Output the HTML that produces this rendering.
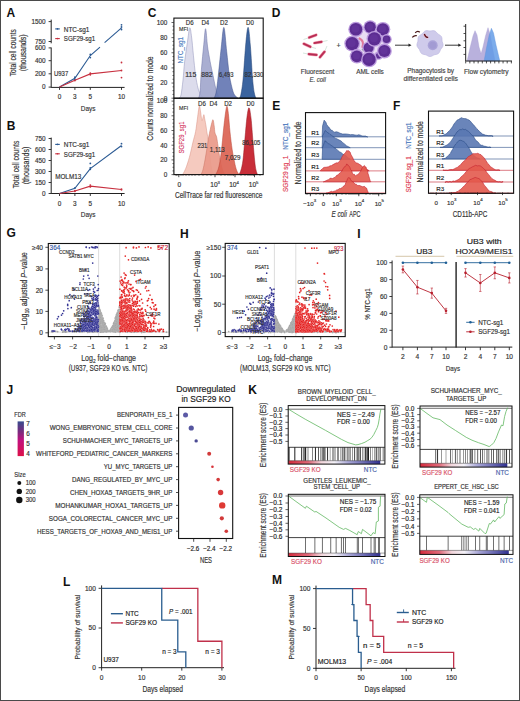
<!DOCTYPE html>
<html><head><meta charset="utf-8"><title>Figure</title>
<style>
html,body{margin:0;padding:0;background:#fff;}
body{width:520px;height:701px;overflow:hidden;position:relative;}
svg{position:absolute;left:0;top:0;display:block;}
text{font-family:"Liberation Sans", sans-serif;}
.frame{position:absolute;left:0;top:0;width:518px;height:699px;border:1px solid #444;}
</style></head>
<body>
<svg width="520" height="701" viewBox="0 0 520 701" font-family="Liberation Sans, sans-serif">
<rect x="0" y="0" width="520" height="701" fill="#fff"/>
<text x="6.60" y="16.79" font-size="12" text-anchor="start" fill="#111" stroke="#111" stroke-width="0" font-weight="bold" >A</text>
<line x1="51.20" y1="19.60" x2="51.20" y2="43.30" stroke="#222" stroke-width="1.0" />
<line x1="51.20" y1="47.50" x2="51.20" y2="87.80" stroke="#222" stroke-width="1.0" />
<line x1="48.60" y1="21.60" x2="51.20" y2="21.60" stroke="#222" stroke-width="0.9" />
<text x="45.60" y="23.90" font-size="6.4" text-anchor="end" fill="#333" stroke="#333" stroke-width="0.16" >1500</text>
<line x1="48.60" y1="41.50" x2="51.20" y2="41.50" stroke="#222" stroke-width="0.9" />
<text x="45.60" y="43.80" font-size="6.4" text-anchor="end" fill="#333" stroke="#333" stroke-width="0.16" >750</text>
<line x1="48.60" y1="47.90" x2="51.20" y2="47.90" stroke="#222" stroke-width="0.9" />
<text x="45.60" y="50.20" font-size="6.4" text-anchor="end" fill="#333" stroke="#333" stroke-width="0.16" >600</text>
<line x1="48.60" y1="60.70" x2="51.20" y2="60.70" stroke="#222" stroke-width="0.9" />
<text x="45.60" y="63.00" font-size="6.4" text-anchor="end" fill="#333" stroke="#333" stroke-width="0.16" >400</text>
<line x1="48.60" y1="73.80" x2="51.20" y2="73.80" stroke="#222" stroke-width="0.9" />
<text x="45.60" y="76.10" font-size="6.4" text-anchor="end" fill="#333" stroke="#333" stroke-width="0.16" >200</text>
<line x1="48.60" y1="87.10" x2="51.20" y2="87.10" stroke="#222" stroke-width="0.9" />
<text x="45.60" y="89.40" font-size="6.4" text-anchor="end" fill="#333" stroke="#333" stroke-width="0.16" >0</text>
<line x1="51.20" y1="87.40" x2="124.60" y2="87.40" stroke="#222" stroke-width="1.0" />
<line x1="59.50" y1="87.40" x2="59.50" y2="89.90" stroke="#222" stroke-width="0.9" />
<text x="59.50" y="98.80" font-size="6.4" text-anchor="middle" fill="#333" stroke="#333" stroke-width="0.16" >0</text>
<line x1="74.90" y1="87.40" x2="74.90" y2="89.90" stroke="#222" stroke-width="0.9" />
<text x="74.90" y="98.80" font-size="6.4" text-anchor="middle" fill="#333" stroke="#333" stroke-width="0.16" >3</text>
<line x1="90.30" y1="87.40" x2="90.30" y2="89.90" stroke="#222" stroke-width="0.9" />
<text x="90.30" y="98.80" font-size="6.4" text-anchor="middle" fill="#333" stroke="#333" stroke-width="0.16" >5</text>
<line x1="121.50" y1="87.40" x2="121.50" y2="89.90" stroke="#222" stroke-width="0.9" />
<text x="121.50" y="98.80" font-size="6.4" text-anchor="middle" fill="#333" stroke="#333" stroke-width="0.16" >10</text>
<text x="88.10" y="111.28" font-size="8" text-anchor="middle" fill="#333" stroke="#333" stroke-width="0.16" textLength="14.6" lengthAdjust="spacingAndGlyphs" >Days</text>
<text transform="translate(12.70,52.70) rotate(-90)" x="0" y="3.10" font-size="8.6" text-anchor="middle" fill="#333" stroke="#333" stroke-width="0.16" textLength="47.3" lengthAdjust="spacingAndGlyphs" >Total cell counts</text>
<text transform="translate(23.20,52.90) rotate(-90)" x="0" y="3.10" font-size="8.6" text-anchor="middle" fill="#333" stroke="#333" stroke-width="0.16" textLength="36.8" lengthAdjust="spacingAndGlyphs" >(thousands)</text>
<line x1="55.20" y1="28.90" x2="59.80" y2="28.90" stroke="#2c5b94" stroke-width="1.1" />
<circle cx="57.50" cy="28.90" r="0.80" fill="#2c5b94" stroke="none" stroke-width="0.5" />
<text x="63.80" y="31.70" font-size="6.4" text-anchor="start" fill="#333" stroke="#333" stroke-width="0.16" textLength="25.6" lengthAdjust="spacingAndGlyphs" >NTC-sg1</text>
<line x1="55.20" y1="38.60" x2="59.80" y2="38.60" stroke="#c8303f" stroke-width="1.1" />
<circle cx="57.50" cy="38.60" r="0.80" fill="#c8303f" stroke="none" stroke-width="0.5" />
<text x="63.80" y="41.40" font-size="6.4" text-anchor="start" fill="#333" stroke="#333" stroke-width="0.16" textLength="31.4" lengthAdjust="spacingAndGlyphs" >SGF29-sg1</text>
<text x="54.00" y="76.30" font-size="6.4" text-anchor="start" fill="#333" stroke="#333" stroke-width="0.16" textLength="14.2" lengthAdjust="spacingAndGlyphs" >U937</text>
<path d="M59.50,87.10 L74.90,78.30 L90.30,55.50 L100.00,47.20" fill="none" stroke="#2c5b94" stroke-width="1.1" />
<path d="M104.60,42.60 L121.50,27.80" fill="none" stroke="#2c5b94" stroke-width="1.1" />
<circle cx="74.90" cy="77.20" r="0.90" fill="#2c5b94" stroke="none" stroke-width="0.5" />
<circle cx="74.90" cy="79.50" r="0.90" fill="#2c5b94" stroke="none" stroke-width="0.5" />
<circle cx="90.30" cy="54.50" r="0.90" fill="#2c5b94" stroke="none" stroke-width="0.5" />
<circle cx="90.30" cy="57.60" r="0.90" fill="#2c5b94" stroke="none" stroke-width="0.5" />
<circle cx="121.50" cy="24.80" r="0.90" fill="#2c5b94" stroke="none" stroke-width="0.5" />
<circle cx="121.50" cy="29.50" r="0.90" fill="#2c5b94" stroke="none" stroke-width="0.5" />
<circle cx="121.50" cy="27.00" r="0.90" fill="#2c5b94" stroke="none" stroke-width="0.5" />
<path d="M59.50,87.10 L74.90,80.30 L90.30,73.90 L121.50,70.50" fill="none" stroke="#c8303f" stroke-width="1.1" />
<circle cx="74.90" cy="80.50" r="0.90" fill="#c8303f" stroke="none" stroke-width="0.5" />
<circle cx="90.30" cy="73.20" r="0.90" fill="#c8303f" stroke="none" stroke-width="0.5" />
<circle cx="90.30" cy="74.80" r="0.90" fill="#c8303f" stroke="none" stroke-width="0.5" />
<circle cx="121.50" cy="62.50" r="0.90" fill="#c8303f" stroke="none" stroke-width="0.5" />
<circle cx="121.50" cy="77.60" r="0.90" fill="#c8303f" stroke="none" stroke-width="0.5" />
<circle cx="121.50" cy="70.50" r="0.90" fill="#c8303f" stroke="none" stroke-width="0.5" />
<text x="6.80" y="129.79" font-size="12" text-anchor="start" fill="#111" stroke="#111" stroke-width="0" font-weight="bold" >B</text>
<line x1="51.20" y1="137.60" x2="51.20" y2="194.00" stroke="#222" stroke-width="1.0" />
<line x1="48.60" y1="138.50" x2="51.20" y2="138.50" stroke="#222" stroke-width="0.9" />
<text x="45.60" y="140.80" font-size="6.4" text-anchor="end" fill="#333" stroke="#333" stroke-width="0.16" >750</text>
<line x1="48.60" y1="149.50" x2="51.20" y2="149.50" stroke="#222" stroke-width="0.9" />
<text x="45.60" y="151.80" font-size="6.4" text-anchor="end" fill="#333" stroke="#333" stroke-width="0.16" >600</text>
<line x1="48.60" y1="160.50" x2="51.20" y2="160.50" stroke="#222" stroke-width="0.9" />
<text x="45.60" y="162.80" font-size="6.4" text-anchor="end" fill="#333" stroke="#333" stroke-width="0.16" >450</text>
<line x1="48.60" y1="171.50" x2="51.20" y2="171.50" stroke="#222" stroke-width="0.9" />
<text x="45.60" y="173.80" font-size="6.4" text-anchor="end" fill="#333" stroke="#333" stroke-width="0.16" >300</text>
<line x1="48.60" y1="182.50" x2="51.20" y2="182.50" stroke="#222" stroke-width="0.9" />
<text x="45.60" y="184.80" font-size="6.4" text-anchor="end" fill="#333" stroke="#333" stroke-width="0.16" >150</text>
<line x1="48.60" y1="193.50" x2="51.20" y2="193.50" stroke="#222" stroke-width="0.9" />
<text x="45.60" y="195.80" font-size="6.4" text-anchor="end" fill="#333" stroke="#333" stroke-width="0.16" >0</text>
<line x1="51.20" y1="193.50" x2="124.60" y2="193.50" stroke="#222" stroke-width="1.0" />
<line x1="59.50" y1="193.50" x2="59.50" y2="196.00" stroke="#222" stroke-width="0.9" />
<text x="59.50" y="206.00" font-size="6.4" text-anchor="middle" fill="#333" stroke="#333" stroke-width="0.16" >0</text>
<line x1="74.90" y1="193.50" x2="74.90" y2="196.00" stroke="#222" stroke-width="0.9" />
<text x="74.90" y="206.00" font-size="6.4" text-anchor="middle" fill="#333" stroke="#333" stroke-width="0.16" >3</text>
<line x1="90.30" y1="193.50" x2="90.30" y2="196.00" stroke="#222" stroke-width="0.9" />
<text x="90.30" y="206.00" font-size="6.4" text-anchor="middle" fill="#333" stroke="#333" stroke-width="0.16" >5</text>
<line x1="121.50" y1="193.50" x2="121.50" y2="196.00" stroke="#222" stroke-width="0.9" />
<text x="121.50" y="206.00" font-size="6.4" text-anchor="middle" fill="#333" stroke="#333" stroke-width="0.16" >10</text>
<text x="88.10" y="217.08" font-size="8" text-anchor="middle" fill="#333" stroke="#333" stroke-width="0.16" textLength="14.6" lengthAdjust="spacingAndGlyphs" >Days</text>
<text transform="translate(16.20,164.50) rotate(-90)" x="0" y="3.10" font-size="8.6" text-anchor="middle" fill="#333" stroke="#333" stroke-width="0.16" textLength="47.5" lengthAdjust="spacingAndGlyphs" >Total cell counts</text>
<text transform="translate(26.30,165.40) rotate(-90)" x="0" y="3.10" font-size="8.6" text-anchor="middle" fill="#333" stroke="#333" stroke-width="0.16" textLength="37.8" lengthAdjust="spacingAndGlyphs" >(thousands)</text>
<line x1="55.20" y1="144.40" x2="59.80" y2="144.40" stroke="#2c5b94" stroke-width="1.1" />
<circle cx="57.50" cy="144.40" r="0.80" fill="#2c5b94" stroke="none" stroke-width="0.5" />
<text x="63.80" y="147.10" font-size="6.4" text-anchor="start" fill="#333" stroke="#333" stroke-width="0.16" textLength="25.6" lengthAdjust="spacingAndGlyphs" >NTC-sg1</text>
<line x1="55.20" y1="153.80" x2="59.80" y2="153.80" stroke="#c8303f" stroke-width="1.1" />
<circle cx="57.50" cy="153.80" r="0.80" fill="#c8303f" stroke="none" stroke-width="0.5" />
<text x="63.80" y="156.50" font-size="6.4" text-anchor="start" fill="#333" stroke="#333" stroke-width="0.16" textLength="31.4" lengthAdjust="spacingAndGlyphs" >SGF29-sg1</text>
<text x="55.20" y="178.50" font-size="6.4" text-anchor="start" fill="#333" stroke="#333" stroke-width="0.16" textLength="26" lengthAdjust="spacingAndGlyphs" >MOLM13</text>
<path d="M59.50,193.50 L74.90,188.37 L90.30,168.57 L121.50,145.47" fill="none" stroke="#2c5b94" stroke-width="1.1" />
<circle cx="74.90" cy="188.00" r="0.90" fill="#2c5b94" stroke="none" stroke-width="0.5" />
<circle cx="90.30" cy="169.30" r="0.90" fill="#2c5b94" stroke="none" stroke-width="0.5" />
<circle cx="90.30" cy="167.83" r="0.90" fill="#2c5b94" stroke="none" stroke-width="0.5" />
<circle cx="90.30" cy="163.43" r="0.90" fill="#2c5b94" stroke="none" stroke-width="0.5" />
<circle cx="121.50" cy="146.57" r="0.90" fill="#2c5b94" stroke="none" stroke-width="0.5" />
<circle cx="121.50" cy="143.63" r="0.90" fill="#2c5b94" stroke="none" stroke-width="0.5" />
<path d="M59.50,193.50 L74.90,190.93 L90.30,186.17 L121.50,189.47" fill="none" stroke="#c8303f" stroke-width="1.1" />
<circle cx="74.90" cy="190.57" r="0.90" fill="#c8303f" stroke="none" stroke-width="0.5" />
<circle cx="74.90" cy="191.30" r="0.90" fill="#c8303f" stroke="none" stroke-width="0.5" />
<circle cx="90.30" cy="186.90" r="0.90" fill="#c8303f" stroke="none" stroke-width="0.5" />
<circle cx="90.30" cy="185.07" r="0.90" fill="#c8303f" stroke="none" stroke-width="0.5" />
<circle cx="121.50" cy="189.83" r="0.90" fill="#c8303f" stroke="none" stroke-width="0.5" />
<circle cx="121.50" cy="189.10" r="0.90" fill="#c8303f" stroke="none" stroke-width="0.5" />
<text x="147.80" y="16.59" font-size="12" text-anchor="start" fill="#111" stroke="#111" stroke-width="0" font-weight="bold" >C</text>
<path d="M179.00,98.20 C179.33,97.67 180.33,98.03 181.00,95.00 C181.67,91.97 182.40,85.50 183.00,80.00 C183.60,74.50 183.87,68.27 184.60,62.00 C185.33,55.73 186.55,48.10 187.40,42.40 C188.25,36.70 189.00,28.70 189.70,27.80 C190.40,26.90 190.98,32.43 191.60,37.00 C192.22,41.57 192.73,48.82 193.40,55.20 C194.07,61.58 194.83,69.83 195.60,75.30 C196.37,80.77 197.23,84.95 198.00,88.00 C198.77,91.05 199.23,91.90 200.20,93.60 C201.17,95.30 203.20,97.43 203.80,98.20 Z" fill="#d9d9eb" stroke="#8e90b8" stroke-width="0.5" fill-opacity="0.93"/>
<path d="M198.50,98.20 C198.75,97.17 199.52,96.73 200.00,92.00 C200.48,87.27 200.77,77.75 201.40,69.80 C202.03,61.85 203.10,51.15 203.80,44.30 C204.50,37.45 204.98,28.40 205.60,28.70 C206.22,29.00 206.88,41.38 207.50,46.10 C208.12,50.82 208.72,53.68 209.30,57.00 C209.88,60.32 210.38,62.95 211.00,66.00 C211.62,69.05 212.22,71.62 213.00,75.30 C213.78,78.98 214.87,84.82 215.70,88.10 C216.53,91.38 217.28,93.32 218.00,95.00 C218.72,96.68 219.67,97.67 220.00,98.20 Z" fill="#a3a8ce" stroke="#6d73a5" stroke-width="0.5" fill-opacity="0.93"/>
<path d="M214.00,98.20 C214.33,97.33 215.35,96.20 216.00,93.00 C216.65,89.80 217.03,86.52 217.90,79.00 C218.77,71.48 220.20,56.50 221.20,47.90 C222.20,39.30 222.98,26.78 223.90,27.40 C224.82,28.02 225.78,43.62 226.70,51.60 C227.62,59.58 228.33,68.60 229.40,75.30 C230.47,82.00 232.00,88.27 233.10,91.80 C234.20,95.33 235.18,95.43 236.00,96.50 C236.82,97.57 237.67,97.92 238.00,98.20 Z" fill="#6679b4" stroke="#3e5188" stroke-width="0.5" fill-opacity="0.93"/>
<path d="M239.50,98.20 C239.75,97.50 240.40,97.20 241.00,94.00 C241.60,90.80 242.28,87.60 243.10,79.00 C243.92,70.40 245.05,51.00 245.90,42.40 C246.75,33.80 247.45,26.78 248.20,27.40 C248.95,28.02 249.67,37.50 250.40,46.10 C251.13,54.70 251.95,71.18 252.60,79.00 C253.25,86.82 253.73,89.80 254.30,93.00 C254.87,96.20 255.72,97.33 256.00,98.20 Z" fill="#2c5898" stroke="#1c3c70" stroke-width="0.5" fill-opacity="0.93"/>
<path d="M182.50,174.60 C182.85,174.00 183.85,172.60 184.60,171.00 C185.35,169.40 186.10,167.67 187.00,165.00 C187.90,162.33 189.00,158.83 190.00,155.00 C191.00,151.17 192.07,145.90 193.00,142.00 C193.93,138.10 194.85,135.60 195.60,131.60 C196.35,127.60 196.88,122.27 197.50,118.00 C198.12,113.73 198.78,107.00 199.30,106.00 C199.82,105.00 200.15,109.57 200.60,112.00 C201.05,114.43 201.47,120.15 202.00,120.60 C202.53,121.05 203.35,115.00 203.80,114.70 C204.25,114.40 204.33,116.92 204.70,118.80 C205.07,120.68 205.62,123.63 206.00,126.00 C206.38,128.37 206.60,130.55 207.00,133.00 C207.40,135.45 208.02,137.87 208.40,140.70 C208.78,143.53 209.00,146.95 209.30,150.00 C209.60,153.05 209.83,156.00 210.20,159.00 C210.57,162.00 211.03,165.75 211.50,168.00 C211.97,170.25 212.42,171.40 213.00,172.50 C213.58,173.60 214.67,174.25 215.00,174.60 Z" fill="#f4c6ba" stroke="#d98f80" stroke-width="0.5" fill-opacity="0.93"/>
<path d="M201.00,174.60 C201.32,173.83 202.23,172.43 202.90,170.00 C203.57,167.57 204.32,163.67 205.00,160.00 C205.68,156.33 206.42,151.67 207.00,148.00 C207.58,144.33 207.97,141.05 208.50,138.00 C209.03,134.95 209.70,132.03 210.20,129.70 C210.70,127.37 211.03,125.67 211.50,124.00 C211.97,122.33 212.55,119.37 213.00,119.70 C213.45,120.03 213.87,123.78 214.20,126.00 C214.53,128.22 214.60,131.17 215.00,133.00 C215.40,134.83 216.10,134.83 216.60,137.00 C217.10,139.17 217.53,142.95 218.00,146.00 C218.47,149.05 218.90,152.30 219.40,155.30 C219.90,158.30 220.40,161.38 221.00,164.00 C221.60,166.62 222.33,169.23 223.00,171.00 C223.67,172.77 224.67,174.00 225.00,174.60 Z" fill="#e99a8a" stroke="#c8705f" stroke-width="0.5" fill-opacity="0.93"/>
<path d="M215.50,174.60 C215.83,174.00 216.83,172.77 217.50,171.00 C218.17,169.23 218.83,167.50 219.50,164.00 C220.17,160.50 220.83,155.67 221.50,150.00 C222.17,144.33 222.83,136.17 223.50,130.00 C224.17,123.83 224.92,116.95 225.50,113.00 C226.08,109.05 226.50,105.97 227.00,106.30 C227.50,106.63 228.00,110.72 228.50,115.00 C229.00,119.28 229.38,126.20 230.00,132.00 C230.62,137.80 231.45,144.80 232.20,149.80 C232.95,154.80 233.78,158.63 234.50,162.00 C235.22,165.37 235.75,167.90 236.50,170.00 C237.25,172.10 238.58,173.83 239.00,174.60 Z" fill="#dc6454" stroke="#b84234" stroke-width="0.5" fill-opacity="0.93"/>
<path d="M239.00,174.60 C239.33,173.83 240.33,172.43 241.00,170.00 C241.67,167.57 242.33,165.33 243.00,160.00 C243.67,154.67 244.33,145.17 245.00,138.00 C245.67,130.83 246.33,122.03 247.00,117.00 C247.67,111.97 248.33,107.63 249.00,107.80 C249.67,107.97 250.33,112.30 251.00,118.00 C251.67,123.70 252.37,134.67 253.00,142.00 C253.63,149.33 254.30,157.33 254.80,162.00 C255.30,166.67 255.55,167.90 256.00,170.00 C256.45,172.10 257.25,173.83 257.50,174.60 Z" fill="#c41e2a" stroke="#95141e" stroke-width="0.5" fill-opacity="0.93"/>
<rect x="173.90" y="18.10" width="89.30" height="80.10" fill="none" stroke="#111" stroke-width="1.1" />
<rect x="173.90" y="98.20" width="89.30" height="76.40" fill="none" stroke="#111" stroke-width="1.1" />
<line x1="171.50" y1="98.20" x2="173.90" y2="98.20" stroke="#222" stroke-width="0.7" />
<text x="167.30" y="100.50" font-size="6.4" text-anchor="end" fill="#333" stroke="#333" stroke-width="0.16" >0</text>
<line x1="171.50" y1="174.60" x2="173.90" y2="174.60" stroke="#222" stroke-width="0.7" />
<text x="167.30" y="176.90" font-size="6.4" text-anchor="end" fill="#333" stroke="#333" stroke-width="0.16" >0</text>
<line x1="172.50" y1="94.42" x2="173.90" y2="94.42" stroke="#222" stroke-width="0.7" />
<line x1="172.50" y1="170.92" x2="173.90" y2="170.92" stroke="#222" stroke-width="0.7" />
<line x1="172.50" y1="90.63" x2="173.90" y2="90.63" stroke="#222" stroke-width="0.7" />
<line x1="172.50" y1="167.25" x2="173.90" y2="167.25" stroke="#222" stroke-width="0.7" />
<line x1="172.50" y1="86.84" x2="173.90" y2="86.84" stroke="#222" stroke-width="0.7" />
<line x1="172.50" y1="163.57" x2="173.90" y2="163.57" stroke="#222" stroke-width="0.7" />
<line x1="171.50" y1="83.06" x2="173.90" y2="83.06" stroke="#222" stroke-width="0.7" />
<text x="167.30" y="85.36" font-size="6.4" text-anchor="end" fill="#333" stroke="#333" stroke-width="0.16" >20</text>
<line x1="171.50" y1="159.90" x2="173.90" y2="159.90" stroke="#222" stroke-width="0.7" />
<text x="167.30" y="162.20" font-size="6.4" text-anchor="end" fill="#333" stroke="#333" stroke-width="0.16" >20</text>
<line x1="172.50" y1="79.28" x2="173.90" y2="79.28" stroke="#222" stroke-width="0.7" />
<line x1="172.50" y1="156.22" x2="173.90" y2="156.22" stroke="#222" stroke-width="0.7" />
<line x1="172.50" y1="75.49" x2="173.90" y2="75.49" stroke="#222" stroke-width="0.7" />
<line x1="172.50" y1="152.55" x2="173.90" y2="152.55" stroke="#222" stroke-width="0.7" />
<line x1="172.50" y1="71.70" x2="173.90" y2="71.70" stroke="#222" stroke-width="0.7" />
<line x1="172.50" y1="148.88" x2="173.90" y2="148.88" stroke="#222" stroke-width="0.7" />
<line x1="171.50" y1="67.92" x2="173.90" y2="67.92" stroke="#222" stroke-width="0.7" />
<text x="167.30" y="70.22" font-size="6.4" text-anchor="end" fill="#333" stroke="#333" stroke-width="0.16" >40</text>
<line x1="171.50" y1="145.20" x2="173.90" y2="145.20" stroke="#222" stroke-width="0.7" />
<text x="167.30" y="147.50" font-size="6.4" text-anchor="end" fill="#333" stroke="#333" stroke-width="0.16" >40</text>
<line x1="172.50" y1="64.14" x2="173.90" y2="64.14" stroke="#222" stroke-width="0.7" />
<line x1="172.50" y1="141.52" x2="173.90" y2="141.52" stroke="#222" stroke-width="0.7" />
<line x1="172.50" y1="60.35" x2="173.90" y2="60.35" stroke="#222" stroke-width="0.7" />
<line x1="172.50" y1="137.85" x2="173.90" y2="137.85" stroke="#222" stroke-width="0.7" />
<line x1="172.50" y1="56.57" x2="173.90" y2="56.57" stroke="#222" stroke-width="0.7" />
<line x1="172.50" y1="134.18" x2="173.90" y2="134.18" stroke="#222" stroke-width="0.7" />
<line x1="171.50" y1="52.78" x2="173.90" y2="52.78" stroke="#222" stroke-width="0.7" />
<text x="167.30" y="55.08" font-size="6.4" text-anchor="end" fill="#333" stroke="#333" stroke-width="0.16" >60</text>
<line x1="171.50" y1="130.50" x2="173.90" y2="130.50" stroke="#222" stroke-width="0.7" />
<text x="167.30" y="132.80" font-size="6.4" text-anchor="end" fill="#333" stroke="#333" stroke-width="0.16" >60</text>
<line x1="172.50" y1="49.00" x2="173.90" y2="49.00" stroke="#222" stroke-width="0.7" />
<line x1="172.50" y1="126.82" x2="173.90" y2="126.82" stroke="#222" stroke-width="0.7" />
<line x1="172.50" y1="45.21" x2="173.90" y2="45.21" stroke="#222" stroke-width="0.7" />
<line x1="172.50" y1="123.15" x2="173.90" y2="123.15" stroke="#222" stroke-width="0.7" />
<line x1="172.50" y1="41.43" x2="173.90" y2="41.43" stroke="#222" stroke-width="0.7" />
<line x1="172.50" y1="119.47" x2="173.90" y2="119.47" stroke="#222" stroke-width="0.7" />
<line x1="171.50" y1="37.64" x2="173.90" y2="37.64" stroke="#222" stroke-width="0.7" />
<text x="167.30" y="39.94" font-size="6.4" text-anchor="end" fill="#333" stroke="#333" stroke-width="0.16" >80</text>
<line x1="171.50" y1="115.80" x2="173.90" y2="115.80" stroke="#222" stroke-width="0.7" />
<text x="167.30" y="118.10" font-size="6.4" text-anchor="end" fill="#333" stroke="#333" stroke-width="0.16" >80</text>
<line x1="172.50" y1="33.86" x2="173.90" y2="33.86" stroke="#222" stroke-width="0.7" />
<line x1="172.50" y1="112.12" x2="173.90" y2="112.12" stroke="#222" stroke-width="0.7" />
<line x1="172.50" y1="30.07" x2="173.90" y2="30.07" stroke="#222" stroke-width="0.7" />
<line x1="172.50" y1="108.45" x2="173.90" y2="108.45" stroke="#222" stroke-width="0.7" />
<line x1="172.50" y1="26.28" x2="173.90" y2="26.28" stroke="#222" stroke-width="0.7" />
<line x1="172.50" y1="104.77" x2="173.90" y2="104.77" stroke="#222" stroke-width="0.7" />
<line x1="171.50" y1="22.50" x2="173.90" y2="22.50" stroke="#222" stroke-width="0.7" />
<text x="167.30" y="24.80" font-size="6.4" text-anchor="end" fill="#333" stroke="#333" stroke-width="0.16" >100</text>
<line x1="171.50" y1="101.10" x2="173.90" y2="101.10" stroke="#222" stroke-width="0.7" />
<text x="167.30" y="103.40" font-size="6.4" text-anchor="end" fill="#333" stroke="#333" stroke-width="0.16" >100</text>
<text x="189.70" y="25.20" font-size="6.4" text-anchor="middle" fill="#333" stroke="#333" stroke-width="0.16" textLength="7.8" lengthAdjust="spacingAndGlyphs" >D6</text>
<text x="205.30" y="25.20" font-size="6.4" text-anchor="middle" fill="#333" stroke="#333" stroke-width="0.16" textLength="7.8" lengthAdjust="spacingAndGlyphs" >D4</text>
<text x="223.90" y="25.20" font-size="6.4" text-anchor="middle" fill="#333" stroke="#333" stroke-width="0.16" textLength="7.8" lengthAdjust="spacingAndGlyphs" >D2</text>
<text x="250.00" y="25.20" font-size="6.4" text-anchor="middle" fill="#333" stroke="#333" stroke-width="0.16" textLength="7.8" lengthAdjust="spacingAndGlyphs" >D0</text>
<text x="179.10" y="30.96" font-size="6.0" text-anchor="start" fill="#333" stroke="#333" stroke-width="0.16" textLength="9.0" lengthAdjust="spacingAndGlyphs" >MFI</text>
<text transform="translate(180.20,50.20) rotate(-90)" x="0" y="2.52" font-size="7.0" text-anchor="middle" fill="#4d7cc0" stroke="#4d7cc0" stroke-width="0.16" textLength="26.4" lengthAdjust="spacingAndGlyphs" >NTC_sg1</text>
<text x="190.80" y="76.78" font-size="6.6" text-anchor="middle" fill="#333" stroke="#333" stroke-width="0.16" textLength="11" lengthAdjust="spacingAndGlyphs" >115</text>
<text x="206.80" y="76.78" font-size="6.6" text-anchor="middle" fill="#333" stroke="#333" stroke-width="0.16" textLength="11.3" lengthAdjust="spacingAndGlyphs" >882</text>
<text x="226.20" y="76.78" font-size="6.6" text-anchor="middle" fill="#333" stroke="#333" stroke-width="0.16" textLength="14.5" lengthAdjust="spacingAndGlyphs" >6,493</text>
<text x="254.00" y="76.78" font-size="6.6" text-anchor="middle" fill="#333" stroke="#333" stroke-width="0.16" textLength="19" lengthAdjust="spacingAndGlyphs" >82,330</text>
<text x="202.00" y="105.50" font-size="6.4" text-anchor="middle" fill="#333" stroke="#333" stroke-width="0.16" textLength="7.8" lengthAdjust="spacingAndGlyphs" >D6</text>
<text x="213.50" y="105.50" font-size="6.4" text-anchor="middle" fill="#333" stroke="#333" stroke-width="0.16" textLength="7.8" lengthAdjust="spacingAndGlyphs" >D4</text>
<text x="228.10" y="105.50" font-size="6.4" text-anchor="middle" fill="#333" stroke="#333" stroke-width="0.16" textLength="7.8" lengthAdjust="spacingAndGlyphs" >D2</text>
<text x="250.40" y="105.50" font-size="6.4" text-anchor="middle" fill="#333" stroke="#333" stroke-width="0.16" textLength="7.8" lengthAdjust="spacingAndGlyphs" >D0</text>
<text x="179.10" y="110.36" font-size="6.0" text-anchor="start" fill="#333" stroke="#333" stroke-width="0.16" textLength="9.0" lengthAdjust="spacingAndGlyphs" >MFI</text>
<text transform="translate(181.90,137.50) rotate(-90)" x="0" y="2.52" font-size="7.0" text-anchor="middle" fill="#d6406a" stroke="#d6406a" stroke-width="0.16" textLength="32" lengthAdjust="spacingAndGlyphs" >SGF29_sg1</text>
<text x="202.40" y="148.18" font-size="6.6" text-anchor="middle" fill="#333" stroke="#333" stroke-width="0.16" textLength="10" lengthAdjust="spacingAndGlyphs" >231</text>
<text x="217.30" y="152.18" font-size="6.6" text-anchor="middle" fill="#333" stroke="#333" stroke-width="0.16" textLength="14.9" lengthAdjust="spacingAndGlyphs" >1,113</text>
<text x="232.60" y="160.48" font-size="6.6" text-anchor="middle" fill="#333" stroke="#333" stroke-width="0.16" textLength="15.6" lengthAdjust="spacingAndGlyphs" >7,029</text>
<text x="251.30" y="144.58" font-size="6.6" text-anchor="middle" fill="#333" stroke="#333" stroke-width="0.16" textLength="18.3" lengthAdjust="spacingAndGlyphs" >86,105</text>
<text x="179.40" y="186.98" font-size="6.6" text-anchor="middle" fill="#333" stroke="#333" stroke-width="0.16" >0</text>
<text x="214.00" y="187.38" font-size="6.6" text-anchor="middle" fill="#333" stroke="#333" stroke-width="0.16" >10</text>
<text x="217.60" y="183.75" font-size="4.3" text-anchor="start" fill="#333" stroke="#333" stroke-width="0.16" >3</text>
<text x="232.80" y="187.38" font-size="6.6" text-anchor="middle" fill="#333" stroke="#333" stroke-width="0.16" >10</text>
<text x="236.40" y="183.75" font-size="4.3" text-anchor="start" fill="#333" stroke="#333" stroke-width="0.16" >4</text>
<text x="252.40" y="187.38" font-size="6.6" text-anchor="middle" fill="#333" stroke="#333" stroke-width="0.16" >10</text>
<text x="256.00" y="183.75" font-size="4.3" text-anchor="start" fill="#333" stroke="#333" stroke-width="0.16" >5</text>
<line x1="178.80" y1="174.60" x2="178.80" y2="177.20" stroke="#222" stroke-width="0.8" />
<line x1="215.00" y1="174.60" x2="215.00" y2="177.20" stroke="#222" stroke-width="0.8" />
<line x1="235.00" y1="174.60" x2="235.00" y2="177.20" stroke="#222" stroke-width="0.8" />
<line x1="254.50" y1="174.60" x2="254.50" y2="177.20" stroke="#222" stroke-width="0.8" />
<line x1="176.00" y1="174.60" x2="176.00" y2="176.00" stroke="#222" stroke-width="0.5" />
<line x1="177.00" y1="174.60" x2="177.00" y2="176.00" stroke="#222" stroke-width="0.5" />
<line x1="181.00" y1="174.60" x2="181.00" y2="176.00" stroke="#222" stroke-width="0.5" />
<line x1="183.00" y1="174.60" x2="183.00" y2="176.00" stroke="#222" stroke-width="0.5" />
<line x1="186.00" y1="174.60" x2="186.00" y2="176.00" stroke="#222" stroke-width="0.5" />
<line x1="189.00" y1="174.60" x2="189.00" y2="176.00" stroke="#222" stroke-width="0.5" />
<line x1="192.00" y1="174.60" x2="192.00" y2="176.00" stroke="#222" stroke-width="0.5" />
<line x1="195.00" y1="174.60" x2="195.00" y2="176.00" stroke="#222" stroke-width="0.5" />
<line x1="199.00" y1="174.60" x2="199.00" y2="176.00" stroke="#222" stroke-width="0.5" />
<line x1="203.00" y1="174.60" x2="203.00" y2="176.00" stroke="#222" stroke-width="0.5" />
<line x1="207.00" y1="174.60" x2="207.00" y2="176.00" stroke="#222" stroke-width="0.5" />
<line x1="211.00" y1="174.60" x2="211.00" y2="176.00" stroke="#222" stroke-width="0.5" />
<line x1="221.00" y1="174.60" x2="221.00" y2="176.00" stroke="#222" stroke-width="0.5" />
<line x1="225.00" y1="174.60" x2="225.00" y2="176.00" stroke="#222" stroke-width="0.5" />
<line x1="228.00" y1="174.60" x2="228.00" y2="176.00" stroke="#222" stroke-width="0.5" />
<line x1="230.00" y1="174.60" x2="230.00" y2="176.00" stroke="#222" stroke-width="0.5" />
<line x1="232.00" y1="174.60" x2="232.00" y2="176.00" stroke="#222" stroke-width="0.5" />
<line x1="233.50" y1="174.60" x2="233.50" y2="176.00" stroke="#222" stroke-width="0.5" />
<line x1="241.00" y1="174.60" x2="241.00" y2="176.00" stroke="#222" stroke-width="0.5" />
<line x1="245.00" y1="174.60" x2="245.00" y2="176.00" stroke="#222" stroke-width="0.5" />
<line x1="248.00" y1="174.60" x2="248.00" y2="176.00" stroke="#222" stroke-width="0.5" />
<line x1="250.00" y1="174.60" x2="250.00" y2="176.00" stroke="#222" stroke-width="0.5" />
<line x1="252.00" y1="174.60" x2="252.00" y2="176.00" stroke="#222" stroke-width="0.5" />
<line x1="253.50" y1="174.60" x2="253.50" y2="176.00" stroke="#222" stroke-width="0.5" />
<line x1="260.00" y1="174.60" x2="260.00" y2="176.00" stroke="#222" stroke-width="0.5" />
<text x="218.70" y="198.22" font-size="8.4" text-anchor="middle" fill="#333" stroke="#333" stroke-width="0.16" textLength="87.5" lengthAdjust="spacingAndGlyphs" >CellTrace far red fluorescence</text>
<text transform="translate(150.20,98.50) rotate(-90)" x="0" y="3.10" font-size="8.6" text-anchor="middle" fill="#333" stroke="#333" stroke-width="0.16" textLength="84.3" lengthAdjust="spacingAndGlyphs" >Counts normalized to mode</text>
<text x="271.80" y="16.79" font-size="12" text-anchor="start" fill="#111" stroke="#111" stroke-width="0" font-weight="bold" >D</text>
<line x1="309.20" y1="37.60" x2="303.50" y2="39.50" stroke="#b9d6c8" stroke-width="0.6" />
<line x1="321.50" y1="41.80" x2="327.50" y2="40.50" stroke="#b9d6c8" stroke-width="0.6" />
<line x1="310.30" y1="46.80" x2="316.00" y2="48.50" stroke="#b9d6c8" stroke-width="0.6" />
<line x1="308.80" y1="54.20" x2="303.00" y2="53.00" stroke="#b9d6c8" stroke-width="0.6" />
<line x1="324.50" y1="51.80" x2="327.00" y2="46.00" stroke="#b9d6c8" stroke-width="0.6" />
<line x1="309.20" y1="37.60" x2="316.10" y2="34.90" stroke="#f4c0cc" stroke-width="3.2" stroke-linecap="round"/>
<line x1="309.20" y1="37.60" x2="316.10" y2="34.90" stroke="#cc3a60" stroke-width="2.2" stroke-linecap="round"/>
<line x1="309.20" y1="37.60" x2="316.10" y2="34.90" stroke="#a8284e" stroke-width="0.8" stroke-linecap="round"/>
<line x1="314.50" y1="43.00" x2="321.50" y2="41.80" stroke="#f4c0cc" stroke-width="3.2" stroke-linecap="round"/>
<line x1="314.50" y1="43.00" x2="321.50" y2="41.80" stroke="#cc3a60" stroke-width="2.2" stroke-linecap="round"/>
<line x1="314.50" y1="43.00" x2="321.50" y2="41.80" stroke="#a8284e" stroke-width="0.8" stroke-linecap="round"/>
<line x1="303.80" y1="43.80" x2="310.30" y2="46.80" stroke="#f4c0cc" stroke-width="3.2" stroke-linecap="round"/>
<line x1="303.80" y1="43.80" x2="310.30" y2="46.80" stroke="#cc3a60" stroke-width="2.2" stroke-linecap="round"/>
<line x1="303.80" y1="43.80" x2="310.30" y2="46.80" stroke="#a8284e" stroke-width="0.8" stroke-linecap="round"/>
<line x1="308.80" y1="54.20" x2="316.50" y2="54.90" stroke="#f4c0cc" stroke-width="3.2" stroke-linecap="round"/>
<line x1="308.80" y1="54.20" x2="316.50" y2="54.90" stroke="#cc3a60" stroke-width="2.2" stroke-linecap="round"/>
<line x1="308.80" y1="54.20" x2="316.50" y2="54.90" stroke="#a8284e" stroke-width="0.8" stroke-linecap="round"/>
<line x1="319.90" y1="57.20" x2="324.50" y2="51.80" stroke="#f4c0cc" stroke-width="3.2" stroke-linecap="round"/>
<line x1="319.90" y1="57.20" x2="324.50" y2="51.80" stroke="#cc3a60" stroke-width="2.2" stroke-linecap="round"/>
<line x1="319.90" y1="57.20" x2="324.50" y2="51.80" stroke="#a8284e" stroke-width="0.8" stroke-linecap="round"/>
<text x="338.50" y="48.42" font-size="7" text-anchor="middle" fill="#444" stroke="#444" stroke-width="0.16" >+</text>
<circle cx="369.00" cy="43.50" r="19.00" fill="#e9def3" stroke="none" stroke-width="0.5" />
<path d="M359.5,38.5 Q364.5,41 362.5,47" fill="none" stroke="#e07a9a" stroke-width="2.2" stroke-linecap="round"/>
<path d="M362,49 L364,51" fill="none" stroke="#8aa79a" stroke-width="1.2" />
<circle cx="355.90" cy="29.30" r="7.60" fill="#bc9cde" stroke="none" stroke-width="0.5" />
<circle cx="355.90" cy="29.30" r="6.30" fill="#5c2d92" stroke="none" stroke-width="0.5" />
<circle cx="355.40" cy="28.80" r="3.78" fill="#6a3ca2" stroke="none" stroke-width="0.5" opacity="0.45"/>
<circle cx="370.20" cy="27.20" r="6.90" fill="#bc9cde" stroke="none" stroke-width="0.5" />
<circle cx="370.20" cy="27.20" r="5.60" fill="#5c2d92" stroke="none" stroke-width="0.5" />
<circle cx="369.70" cy="26.70" r="3.36" fill="#6a3ca2" stroke="none" stroke-width="0.5" opacity="0.45"/>
<circle cx="382.90" cy="29.30" r="7.40" fill="#bc9cde" stroke="none" stroke-width="0.5" />
<circle cx="382.90" cy="29.30" r="6.10" fill="#5c2d92" stroke="none" stroke-width="0.5" />
<circle cx="382.40" cy="28.80" r="3.66" fill="#6a3ca2" stroke="none" stroke-width="0.5" opacity="0.45"/>
<circle cx="368.60" cy="47.80" r="6.30" fill="#bc9cde" stroke="none" stroke-width="0.5" />
<circle cx="368.60" cy="47.80" r="5.00" fill="#5c2d92" stroke="none" stroke-width="0.5" />
<circle cx="368.10" cy="47.30" r="3.00" fill="#6a3ca2" stroke="none" stroke-width="0.5" opacity="0.45"/>
<circle cx="386.60" cy="39.30" r="5.10" fill="#bc9cde" stroke="none" stroke-width="0.5" />
<circle cx="386.60" cy="39.30" r="3.80" fill="#5c2d92" stroke="none" stroke-width="0.5" />
<circle cx="386.10" cy="38.80" r="2.28" fill="#6a3ca2" stroke="none" stroke-width="0.5" opacity="0.45"/>
<circle cx="378.60" cy="55.70" r="4.10" fill="#bc9cde" stroke="none" stroke-width="0.5" />
<circle cx="378.60" cy="55.70" r="2.80" fill="#5c2d92" stroke="none" stroke-width="0.5" />
<circle cx="378.10" cy="55.20" r="1.68" fill="#6a3ca2" stroke="none" stroke-width="0.5" opacity="0.45"/>
<circle cx="374.40" cy="38.80" r="7.90" fill="#bc9cde" stroke="none" stroke-width="0.5" />
<circle cx="374.40" cy="38.80" r="6.60" fill="#5c2d92" stroke="none" stroke-width="0.5" />
<circle cx="373.90" cy="38.30" r="3.96" fill="#6a3ca2" stroke="none" stroke-width="0.5" opacity="0.45"/>
<circle cx="352.20" cy="43.60" r="7.90" fill="#bc9cde" stroke="none" stroke-width="0.5" />
<circle cx="352.20" cy="43.60" r="6.60" fill="#5c2d92" stroke="none" stroke-width="0.5" />
<circle cx="351.70" cy="43.10" r="3.96" fill="#6a3ca2" stroke="none" stroke-width="0.5" opacity="0.45"/>
<circle cx="384.40" cy="51.00" r="7.40" fill="#bc9cde" stroke="none" stroke-width="0.5" />
<circle cx="384.40" cy="51.00" r="6.10" fill="#5c2d92" stroke="none" stroke-width="0.5" />
<circle cx="383.90" cy="50.50" r="3.66" fill="#6a3ca2" stroke="none" stroke-width="0.5" opacity="0.45"/>
<circle cx="356.90" cy="56.30" r="7.20" fill="#bc9cde" stroke="none" stroke-width="0.5" />
<circle cx="356.90" cy="56.30" r="5.90" fill="#5c2d92" stroke="none" stroke-width="0.5" />
<circle cx="356.40" cy="55.80" r="3.54" fill="#6a3ca2" stroke="none" stroke-width="0.5" opacity="0.45"/>
<circle cx="369.10" cy="59.40" r="7.90" fill="#bc9cde" stroke="none" stroke-width="0.5" />
<circle cx="369.10" cy="59.40" r="6.60" fill="#5c2d92" stroke="none" stroke-width="0.5" />
<circle cx="368.60" cy="58.90" r="3.96" fill="#6a3ca2" stroke="none" stroke-width="0.5" opacity="0.45"/>
<line x1="395.00" y1="45.20" x2="409.30" y2="45.20" stroke="#222" stroke-width="0.9" />
<path d="M411.50,45.20 L408.50,43.60 L408.50,46.80 Z" fill="#222" stroke="none" stroke-width="0.8" />
<line x1="445.00" y1="45.20" x2="459.10" y2="45.20" stroke="#222" stroke-width="0.9" />
<path d="M461.30,45.20 L458.30,43.60 L458.30,46.80 Z" fill="#222" stroke="none" stroke-width="0.8" />
<path d="M442.80,43.30 L443.15,45.03 L442.71,46.70 L441.65,48.13 L440.65,49.45 L440.00,50.98 L439.30,52.60 L438.07,53.82 L436.40,54.39 L434.72,54.70 L433.22,55.32 L431.70,56.18 L430.00,56.60 L428.30,56.18 L426.78,55.32 L425.28,54.70 L423.60,54.39 L421.93,53.82 L420.70,52.60 L420.00,50.98 L419.35,49.45 L418.35,48.13 L417.29,46.70 L416.85,45.03 L417.20,43.30 L417.77,41.69 L417.98,40.08 L418.00,38.33 L418.48,36.65 L419.69,35.39 L421.20,34.50 L422.49,33.51 L423.60,32.21 L424.92,31.05 L426.60,30.59 L428.35,30.80 L430.00,31.00 L431.65,30.80 L433.40,30.59 L435.08,31.05 L436.40,32.21 L437.51,33.51 L438.80,34.50 L440.31,35.39 L441.52,36.65 L442.00,38.33 L442.02,40.08 L442.23,41.69 Z" fill="#cfcbeb" stroke="#bab5df" stroke-width="0.6" />
<circle cx="432.70" cy="45.20" r="5.00" fill="#aaa3d8" stroke="none" stroke-width="0.5" />
<circle cx="432.70" cy="45.20" r="3.50" fill="#a29bd3" stroke="none" stroke-width="0.5" />
<path d="M415.2,32.8 Q417.5,30.2 419.8,32.2" fill="none" stroke="#4a1a1a" stroke-width="1.2" />
<path d="M412.2,37.4 Q414.5,35.0 416.9,35.8" fill="none" stroke="#4a1a1a" stroke-width="1.2" />
<path d="M424.3,34.0 Q425.5,37.5 428.2,37.5" fill="none" stroke="#f2b9c9" stroke-width="2.4" />
<path d="M424.3,34.0 Q425.5,37.5 428.2,37.5" fill="none" stroke="#5a1622" stroke-width="1.2" />
<path d="M467.10,61.00 L470.00,48.00 L473.00,36.00 L475.00,30.70 L477.00,35.00 L479.00,47.00 L481.10,53.80 L483.00,47.00 L485.50,36.00 L488.00,27.70 L490.00,34.00 L492.50,48.00 L495.00,61.00 Z" fill="#b9b1dd" stroke="#a69dd2" stroke-width="0.4" />
<path d="M484.10,61.00 L486.50,48.00 L489.00,36.00 L491.40,28.30 L493.50,33.00 L496.00,45.00 L499.80,61.00 Z" fill="#5f9ae6" stroke="#5a8fdc" stroke-width="0.4" fill-opacity="0.82"/>
<line x1="465.70" y1="24.00" x2="465.70" y2="61.00" stroke="#222" stroke-width="1.0" />
<line x1="465.70" y1="61.00" x2="512.00" y2="61.00" stroke="#222" stroke-width="1.0" />
<line x1="463.50" y1="26.20" x2="465.70" y2="26.20" stroke="#222" stroke-width="0.8" />
<line x1="463.50" y1="33.50" x2="465.70" y2="33.50" stroke="#222" stroke-width="0.8" />
<line x1="463.50" y1="40.80" x2="465.70" y2="40.80" stroke="#222" stroke-width="0.8" />
<line x1="463.50" y1="47.50" x2="465.70" y2="47.50" stroke="#222" stroke-width="0.8" />
<line x1="463.50" y1="54.40" x2="465.70" y2="54.40" stroke="#222" stroke-width="0.8" />
<line x1="465.70" y1="61.00" x2="465.70" y2="63.40" stroke="#222" stroke-width="0.8" />
<line x1="469.85" y1="61.00" x2="469.85" y2="63.40" stroke="#222" stroke-width="0.8" />
<line x1="474.00" y1="61.00" x2="474.00" y2="63.40" stroke="#222" stroke-width="0.8" />
<line x1="478.15" y1="61.00" x2="478.15" y2="63.40" stroke="#222" stroke-width="0.8" />
<line x1="482.30" y1="61.00" x2="482.30" y2="63.40" stroke="#222" stroke-width="0.8" />
<line x1="486.45" y1="61.00" x2="486.45" y2="63.40" stroke="#222" stroke-width="0.8" />
<line x1="490.60" y1="61.00" x2="490.60" y2="63.40" stroke="#222" stroke-width="0.8" />
<line x1="494.75" y1="61.00" x2="494.75" y2="63.40" stroke="#222" stroke-width="0.8" />
<line x1="498.90" y1="61.00" x2="498.90" y2="63.40" stroke="#222" stroke-width="0.8" />
<line x1="503.05" y1="61.00" x2="503.05" y2="63.40" stroke="#222" stroke-width="0.8" />
<line x1="507.20" y1="61.00" x2="507.20" y2="63.40" stroke="#222" stroke-width="0.8" />
<line x1="511.35" y1="61.00" x2="511.35" y2="63.40" stroke="#222" stroke-width="0.8" />
<text x="317.60" y="73.87" font-size="6.3" text-anchor="middle" fill="#444" stroke="#444" stroke-width="0.16" textLength="33.6" lengthAdjust="spacingAndGlyphs" >Fluorescent</text>
<text x="317.60" y="81.57" font-size="6.3" text-anchor="middle" fill="#444" stroke="#444" stroke-width="0.16" font-style="italic" textLength="16.4" lengthAdjust="spacingAndGlyphs" >E. coli</text>
<text x="370.00" y="73.87" font-size="6.3" text-anchor="middle" fill="#444" stroke="#444" stroke-width="0.16" textLength="27.6" lengthAdjust="spacingAndGlyphs" >AML cells</text>
<text x="430.70" y="73.37" font-size="6.3" text-anchor="middle" fill="#444" stroke="#444" stroke-width="0.16" textLength="46.7" lengthAdjust="spacingAndGlyphs" >Phagocytosis by</text>
<text x="430.70" y="80.57" font-size="6.3" text-anchor="middle" fill="#444" stroke="#444" stroke-width="0.16" textLength="54.5" lengthAdjust="spacingAndGlyphs" >differentiated cells</text>
<text x="486.30" y="74.47" font-size="6.3" text-anchor="middle" fill="#444" stroke="#444" stroke-width="0.16" textLength="44.5" lengthAdjust="spacingAndGlyphs" >Flow cytometry</text>
<text x="272.20" y="109.79" font-size="12" text-anchor="start" fill="#111" stroke="#111" stroke-width="0" font-weight="bold" >E</text>
<line x1="305.50" y1="136.80" x2="385.60" y2="136.80" stroke="#2b4d88" stroke-width="0.6" />
<path d="M322.10,136.80 L322.10,136.43 L322.27,133.55 L322.43,129.86 L322.60,125.76 L323.13,124.00 L323.67,121.95 L324.20,120.15 L324.80,121.29 L325.40,121.59 L326.00,122.53 L326.67,124.50 L327.33,125.27 L328.00,126.76 L329.00,127.17 L330.00,128.78 L331.00,130.22 L332.20,130.33 L333.40,131.65 L334.60,132.20 L336.40,131.80 L338.20,132.26 L340.00,133.24 L342.67,134.07 L345.33,133.95 L348.00,134.22 L350.33,134.69 L352.67,134.56 L355.00,135.02 L356.27,135.14 L357.53,135.10 L358.80,134.73 L359.87,135.06 L360.93,135.39 L362.00,135.96 L363.83,136.06 L365.67,136.05 L367.50,137.14 L367.50,136.80 Z" fill="#5a78b2" stroke="#2b4d88" stroke-width="0.6" fill-opacity="0.9"/>
<line x1="305.50" y1="147.70" x2="385.60" y2="147.70" stroke="#2b4d88" stroke-width="0.6" />
<path d="M322.10,147.70 L322.10,148.16 L322.27,144.25 L322.43,139.46 L322.60,135.58 L323.43,134.47 L324.27,132.50 L325.10,130.57 L325.73,130.74 L326.37,131.57 L327.00,132.11 L328.00,132.91 L329.00,133.33 L330.00,134.43 L331.53,135.29 L333.07,136.52 L334.60,137.69 L335.73,138.42 L336.87,138.78 L338.00,139.44 L339.17,140.03 L340.33,140.57 L341.50,141.33 L342.67,142.66 L343.83,143.42 L345.00,144.38 L346.73,145.96 L348.47,146.66 L350.20,147.76 L350.20,147.70 Z" fill="#5a78b2" stroke="#2b4d88" stroke-width="0.6" fill-opacity="0.9"/>
<line x1="305.50" y1="159.30" x2="385.60" y2="159.30" stroke="#2b4d88" stroke-width="0.6" />
<path d="M322.10,159.30 L322.10,159.04 L322.27,155.24 L322.43,150.97 L322.60,147.10 L323.43,145.16 L324.27,142.63 L325.10,140.61 L325.73,141.90 L326.37,141.79 L327.00,142.23 L328.33,143.83 L329.67,144.14 L331.00,145.34 L332.67,146.31 L334.33,147.81 L336.00,148.65 L337.67,150.30 L339.33,151.70 L341.00,152.52 L342.67,153.91 L344.33,155.00 L346.00,155.56 L347.40,157.36 L348.80,158.29 L350.20,159.10 L350.20,159.30 Z" fill="#5a78b2" stroke="#2b4d88" stroke-width="0.6" fill-opacity="0.9"/>
<line x1="305.50" y1="170.90" x2="385.60" y2="170.90" stroke="#c42430" stroke-width="0.6" />
<path d="M320.40,170.90 L320.40,170.58 L321.27,169.62 L322.13,169.18 L323.00,168.09 L324.00,167.41 L325.00,167.25 L326.00,167.30 L327.33,166.96 L328.67,166.72 L330.00,165.87 L331.33,165.68 L332.67,164.80 L334.00,164.11 L335.33,163.36 L336.67,162.82 L338.00,163.01 L339.00,161.73 L340.00,160.53 L341.00,159.36 L341.83,157.13 L342.67,155.77 L343.50,154.65 L344.33,153.78 L345.17,152.93 L346.00,151.96 L346.53,150.67 L347.07,150.96 L347.60,150.71 L348.23,150.84 L348.87,150.78 L349.50,151.47 L350.17,152.17 L350.83,154.35 L351.50,155.44 L352.20,156.66 L352.90,157.96 L353.60,160.29 L354.40,160.79 L355.20,162.06 L356.00,162.92 L357.00,163.01 L358.00,163.40 L359.00,164.12 L360.00,164.75 L361.00,165.26 L362.00,166.27 L363.33,167.71 L364.67,167.62 L366.00,168.46 L367.07,169.78 L368.13,170.00 L369.20,170.94 L369.20,170.90 Z" fill="#e35a4e" stroke="#c42430" stroke-width="0.6" fill-opacity="0.9"/>
<line x1="305.50" y1="181.80" x2="385.60" y2="181.80" stroke="#c42430" stroke-width="0.6" />
<path d="M323.40,181.80 L323.40,181.95 L324.27,181.56 L325.13,181.09 L326.00,180.73 L327.33,180.02 L328.67,179.77 L330.00,178.23 L331.33,178.33 L332.67,178.47 L334.00,177.68 L335.33,177.15 L336.67,175.37 L338.00,174.96 L339.33,173.36 L340.67,172.39 L342.00,171.09 L342.83,169.08 L343.67,167.99 L344.50,166.74 L345.23,166.60 L345.97,165.52 L346.70,163.89 L347.30,165.06 L347.90,164.67 L348.50,165.64 L349.17,166.22 L349.83,167.24 L350.50,169.45 L351.17,169.98 L351.83,171.33 L352.50,173.58 L353.47,174.25 L354.43,174.35 L355.40,175.95 L356.27,175.15 L357.13,175.01 L358.00,174.15 L358.83,173.86 L359.67,172.40 L360.50,171.56 L361.17,170.31 L361.83,168.43 L362.50,167.33 L363.13,166.60 L363.77,166.07 L364.40,165.48 L364.93,166.26 L365.47,167.12 L366.00,166.90 L366.50,168.88 L367.00,169.64 L367.50,170.77 L368.00,173.38 L368.50,174.98 L369.00,176.78 L369.53,178.58 L370.07,180.45 L370.60,181.27 L370.60,181.80 Z" fill="#e35a4e" stroke="#c42430" stroke-width="0.6" fill-opacity="0.9"/>
<line x1="305.50" y1="193.00" x2="385.60" y2="193.00" stroke="#c42430" stroke-width="0.6" />
<path d="M326.00,193.00 L326.00,193.35 L327.33,193.12 L328.67,192.45 L330.00,191.91 L331.33,191.27 L332.67,191.73 L334.00,191.16 L335.33,190.95 L336.67,189.91 L338.00,189.82 L339.33,188.56 L340.67,188.53 L342.00,187.78 L343.00,186.56 L344.00,185.88 L345.00,185.22 L345.67,182.96 L346.33,181.73 L347.00,180.37 L347.47,178.82 L347.93,178.56 L348.40,177.52 L348.93,178.11 L349.47,177.90 L350.00,178.01 L350.67,179.86 L351.33,180.87 L352.00,181.43 L353.00,181.85 L354.00,182.80 L355.00,184.16 L356.33,184.25 L357.67,185.54 L359.00,185.61 L360.00,185.47 L361.00,186.35 L362.00,186.33 L362.67,186.85 L363.33,186.66 L364.00,186.02 L364.47,186.44 L364.93,186.77 L365.40,187.17 L365.93,188.27 L366.47,188.03 L367.00,189.33 L367.43,190.79 L367.87,191.60 L368.30,193.11 L368.30,193.00 Z" fill="#e35a4e" stroke="#c42430" stroke-width="0.6" fill-opacity="0.9"/>
<text x="311.20" y="134.53" font-size="6.2" text-anchor="start" fill="#222" stroke="#222" stroke-width="0.16" >R1</text>
<text x="311.20" y="145.43" font-size="6.2" text-anchor="start" fill="#222" stroke="#222" stroke-width="0.16" >R2</text>
<text x="311.20" y="157.03" font-size="6.2" text-anchor="start" fill="#222" stroke="#222" stroke-width="0.16" >R3</text>
<text x="311.20" y="168.63" font-size="6.2" text-anchor="start" fill="#222" stroke="#222" stroke-width="0.16" >R1</text>
<text x="311.20" y="179.53" font-size="6.2" text-anchor="start" fill="#222" stroke="#222" stroke-width="0.16" >R2</text>
<text x="311.20" y="190.73" font-size="6.2" text-anchor="start" fill="#222" stroke="#222" stroke-width="0.16" >R3</text>
<rect x="305.50" y="112.60" width="80.10" height="81.00" fill="none" stroke="#111" stroke-width="1.1" />
<line x1="307.00" y1="193.60" x2="307.00" y2="195.00" stroke="#222" stroke-width="0.5" />
<line x1="310.40" y1="193.60" x2="310.40" y2="195.00" stroke="#222" stroke-width="0.5" />
<line x1="316.00" y1="193.60" x2="316.00" y2="195.00" stroke="#222" stroke-width="0.5" />
<line x1="320.00" y1="193.60" x2="320.00" y2="195.00" stroke="#222" stroke-width="0.5" />
<line x1="323.40" y1="193.60" x2="323.40" y2="195.00" stroke="#222" stroke-width="0.5" />
<line x1="327.00" y1="193.60" x2="327.00" y2="195.00" stroke="#222" stroke-width="0.5" />
<line x1="330.00" y1="193.60" x2="330.00" y2="195.00" stroke="#222" stroke-width="0.5" />
<line x1="333.00" y1="193.60" x2="333.00" y2="195.00" stroke="#222" stroke-width="0.5" />
<line x1="336.30" y1="193.60" x2="336.30" y2="195.00" stroke="#222" stroke-width="0.5" />
<line x1="342.00" y1="193.60" x2="342.00" y2="195.00" stroke="#222" stroke-width="0.5" />
<line x1="346.00" y1="193.60" x2="346.00" y2="195.00" stroke="#222" stroke-width="0.5" />
<line x1="349.00" y1="193.60" x2="349.00" y2="195.00" stroke="#222" stroke-width="0.5" />
<line x1="351.00" y1="193.60" x2="351.00" y2="195.00" stroke="#222" stroke-width="0.5" />
<line x1="353.00" y1="193.60" x2="353.00" y2="195.00" stroke="#222" stroke-width="0.5" />
<line x1="355.00" y1="193.60" x2="355.00" y2="195.00" stroke="#222" stroke-width="0.5" />
<line x1="357.00" y1="193.60" x2="357.00" y2="195.00" stroke="#222" stroke-width="0.5" />
<line x1="358.80" y1="193.60" x2="358.80" y2="195.00" stroke="#222" stroke-width="0.5" />
<line x1="366.00" y1="193.60" x2="366.00" y2="195.00" stroke="#222" stroke-width="0.5" />
<line x1="370.00" y1="193.60" x2="370.00" y2="195.00" stroke="#222" stroke-width="0.5" />
<line x1="373.00" y1="193.60" x2="373.00" y2="195.00" stroke="#222" stroke-width="0.5" />
<line x1="375.00" y1="193.60" x2="375.00" y2="195.00" stroke="#222" stroke-width="0.5" />
<line x1="377.00" y1="193.60" x2="377.00" y2="195.00" stroke="#222" stroke-width="0.5" />
<line x1="378.70" y1="193.60" x2="378.70" y2="195.00" stroke="#222" stroke-width="0.5" />
<line x1="382.00" y1="193.60" x2="382.00" y2="195.00" stroke="#222" stroke-width="0.5" />
<line x1="310.40" y1="193.60" x2="310.40" y2="196.20" stroke="#222" stroke-width="0.8" />
<line x1="323.40" y1="193.60" x2="323.40" y2="196.20" stroke="#222" stroke-width="0.8" />
<line x1="336.30" y1="193.60" x2="336.30" y2="196.20" stroke="#222" stroke-width="0.8" />
<line x1="358.80" y1="193.60" x2="358.80" y2="196.20" stroke="#222" stroke-width="0.8" />
<line x1="378.70" y1="193.60" x2="378.70" y2="196.20" stroke="#222" stroke-width="0.8" />
<text x="308.40" y="205.63" font-size="6.2" text-anchor="middle" fill="#333" stroke="#333" stroke-width="0.16" >−10</text>
<text x="313.80" y="202.28" font-size="4.4" text-anchor="start" fill="#333" stroke="#333" stroke-width="0.16" >3</text>
<text x="323.40" y="205.63" font-size="6.2" text-anchor="middle" fill="#333" stroke="#333" stroke-width="0.16" >0</text>
<text x="335.70" y="205.63" font-size="6.2" text-anchor="middle" fill="#333" stroke="#333" stroke-width="0.16" >10</text>
<text x="339.20" y="202.28" font-size="4.4" text-anchor="start" fill="#333" stroke="#333" stroke-width="0.16" >3</text>
<text x="358.20" y="205.63" font-size="6.2" text-anchor="middle" fill="#333" stroke="#333" stroke-width="0.16" >10</text>
<text x="361.70" y="202.28" font-size="4.4" text-anchor="start" fill="#333" stroke="#333" stroke-width="0.16" >4</text>
<text x="378.10" y="205.63" font-size="6.2" text-anchor="middle" fill="#333" stroke="#333" stroke-width="0.16" >10</text>
<text x="381.60" y="202.28" font-size="4.4" text-anchor="start" fill="#333" stroke="#333" stroke-width="0.16" >5</text>
<text x="339.20" y="216.59" font-size="8.3" text-anchor="middle" fill="#333" stroke="#333" stroke-width="0.16" font-style="italic" textLength="15.4" lengthAdjust="spacingAndGlyphs" >E coli</text>
<text x="354.90" y="216.59" font-size="8.3" text-anchor="middle" fill="#333" stroke="#333" stroke-width="0.16" textLength="11.2" lengthAdjust="spacingAndGlyphs" >APC</text>
<text transform="translate(285.60,136.20) rotate(-90)" x="0" y="2.38" font-size="6.6" text-anchor="middle" fill="#4d79bd" stroke="#4d79bd" stroke-width="0.16" textLength="27" lengthAdjust="spacingAndGlyphs" >NTC_sg1</text>
<text transform="translate(285.60,173.80) rotate(-90)" x="0" y="2.38" font-size="6.6" text-anchor="middle" fill="#de3f58" stroke="#de3f58" stroke-width="0.16" textLength="36.6" lengthAdjust="spacingAndGlyphs" >SGF29 sg_1</text>
<text transform="translate(297.90,153.00) rotate(-90)" x="0" y="3.10" font-size="8.6" text-anchor="middle" fill="#333" stroke="#333" stroke-width="0.16" textLength="62.9" lengthAdjust="spacingAndGlyphs" >Normalized to mode</text>
<text x="393.10" y="109.79" font-size="12" text-anchor="start" fill="#111" stroke="#111" stroke-width="0" font-weight="bold" >F</text>
<line x1="428.50" y1="136.00" x2="513.60" y2="136.00" stroke="#2b4d88" stroke-width="0.6" />
<path d="M439.00,136.00 L439.00,135.96 L440.50,135.80 L442.00,135.89 L443.50,135.08 L445.00,134.48 L446.50,133.62 L448.00,131.97 L449.50,130.64 L451.00,128.80 L452.50,126.81 L454.00,123.99 L455.50,122.13 L457.00,120.19 L458.50,119.52 L460.00,118.59 L461.50,117.63 L463.00,118.44 L464.50,118.57 L466.00,118.71 L467.50,119.41 L469.00,120.07 L470.50,121.30 L472.00,123.36 L473.50,124.69 L475.00,126.60 L476.50,128.39 L478.00,129.81 L479.50,131.62 L481.00,132.79 L482.50,134.10 L484.00,134.54 L485.50,135.17 L487.00,135.41 L488.50,135.80 L490.00,135.76 L491.50,135.69 L493.00,136.45 L493.00,136.00 Z" fill="#5a78b2" stroke="#2b4d88" stroke-width="0.6" fill-opacity="0.9"/>
<line x1="428.50" y1="147.40" x2="513.60" y2="147.40" stroke="#2b4d88" stroke-width="0.6" />
<path d="M440.00,147.40 L440.00,147.38 L441.42,147.32 L442.83,147.12 L444.25,146.29 L445.67,145.58 L447.08,145.04 L448.50,143.74 L449.92,142.66 L451.33,140.66 L452.75,138.46 L454.17,136.22 L455.58,134.20 L457.00,131.90 L458.42,130.74 L459.83,129.55 L461.25,129.76 L462.67,128.90 L464.08,129.68 L465.50,129.36 L466.92,130.57 L468.33,131.23 L469.75,132.58 L471.17,134.51 L472.58,135.47 L474.00,137.29 L475.42,139.82 L476.83,141.11 L478.25,142.21 L479.67,144.28 L481.08,145.27 L482.50,145.32 L483.92,146.19 L485.33,146.35 L486.75,146.80 L488.17,147.26 L489.58,146.96 L491.00,147.58 L491.00,147.40 Z" fill="#5a78b2" stroke="#2b4d88" stroke-width="0.6" fill-opacity="0.9"/>
<line x1="428.50" y1="159.00" x2="513.60" y2="159.00" stroke="#2b4d88" stroke-width="0.6" />
<path d="M442.00,159.00 L442.00,158.78 L443.06,158.85 L444.11,158.61 L445.17,158.40 L446.22,157.27 L447.28,156.56 L448.33,155.50 L449.39,154.31 L450.44,153.27 L451.50,151.01 L452.56,149.51 L453.61,147.32 L454.67,145.56 L455.72,144.02 L456.78,142.99 L457.83,141.73 L458.89,140.50 L459.94,140.38 L461.00,140.18 L462.06,140.91 L463.11,141.18 L464.17,141.81 L465.22,142.80 L466.28,144.01 L467.33,145.74 L468.39,147.34 L469.44,148.68 L470.50,151.02 L471.56,152.41 L472.61,154.18 L473.67,155.33 L474.72,156.28 L475.78,157.06 L476.83,157.74 L477.89,158.07 L478.94,158.20 L480.00,159.29 L480.00,159.00 Z" fill="#5a78b2" stroke="#2b4d88" stroke-width="0.6" fill-opacity="0.9"/>
<line x1="428.50" y1="170.30" x2="513.60" y2="170.30" stroke="#c42430" stroke-width="0.6" />
<path d="M443.00,170.30 L443.00,169.95 L444.58,170.43 L446.17,170.34 L447.75,170.51 L449.33,169.77 L450.92,169.52 L452.50,169.61 L454.08,169.04 L455.67,168.03 L457.25,167.46 L458.83,166.07 L460.42,165.06 L462.00,162.93 L463.58,161.37 L465.17,160.29 L466.75,158.17 L468.33,156.60 L469.92,155.84 L471.50,154.72 L473.08,153.63 L474.67,153.65 L476.25,153.65 L477.83,153.28 L479.42,154.19 L481.00,154.68 L482.58,156.33 L484.17,157.97 L485.75,160.18 L487.33,163.03 L488.92,164.52 L490.50,166.78 L492.08,167.65 L493.67,168.80 L495.25,169.72 L496.83,169.98 L498.42,169.71 L500.00,170.38 L500.00,170.30 Z" fill="#e35a4e" stroke="#c42430" stroke-width="0.6" fill-opacity="0.9"/>
<line x1="428.50" y1="182.00" x2="513.60" y2="182.00" stroke="#c42430" stroke-width="0.6" />
<path d="M445.00,182.00 L445.00,182.42 L446.61,181.51 L448.22,182.10 L449.83,181.49 L451.44,182.06 L453.06,180.91 L454.67,181.27 L456.28,180.49 L457.89,179.81 L459.50,178.85 L461.11,176.84 L462.72,175.38 L464.33,174.01 L465.94,171.86 L467.56,170.12 L469.17,168.53 L470.78,167.80 L472.39,166.83 L474.00,166.13 L475.61,165.31 L477.22,165.88 L478.83,165.67 L480.44,165.97 L482.06,167.18 L483.67,168.60 L485.28,170.10 L486.89,172.54 L488.50,174.39 L490.11,176.48 L491.72,178.44 L493.33,179.50 L494.94,180.26 L496.56,181.35 L498.17,181.91 L499.78,181.71 L501.39,182.27 L503.00,181.57 L503.00,182.00 Z" fill="#e35a4e" stroke="#c42430" stroke-width="0.6" fill-opacity="0.9"/>
<line x1="428.50" y1="193.10" x2="513.60" y2="193.10" stroke="#c42430" stroke-width="0.6" />
<path d="M449.00,193.10 L449.00,192.98 L450.31,193.00 L451.61,192.87 L452.92,192.77 L454.22,192.54 L455.53,192.46 L456.83,191.66 L458.14,191.39 L459.44,190.03 L460.75,189.29 L462.06,188.11 L463.36,186.56 L464.67,185.61 L465.97,183.68 L467.28,182.62 L468.58,181.40 L469.89,179.59 L471.19,179.26 L472.50,178.55 L473.81,178.07 L475.11,177.38 L476.42,177.80 L477.72,178.26 L479.03,178.65 L480.33,179.67 L481.64,181.19 L482.94,182.84 L484.25,185.13 L485.56,186.52 L486.86,188.24 L488.17,189.84 L489.47,191.23 L490.78,191.47 L492.08,191.83 L493.39,193.04 L494.69,193.14 L496.00,193.36 L496.00,193.10 Z" fill="#e35a4e" stroke="#c42430" stroke-width="0.6" fill-opacity="0.9"/>
<text x="436.20" y="133.63" font-size="6.2" text-anchor="start" fill="#222" stroke="#222" stroke-width="0.16" >R1</text>
<text x="436.20" y="145.03" font-size="6.2" text-anchor="start" fill="#222" stroke="#222" stroke-width="0.16" >R2</text>
<text x="436.20" y="156.63" font-size="6.2" text-anchor="start" fill="#222" stroke="#222" stroke-width="0.16" >R3</text>
<text x="436.20" y="167.93" font-size="6.2" text-anchor="start" fill="#222" stroke="#222" stroke-width="0.16" >R1</text>
<text x="436.20" y="179.63" font-size="6.2" text-anchor="start" fill="#222" stroke="#222" stroke-width="0.16" >R2</text>
<text x="436.20" y="190.73" font-size="6.2" text-anchor="start" fill="#222" stroke="#222" stroke-width="0.16" >R3</text>
<rect x="428.50" y="111.10" width="85.10" height="82.20" fill="none" stroke="#111" stroke-width="1.1" />
<line x1="431.00" y1="192.50" x2="431.00" y2="193.90" stroke="#222" stroke-width="0.5" />
<line x1="433.00" y1="192.50" x2="433.00" y2="193.90" stroke="#222" stroke-width="0.5" />
<line x1="436.25" y1="192.50" x2="436.25" y2="193.90" stroke="#222" stroke-width="0.5" />
<line x1="441.00" y1="192.50" x2="441.00" y2="193.90" stroke="#222" stroke-width="0.5" />
<line x1="444.00" y1="192.50" x2="444.00" y2="193.90" stroke="#222" stroke-width="0.5" />
<line x1="447.00" y1="192.50" x2="447.00" y2="193.90" stroke="#222" stroke-width="0.5" />
<line x1="449.00" y1="192.50" x2="449.00" y2="193.90" stroke="#222" stroke-width="0.5" />
<line x1="451.25" y1="192.50" x2="451.25" y2="193.90" stroke="#222" stroke-width="0.5" />
<line x1="460.00" y1="192.50" x2="460.00" y2="193.90" stroke="#222" stroke-width="0.5" />
<line x1="465.00" y1="192.50" x2="465.00" y2="193.90" stroke="#222" stroke-width="0.5" />
<line x1="468.00" y1="192.50" x2="468.00" y2="193.90" stroke="#222" stroke-width="0.5" />
<line x1="471.00" y1="192.50" x2="471.00" y2="193.90" stroke="#222" stroke-width="0.5" />
<line x1="473.00" y1="192.50" x2="473.00" y2="193.90" stroke="#222" stroke-width="0.5" />
<line x1="475.00" y1="192.50" x2="475.00" y2="193.90" stroke="#222" stroke-width="0.5" />
<line x1="477.50" y1="192.50" x2="477.50" y2="193.90" stroke="#222" stroke-width="0.5" />
<line x1="487.00" y1="192.50" x2="487.00" y2="193.90" stroke="#222" stroke-width="0.5" />
<line x1="492.00" y1="192.50" x2="492.00" y2="193.90" stroke="#222" stroke-width="0.5" />
<line x1="495.00" y1="192.50" x2="495.00" y2="193.90" stroke="#222" stroke-width="0.5" />
<line x1="498.00" y1="192.50" x2="498.00" y2="193.90" stroke="#222" stroke-width="0.5" />
<line x1="500.00" y1="192.50" x2="500.00" y2="193.90" stroke="#222" stroke-width="0.5" />
<line x1="502.50" y1="192.50" x2="502.50" y2="193.90" stroke="#222" stroke-width="0.5" />
<line x1="508.00" y1="192.50" x2="508.00" y2="193.90" stroke="#222" stroke-width="0.5" />
<line x1="436.25" y1="192.50" x2="436.25" y2="195.10" stroke="#222" stroke-width="0.8" />
<line x1="451.25" y1="192.50" x2="451.25" y2="195.10" stroke="#222" stroke-width="0.8" />
<line x1="477.50" y1="192.50" x2="477.50" y2="195.10" stroke="#222" stroke-width="0.8" />
<line x1="502.50" y1="192.50" x2="502.50" y2="195.10" stroke="#222" stroke-width="0.8" />
<text x="436.25" y="204.73" font-size="6.2" text-anchor="middle" fill="#333" stroke="#333" stroke-width="0.16" >0</text>
<text x="450.45" y="204.73" font-size="6.2" text-anchor="middle" fill="#333" stroke="#333" stroke-width="0.16" >10</text>
<text x="453.95" y="201.38" font-size="4.4" text-anchor="start" fill="#333" stroke="#333" stroke-width="0.16" >3</text>
<text x="476.70" y="204.73" font-size="6.2" text-anchor="middle" fill="#333" stroke="#333" stroke-width="0.16" >10</text>
<text x="480.20" y="201.38" font-size="4.4" text-anchor="start" fill="#333" stroke="#333" stroke-width="0.16" >4</text>
<text x="501.70" y="204.73" font-size="6.2" text-anchor="middle" fill="#333" stroke="#333" stroke-width="0.16" >10</text>
<text x="505.20" y="201.38" font-size="4.4" text-anchor="start" fill="#333" stroke="#333" stroke-width="0.16" >5</text>
<text x="470.00" y="216.65" font-size="8.2" text-anchor="middle" fill="#333" stroke="#333" stroke-width="0.16" textLength="34.6" lengthAdjust="spacingAndGlyphs" >CD11b-APC</text>
<text transform="translate(408.60,135.60) rotate(-90)" x="0" y="2.38" font-size="6.6" text-anchor="middle" fill="#4d79bd" stroke="#4d79bd" stroke-width="0.16" textLength="26.3" lengthAdjust="spacingAndGlyphs" >NTC_sg1</text>
<text transform="translate(408.60,174.40) rotate(-90)" x="0" y="2.38" font-size="6.6" text-anchor="middle" fill="#de3f58" stroke="#de3f58" stroke-width="0.16" textLength="36.3" lengthAdjust="spacingAndGlyphs" >SGF29 sg_1</text>
<text transform="translate(420.20,151.90) rotate(-90)" x="0" y="3.10" font-size="8.6" text-anchor="middle" fill="#333" stroke="#333" stroke-width="0.16" textLength="61.3" lengthAdjust="spacingAndGlyphs" >Normalized to mode</text>
<text x="6.60" y="237.39" font-size="12" text-anchor="start" fill="#111" stroke="#111" stroke-width="0" font-weight="bold" >G</text>
<line x1="98.60" y1="243.50" x2="98.60" y2="336.80" stroke="#c4c4c4" stroke-width="0.6" />
<line x1="119.70" y1="243.50" x2="119.70" y2="336.80" stroke="#c4c4c4" stroke-width="0.6" />
<line x1="48.50" y1="332.10" x2="169.30" y2="332.10" stroke="#d8d8d8" stroke-width="0.9" />
<g fill="#a4a4a4" stroke="#d0d0d0" stroke-width="0.12"><circle cx="102.1" cy="323.3" r="0.85"/><circle cx="103.2" cy="326.0" r="0.85"/><circle cx="115.6" cy="318.6" r="0.85"/><circle cx="98.7" cy="314.8" r="0.85"/><circle cx="119.6" cy="324.6" r="0.85"/><circle cx="117.1" cy="321.3" r="0.85"/><circle cx="99.3" cy="313.7" r="0.85"/><circle cx="118.7" cy="314.8" r="0.85"/><circle cx="101.9" cy="326.7" r="0.85"/><circle cx="101.2" cy="329.6" r="0.85"/><circle cx="119.0" cy="328.7" r="0.85"/><circle cx="114.5" cy="325.2" r="0.85"/><circle cx="101.2" cy="317.6" r="0.85"/><circle cx="118.1" cy="328.5" r="0.85"/><circle cx="119.6" cy="315.2" r="0.85"/><circle cx="113.8" cy="331.3" r="0.85"/><circle cx="103.3" cy="321.1" r="0.85"/><circle cx="105.9" cy="329.6" r="0.85"/><circle cx="100.0" cy="326.6" r="0.85"/><circle cx="117.6" cy="330.4" r="0.85"/><circle cx="107.2" cy="331.2" r="0.85"/><circle cx="118.9" cy="320.6" r="0.85"/><circle cx="117.2" cy="318.0" r="0.85"/><circle cx="100.1" cy="326.3" r="0.85"/><circle cx="100.1" cy="314.0" r="0.85"/><circle cx="117.6" cy="331.1" r="0.85"/><circle cx="103.9" cy="330.4" r="0.85"/><circle cx="99.2" cy="310.6" r="0.85"/><circle cx="116.3" cy="326.1" r="0.85"/><circle cx="117.2" cy="320.9" r="0.85"/><circle cx="113.1" cy="330.3" r="0.85"/><circle cx="99.1" cy="320.7" r="0.85"/><circle cx="112.2" cy="327.6" r="0.85"/><circle cx="107.2" cy="330.4" r="0.85"/><circle cx="99.1" cy="316.8" r="0.85"/><circle cx="101.6" cy="328.0" r="0.85"/><circle cx="113.6" cy="328.2" r="0.85"/><circle cx="114.9" cy="326.0" r="0.85"/><circle cx="98.8" cy="317.3" r="0.85"/><circle cx="99.9" cy="325.2" r="0.85"/><circle cx="102.3" cy="323.9" r="0.85"/><circle cx="103.9" cy="323.5" r="0.85"/><circle cx="117.6" cy="312.8" r="0.85"/><circle cx="114.1" cy="330.6" r="0.85"/><circle cx="105.1" cy="323.5" r="0.85"/><circle cx="99.9" cy="326.6" r="0.85"/><circle cx="119.2" cy="314.4" r="0.85"/><circle cx="105.3" cy="331.3" r="0.85"/><circle cx="100.1" cy="326.6" r="0.85"/><circle cx="99.6" cy="316.5" r="0.85"/><circle cx="103.8" cy="323.7" r="0.85"/><circle cx="115.8" cy="324.2" r="0.85"/><circle cx="111.9" cy="330.5" r="0.85"/><circle cx="100.4" cy="317.7" r="0.85"/><circle cx="117.4" cy="325.7" r="0.85"/><circle cx="112.7" cy="327.8" r="0.85"/><circle cx="103.8" cy="329.3" r="0.85"/><circle cx="116.0" cy="330.5" r="0.85"/><circle cx="105.0" cy="330.0" r="0.85"/><circle cx="100.9" cy="330.3" r="0.85"/><circle cx="118.7" cy="313.5" r="0.85"/><circle cx="104.0" cy="327.4" r="0.85"/><circle cx="101.8" cy="323.1" r="0.85"/><circle cx="102.8" cy="320.8" r="0.85"/><circle cx="118.4" cy="317.4" r="0.85"/><circle cx="102.6" cy="330.5" r="0.85"/><circle cx="99.3" cy="326.5" r="0.85"/><circle cx="118.3" cy="323.7" r="0.85"/><circle cx="99.0" cy="318.3" r="0.85"/><circle cx="99.4" cy="321.1" r="0.85"/><circle cx="98.8" cy="319.4" r="0.85"/><circle cx="100.6" cy="313.2" r="0.85"/><circle cx="115.3" cy="326.8" r="0.85"/><circle cx="115.5" cy="327.4" r="0.85"/><circle cx="118.1" cy="328.4" r="0.85"/><circle cx="99.0" cy="320.4" r="0.85"/><circle cx="100.3" cy="328.8" r="0.85"/><circle cx="114.4" cy="325.1" r="0.85"/><circle cx="115.8" cy="321.1" r="0.85"/><circle cx="100.0" cy="318.6" r="0.85"/><circle cx="99.4" cy="318.1" r="0.85"/><circle cx="118.2" cy="319.3" r="0.85"/><circle cx="100.3" cy="326.9" r="0.85"/><circle cx="102.0" cy="327.6" r="0.85"/><circle cx="115.6" cy="329.0" r="0.85"/><circle cx="115.0" cy="328.9" r="0.85"/><circle cx="119.1" cy="315.3" r="0.85"/><circle cx="118.5" cy="329.8" r="0.85"/><circle cx="118.2" cy="319.2" r="0.85"/><circle cx="119.7" cy="319.7" r="0.85"/><circle cx="115.0" cy="324.6" r="0.85"/><circle cx="117.2" cy="314.6" r="0.85"/><circle cx="100.3" cy="315.7" r="0.85"/><circle cx="102.4" cy="319.3" r="0.85"/><circle cx="99.2" cy="322.6" r="0.85"/><circle cx="118.2" cy="318.9" r="0.85"/><circle cx="117.5" cy="318.6" r="0.85"/><circle cx="114.9" cy="324.9" r="0.85"/><circle cx="99.4" cy="326.8" r="0.85"/><circle cx="114.1" cy="324.4" r="0.85"/><circle cx="119.6" cy="315.0" r="0.85"/><circle cx="110.8" cy="331.4" r="0.85"/><circle cx="114.1" cy="326.5" r="0.85"/><circle cx="106.4" cy="326.9" r="0.85"/><circle cx="116.9" cy="324.9" r="0.85"/><circle cx="115.1" cy="326.0" r="0.85"/><circle cx="118.2" cy="310.3" r="0.85"/><circle cx="116.5" cy="328.6" r="0.85"/><circle cx="100.2" cy="313.2" r="0.85"/><circle cx="103.2" cy="323.2" r="0.85"/><circle cx="101.2" cy="328.3" r="0.85"/><circle cx="118.9" cy="314.9" r="0.85"/><circle cx="114.5" cy="321.8" r="0.85"/><circle cx="103.3" cy="325.9" r="0.85"/><circle cx="99.0" cy="322.0" r="0.85"/><circle cx="100.4" cy="318.0" r="0.85"/><circle cx="102.1" cy="326.2" r="0.85"/><circle cx="111.8" cy="327.5" r="0.85"/><circle cx="102.9" cy="323.5" r="0.85"/><circle cx="103.7" cy="320.9" r="0.85"/><circle cx="98.8" cy="313.0" r="0.85"/><circle cx="105.3" cy="329.2" r="0.85"/><circle cx="99.3" cy="318.2" r="0.85"/><circle cx="117.4" cy="325.4" r="0.85"/><circle cx="119.0" cy="325.6" r="0.85"/><circle cx="99.7" cy="312.6" r="0.85"/><circle cx="100.5" cy="313.6" r="0.85"/><circle cx="115.3" cy="325.0" r="0.85"/><circle cx="101.0" cy="322.5" r="0.85"/><circle cx="106.5" cy="327.9" r="0.85"/><circle cx="102.8" cy="318.1" r="0.85"/><circle cx="102.5" cy="329.2" r="0.85"/><circle cx="99.3" cy="310.7" r="0.85"/><circle cx="116.9" cy="313.9" r="0.85"/><circle cx="105.5" cy="328.6" r="0.85"/><circle cx="112.9" cy="325.5" r="0.85"/><circle cx="112.9" cy="330.6" r="0.85"/><circle cx="119.6" cy="313.7" r="0.85"/><circle cx="106.6" cy="330.9" r="0.85"/><circle cx="104.2" cy="326.0" r="0.85"/><circle cx="115.3" cy="328.1" r="0.85"/><circle cx="117.5" cy="326.8" r="0.85"/><circle cx="119.2" cy="318.2" r="0.85"/><circle cx="119.1" cy="322.4" r="0.85"/><circle cx="98.7" cy="307.5" r="0.85"/><circle cx="99.6" cy="321.9" r="0.85"/><circle cx="100.9" cy="318.5" r="0.85"/><circle cx="101.0" cy="314.2" r="0.85"/><circle cx="113.4" cy="327.1" r="0.85"/><circle cx="119.3" cy="311.8" r="0.85"/><circle cx="113.4" cy="327.4" r="0.85"/><circle cx="101.5" cy="314.1" r="0.85"/><circle cx="118.4" cy="314.3" r="0.85"/><circle cx="104.5" cy="325.8" r="0.85"/><circle cx="98.7" cy="314.0" r="0.85"/><circle cx="116.5" cy="327.4" r="0.85"/><circle cx="118.2" cy="313.2" r="0.85"/><circle cx="116.6" cy="324.8" r="0.85"/><circle cx="119.6" cy="307.2" r="0.85"/><circle cx="119.0" cy="329.3" r="0.85"/><circle cx="111.6" cy="331.0" r="0.85"/><circle cx="117.2" cy="329.2" r="0.85"/><circle cx="100.4" cy="323.9" r="0.85"/><circle cx="102.1" cy="319.5" r="0.85"/><circle cx="101.1" cy="326.3" r="0.85"/><circle cx="99.9" cy="330.2" r="0.85"/><circle cx="119.0" cy="316.7" r="0.85"/><circle cx="100.1" cy="329.2" r="0.85"/><circle cx="102.0" cy="315.9" r="0.85"/><circle cx="101.0" cy="319.1" r="0.85"/><circle cx="116.3" cy="322.4" r="0.85"/><circle cx="112.0" cy="329.6" r="0.85"/><circle cx="104.2" cy="322.8" r="0.85"/><circle cx="119.2" cy="319.0" r="0.85"/><circle cx="104.0" cy="327.9" r="0.85"/><circle cx="101.0" cy="312.8" r="0.85"/><circle cx="119.0" cy="310.4" r="0.85"/><circle cx="119.1" cy="325.7" r="0.85"/><circle cx="98.9" cy="312.7" r="0.85"/><circle cx="112.8" cy="331.3" r="0.85"/><circle cx="118.3" cy="321.7" r="0.85"/><circle cx="116.7" cy="318.0" r="0.85"/><circle cx="111.0" cy="328.7" r="0.85"/><circle cx="99.9" cy="314.6" r="0.85"/><circle cx="112.9" cy="330.4" r="0.85"/><circle cx="105.7" cy="326.1" r="0.85"/><circle cx="103.4" cy="325.4" r="0.85"/><circle cx="102.2" cy="320.8" r="0.85"/><circle cx="113.8" cy="322.9" r="0.85"/><circle cx="100.4" cy="330.4" r="0.85"/><circle cx="116.5" cy="317.7" r="0.85"/><circle cx="116.7" cy="320.9" r="0.85"/><circle cx="115.9" cy="317.3" r="0.85"/><circle cx="99.5" cy="309.4" r="0.85"/><circle cx="102.5" cy="320.5" r="0.85"/><circle cx="107.1" cy="330.5" r="0.85"/><circle cx="102.9" cy="318.6" r="0.85"/><circle cx="114.5" cy="330.8" r="0.85"/><circle cx="115.8" cy="325.2" r="0.85"/><circle cx="117.3" cy="326.2" r="0.85"/><circle cx="99.7" cy="326.0" r="0.85"/><circle cx="115.1" cy="329.5" r="0.85"/><circle cx="105.8" cy="330.1" r="0.85"/><circle cx="108.0" cy="330.5" r="0.85"/><circle cx="100.5" cy="312.3" r="0.85"/><circle cx="112.6" cy="329.0" r="0.85"/><circle cx="118.6" cy="317.4" r="0.85"/><circle cx="115.3" cy="330.8" r="0.85"/><circle cx="104.1" cy="325.7" r="0.85"/><circle cx="101.5" cy="319.5" r="0.85"/><circle cx="118.2" cy="310.3" r="0.85"/><circle cx="119.0" cy="318.6" r="0.85"/><circle cx="119.0" cy="330.5" r="0.85"/><circle cx="118.2" cy="312.5" r="0.85"/><circle cx="100.6" cy="320.4" r="0.85"/><circle cx="104.3" cy="331.2" r="0.85"/><circle cx="118.0" cy="323.2" r="0.85"/><circle cx="99.1" cy="319.3" r="0.85"/><circle cx="101.3" cy="330.7" r="0.85"/><circle cx="105.2" cy="323.7" r="0.85"/><circle cx="113.6" cy="329.1" r="0.85"/><circle cx="99.4" cy="312.0" r="0.85"/><circle cx="116.5" cy="315.3" r="0.85"/><circle cx="119.2" cy="311.9" r="0.85"/><circle cx="113.2" cy="325.7" r="0.85"/><circle cx="112.0" cy="327.6" r="0.85"/><circle cx="103.7" cy="322.6" r="0.85"/><circle cx="112.1" cy="330.1" r="0.85"/><circle cx="102.1" cy="319.1" r="0.85"/><circle cx="103.3" cy="329.4" r="0.85"/><circle cx="118.5" cy="327.6" r="0.85"/><circle cx="105.2" cy="327.9" r="0.85"/><circle cx="101.3" cy="314.2" r="0.85"/><circle cx="107.4" cy="330.3" r="0.85"/><circle cx="103.0" cy="326.7" r="0.85"/><circle cx="102.5" cy="327.5" r="0.85"/><circle cx="117.0" cy="318.7" r="0.85"/><circle cx="99.5" cy="317.8" r="0.85"/><circle cx="118.6" cy="330.9" r="0.85"/><circle cx="118.4" cy="312.5" r="0.85"/><circle cx="99.0" cy="311.5" r="0.85"/><circle cx="100.0" cy="313.9" r="0.85"/><circle cx="102.3" cy="323.8" r="0.85"/><circle cx="115.8" cy="324.1" r="0.85"/><circle cx="117.3" cy="326.4" r="0.85"/><circle cx="114.8" cy="327.8" r="0.85"/><circle cx="110.2" cy="331.4" r="0.85"/><circle cx="108.6" cy="331.0" r="0.85"/><circle cx="100.3" cy="315.0" r="0.85"/><circle cx="115.4" cy="320.9" r="0.85"/><circle cx="99.0" cy="322.4" r="0.85"/><circle cx="98.6" cy="313.0" r="0.85"/><circle cx="101.0" cy="325.2" r="0.85"/><circle cx="102.2" cy="324.1" r="0.85"/><circle cx="100.1" cy="310.5" r="0.85"/><circle cx="113.3" cy="329.5" r="0.85"/><circle cx="100.1" cy="321.3" r="0.85"/><circle cx="100.3" cy="328.6" r="0.85"/><circle cx="101.4" cy="323.2" r="0.85"/><circle cx="115.1" cy="327.5" r="0.85"/><circle cx="119.5" cy="320.0" r="0.85"/><circle cx="119.5" cy="325.9" r="0.85"/><circle cx="107.8" cy="331.0" r="0.85"/><circle cx="101.3" cy="328.8" r="0.85"/><circle cx="100.2" cy="322.1" r="0.85"/><circle cx="100.5" cy="327.8" r="0.85"/><circle cx="114.7" cy="328.2" r="0.85"/><circle cx="116.6" cy="314.7" r="0.85"/><circle cx="116.9" cy="324.1" r="0.85"/><circle cx="112.5" cy="326.5" r="0.85"/><circle cx="100.8" cy="314.3" r="0.85"/><circle cx="102.8" cy="324.4" r="0.85"/><circle cx="101.3" cy="329.2" r="0.85"/><circle cx="101.1" cy="316.8" r="0.85"/><circle cx="119.2" cy="314.6" r="0.85"/><circle cx="102.7" cy="321.4" r="0.85"/><circle cx="117.1" cy="326.1" r="0.85"/><circle cx="119.5" cy="311.2" r="0.85"/><circle cx="118.7" cy="316.8" r="0.85"/><circle cx="118.0" cy="330.3" r="0.85"/><circle cx="119.6" cy="314.0" r="0.85"/><circle cx="99.5" cy="317.3" r="0.85"/><circle cx="100.7" cy="326.6" r="0.85"/><circle cx="103.1" cy="325.9" r="0.85"/><circle cx="118.5" cy="330.1" r="0.85"/><circle cx="118.0" cy="330.9" r="0.85"/><circle cx="119.1" cy="316.7" r="0.85"/><circle cx="117.7" cy="326.6" r="0.85"/><circle cx="101.5" cy="330.5" r="0.85"/><circle cx="98.8" cy="328.0" r="0.85"/><circle cx="101.3" cy="322.5" r="0.85"/><circle cx="119.3" cy="312.7" r="0.85"/><circle cx="110.0" cy="331.0" r="0.85"/><circle cx="117.5" cy="312.3" r="0.85"/><circle cx="114.6" cy="329.3" r="0.85"/><circle cx="100.7" cy="319.0" r="0.85"/><circle cx="100.9" cy="313.6" r="0.85"/><circle cx="99.3" cy="318.6" r="0.85"/><circle cx="99.2" cy="308.4" r="0.85"/><circle cx="119.3" cy="326.4" r="0.85"/><circle cx="117.0" cy="321.4" r="0.85"/><circle cx="118.5" cy="311.5" r="0.85"/><circle cx="110.1" cy="331.1" r="0.85"/><circle cx="100.8" cy="330.7" r="0.85"/><circle cx="119.0" cy="316.9" r="0.85"/><circle cx="100.3" cy="318.2" r="0.85"/><circle cx="114.5" cy="325.7" r="0.85"/><circle cx="101.0" cy="321.0" r="0.85"/><circle cx="103.4" cy="329.4" r="0.85"/><circle cx="98.7" cy="326.3" r="0.85"/><circle cx="104.6" cy="328.8" r="0.85"/><circle cx="103.2" cy="327.7" r="0.85"/><circle cx="116.7" cy="330.5" r="0.85"/><circle cx="111.0" cy="329.5" r="0.85"/><circle cx="117.5" cy="322.7" r="0.85"/><circle cx="105.8" cy="326.6" r="0.85"/><circle cx="117.4" cy="325.0" r="0.85"/><circle cx="100.4" cy="313.9" r="0.85"/><circle cx="118.0" cy="329.4" r="0.85"/><circle cx="111.7" cy="329.5" r="0.85"/><circle cx="99.0" cy="307.3" r="0.85"/><circle cx="119.2" cy="317.5" r="0.85"/><circle cx="117.0" cy="328.4" r="0.85"/><circle cx="108.2" cy="331.4" r="0.85"/><circle cx="100.1" cy="311.7" r="0.85"/><circle cx="104.3" cy="323.6" r="0.85"/><circle cx="113.2" cy="328.9" r="0.85"/><circle cx="107.2" cy="329.8" r="0.85"/><circle cx="115.3" cy="320.0" r="0.85"/><circle cx="102.7" cy="319.2" r="0.85"/><circle cx="119.6" cy="326.7" r="0.85"/><circle cx="99.8" cy="318.3" r="0.85"/><circle cx="98.9" cy="330.5" r="0.85"/><circle cx="117.1" cy="316.3" r="0.85"/><circle cx="116.7" cy="314.5" r="0.85"/><circle cx="117.9" cy="313.3" r="0.85"/><circle cx="112.8" cy="330.2" r="0.85"/><circle cx="119.3" cy="330.6" r="0.85"/><circle cx="100.5" cy="321.2" r="0.85"/><circle cx="110.3" cy="330.0" r="0.85"/><circle cx="104.3" cy="326.8" r="0.85"/><circle cx="118.9" cy="330.0" r="0.85"/><circle cx="118.8" cy="330.6" r="0.85"/><circle cx="117.5" cy="325.9" r="0.85"/><circle cx="118.3" cy="316.7" r="0.85"/><circle cx="99.0" cy="312.1" r="0.85"/><circle cx="99.3" cy="324.5" r="0.85"/><circle cx="103.2" cy="324.0" r="0.85"/><circle cx="113.7" cy="331.4" r="0.85"/><circle cx="102.3" cy="322.9" r="0.85"/><circle cx="106.1" cy="330.3" r="0.85"/><circle cx="115.0" cy="329.2" r="0.85"/><circle cx="116.4" cy="316.2" r="0.85"/><circle cx="100.0" cy="317.0" r="0.85"/><circle cx="108.7" cy="331.2" r="0.85"/><circle cx="112.7" cy="329.3" r="0.85"/><circle cx="99.2" cy="310.4" r="0.85"/><circle cx="106.8" cy="328.2" r="0.85"/><circle cx="107.0" cy="328.3" r="0.85"/><circle cx="115.9" cy="319.7" r="0.85"/><circle cx="100.7" cy="313.8" r="0.85"/><circle cx="118.7" cy="312.0" r="0.85"/><circle cx="114.1" cy="323.2" r="0.85"/><circle cx="117.4" cy="320.7" r="0.85"/><circle cx="100.9" cy="326.1" r="0.85"/><circle cx="110.8" cy="330.0" r="0.85"/><circle cx="116.8" cy="319.2" r="0.85"/><circle cx="102.9" cy="327.8" r="0.85"/><circle cx="116.9" cy="324.4" r="0.85"/><circle cx="102.8" cy="323.4" r="0.85"/><circle cx="116.8" cy="320.3" r="0.85"/><circle cx="118.6" cy="319.3" r="0.85"/><circle cx="98.9" cy="322.5" r="0.85"/><circle cx="116.1" cy="329.3" r="0.85"/><circle cx="114.5" cy="330.0" r="0.85"/><circle cx="115.5" cy="317.6" r="0.85"/><circle cx="99.6" cy="329.5" r="0.85"/><circle cx="115.6" cy="329.0" r="0.85"/><circle cx="102.0" cy="315.6" r="0.85"/><circle cx="99.7" cy="313.5" r="0.85"/><circle cx="113.7" cy="326.3" r="0.85"/><circle cx="115.4" cy="318.3" r="0.85"/><circle cx="99.6" cy="309.5" r="0.85"/><circle cx="114.2" cy="331.4" r="0.85"/><circle cx="113.3" cy="326.2" r="0.85"/><circle cx="116.8" cy="317.7" r="0.85"/><circle cx="116.2" cy="320.1" r="0.85"/><circle cx="102.6" cy="321.6" r="0.85"/><circle cx="116.0" cy="316.8" r="0.85"/><circle cx="105.2" cy="323.8" r="0.85"/><circle cx="119.6" cy="330.5" r="0.85"/><circle cx="110.3" cy="331.2" r="0.85"/><circle cx="100.0" cy="323.7" r="0.85"/><circle cx="112.0" cy="331.2" r="0.85"/><circle cx="114.5" cy="330.4" r="0.85"/><circle cx="118.3" cy="319.0" r="0.85"/><circle cx="103.2" cy="325.3" r="0.85"/><circle cx="118.0" cy="318.8" r="0.85"/><circle cx="99.1" cy="315.4" r="0.85"/><circle cx="99.1" cy="321.3" r="0.85"/><circle cx="115.6" cy="327.2" r="0.85"/><circle cx="119.4" cy="307.2" r="0.85"/><circle cx="119.1" cy="323.3" r="0.85"/><circle cx="98.8" cy="320.5" r="0.85"/><circle cx="100.4" cy="314.8" r="0.85"/><circle cx="99.5" cy="328.6" r="0.85"/><circle cx="116.3" cy="323.4" r="0.85"/><circle cx="116.1" cy="319.1" r="0.85"/><circle cx="104.5" cy="323.2" r="0.85"/><circle cx="100.1" cy="312.0" r="0.85"/><circle cx="118.7" cy="322.7" r="0.85"/><circle cx="104.1" cy="327.7" r="0.85"/><circle cx="114.9" cy="327.1" r="0.85"/><circle cx="100.9" cy="316.0" r="0.85"/><circle cx="112.2" cy="330.6" r="0.85"/><circle cx="115.0" cy="326.9" r="0.85"/><circle cx="117.3" cy="331.4" r="0.85"/><circle cx="111.4" cy="330.8" r="0.85"/><circle cx="99.5" cy="324.1" r="0.85"/><circle cx="100.1" cy="327.6" r="0.85"/><circle cx="100.3" cy="321.7" r="0.85"/><circle cx="118.2" cy="324.7" r="0.85"/><circle cx="118.1" cy="331.3" r="0.85"/><circle cx="104.1" cy="326.7" r="0.85"/><circle cx="104.0" cy="326.6" r="0.85"/><circle cx="99.6" cy="320.4" r="0.85"/><circle cx="99.1" cy="323.4" r="0.85"/><circle cx="107.4" cy="329.0" r="0.85"/><circle cx="115.0" cy="320.9" r="0.85"/><circle cx="101.8" cy="318.9" r="0.85"/><circle cx="119.3" cy="309.5" r="0.85"/><circle cx="117.8" cy="319.8" r="0.85"/><circle cx="100.7" cy="319.9" r="0.85"/><circle cx="102.6" cy="318.1" r="0.85"/><circle cx="117.1" cy="329.8" r="0.85"/><circle cx="101.2" cy="318.5" r="0.85"/><circle cx="103.0" cy="320.9" r="0.85"/><circle cx="103.0" cy="322.7" r="0.85"/><circle cx="113.0" cy="329.4" r="0.85"/><circle cx="119.6" cy="306.1" r="0.85"/><circle cx="99.6" cy="321.7" r="0.85"/><circle cx="101.3" cy="327.7" r="0.85"/><circle cx="100.7" cy="321.5" r="0.85"/><circle cx="101.0" cy="318.1" r="0.85"/><circle cx="115.8" cy="325.4" r="0.85"/><circle cx="117.2" cy="315.3" r="0.85"/><circle cx="119.2" cy="316.0" r="0.85"/><circle cx="115.8" cy="327.4" r="0.85"/><circle cx="118.1" cy="319.4" r="0.85"/><circle cx="112.5" cy="330.5" r="0.85"/><circle cx="119.0" cy="325.0" r="0.85"/><circle cx="119.4" cy="317.8" r="0.85"/><circle cx="118.4" cy="312.4" r="0.85"/><circle cx="104.0" cy="331.3" r="0.85"/><circle cx="114.7" cy="329.6" r="0.85"/><circle cx="118.3" cy="312.1" r="0.85"/><circle cx="115.0" cy="323.4" r="0.85"/><circle cx="118.0" cy="319.9" r="0.85"/><circle cx="99.0" cy="310.8" r="0.85"/><circle cx="99.7" cy="318.3" r="0.85"/><circle cx="118.0" cy="327.9" r="0.85"/><circle cx="116.0" cy="319.3" r="0.85"/><circle cx="119.2" cy="313.0" r="0.85"/><circle cx="113.1" cy="329.1" r="0.85"/><circle cx="99.5" cy="326.1" r="0.85"/><circle cx="99.4" cy="313.4" r="0.85"/><circle cx="106.0" cy="326.2" r="0.85"/><circle cx="117.4" cy="319.7" r="0.85"/><circle cx="99.2" cy="314.8" r="0.85"/><circle cx="115.2" cy="323.9" r="0.85"/><circle cx="115.6" cy="325.6" r="0.85"/><circle cx="113.9" cy="328.8" r="0.85"/><circle cx="112.6" cy="330.4" r="0.85"/><circle cx="100.3" cy="317.3" r="0.85"/><circle cx="119.0" cy="313.0" r="0.85"/><circle cx="117.9" cy="323.8" r="0.85"/><circle cx="115.3" cy="329.3" r="0.85"/><circle cx="119.4" cy="313.1" r="0.85"/><circle cx="98.6" cy="324.6" r="0.85"/><circle cx="117.7" cy="326.3" r="0.85"/><circle cx="104.8" cy="324.3" r="0.85"/><circle cx="112.4" cy="329.8" r="0.85"/><circle cx="118.3" cy="327.3" r="0.85"/><circle cx="104.7" cy="329.5" r="0.85"/><circle cx="98.7" cy="320.0" r="0.85"/><circle cx="114.8" cy="329.2" r="0.85"/><circle cx="115.1" cy="323.2" r="0.85"/><circle cx="116.2" cy="323.3" r="0.85"/><circle cx="117.6" cy="322.8" r="0.85"/><circle cx="101.5" cy="321.0" r="0.85"/><circle cx="103.1" cy="320.7" r="0.85"/><circle cx="116.1" cy="319.1" r="0.85"/><circle cx="113.6" cy="323.5" r="0.85"/><circle cx="98.8" cy="330.6" r="0.85"/><circle cx="113.9" cy="325.1" r="0.85"/><circle cx="99.4" cy="324.6" r="0.85"/><circle cx="112.8" cy="326.4" r="0.85"/><circle cx="100.5" cy="313.6" r="0.85"/><circle cx="100.5" cy="322.2" r="0.85"/><circle cx="117.3" cy="329.6" r="0.85"/><circle cx="99.0" cy="313.4" r="0.85"/><circle cx="98.8" cy="323.1" r="0.85"/><circle cx="119.0" cy="320.2" r="0.85"/><circle cx="119.1" cy="309.4" r="0.85"/><circle cx="104.3" cy="327.7" r="0.85"/><circle cx="99.0" cy="309.9" r="0.85"/><circle cx="118.2" cy="322.7" r="0.85"/><circle cx="112.8" cy="327.1" r="0.85"/><circle cx="119.6" cy="330.0" r="0.85"/><circle cx="98.9" cy="318.7" r="0.85"/><circle cx="117.1" cy="329.7" r="0.85"/><circle cx="100.5" cy="327.0" r="0.85"/><circle cx="118.2" cy="325.1" r="0.85"/><circle cx="102.3" cy="319.5" r="0.85"/><circle cx="116.8" cy="321.8" r="0.85"/><circle cx="119.4" cy="327.6" r="0.85"/><circle cx="118.9" cy="323.4" r="0.85"/><circle cx="99.1" cy="317.0" r="0.85"/><circle cx="119.3" cy="315.0" r="0.85"/><circle cx="100.4" cy="323.3" r="0.85"/><circle cx="101.4" cy="332.0" r="0.85"/><circle cx="53.0" cy="331.5" r="0.85"/><circle cx="120.3" cy="331.1" r="0.85"/><circle cx="134.1" cy="331.0" r="0.85"/><circle cx="63.2" cy="330.9" r="0.85"/><circle cx="55.9" cy="331.3" r="0.85"/><circle cx="142.0" cy="331.0" r="0.85"/><circle cx="83.6" cy="331.2" r="0.85"/><circle cx="76.3" cy="332.1" r="0.85"/><circle cx="147.9" cy="330.9" r="0.85"/><circle cx="127.5" cy="332.2" r="0.85"/><circle cx="51.9" cy="331.3" r="0.85"/><circle cx="53.6" cy="331.2" r="0.85"/><circle cx="64.9" cy="331.4" r="0.85"/><circle cx="74.4" cy="331.9" r="0.85"/><circle cx="95.1" cy="330.8" r="0.85"/><circle cx="115.1" cy="331.4" r="0.85"/><circle cx="136.9" cy="331.9" r="0.85"/><circle cx="79.4" cy="331.3" r="0.85"/><circle cx="134.7" cy="332.2" r="0.85"/><circle cx="115.0" cy="331.7" r="0.85"/><circle cx="89.5" cy="331.4" r="0.85"/><circle cx="87.5" cy="331.5" r="0.85"/><circle cx="83.9" cy="331.2" r="0.85"/><circle cx="53.8" cy="330.8" r="0.85"/><circle cx="151.7" cy="331.3" r="0.85"/><circle cx="163.0" cy="331.1" r="0.85"/><circle cx="93.0" cy="332.1" r="0.85"/><circle cx="102.5" cy="331.8" r="0.85"/><circle cx="141.1" cy="331.3" r="0.85"/><circle cx="74.1" cy="330.7" r="0.85"/><circle cx="151.3" cy="331.6" r="0.85"/><circle cx="141.8" cy="332.3" r="0.85"/><circle cx="152.3" cy="331.6" r="0.85"/><circle cx="63.5" cy="331.6" r="0.85"/><circle cx="107.1" cy="330.9" r="0.85"/><circle cx="52.7" cy="331.3" r="0.85"/><circle cx="94.0" cy="332.1" r="0.85"/><circle cx="166.5" cy="332.2" r="0.85"/><circle cx="88.1" cy="332.1" r="0.85"/><circle cx="95.0" cy="331.3" r="0.85"/><circle cx="118.0" cy="330.8" r="0.85"/><circle cx="129.2" cy="330.8" r="0.85"/><circle cx="119.2" cy="331.9" r="0.85"/><circle cx="57.6" cy="331.7" r="0.85"/><circle cx="109.9" cy="331.3" r="0.85"/><circle cx="141.9" cy="331.2" r="0.85"/><circle cx="72.9" cy="331.4" r="0.85"/><circle cx="93.2" cy="332.0" r="0.85"/><circle cx="74.6" cy="331.3" r="0.85"/><circle cx="141.6" cy="331.4" r="0.85"/><circle cx="90.0" cy="330.9" r="0.85"/><circle cx="91.6" cy="331.5" r="0.85"/><circle cx="141.5" cy="332.3" r="0.85"/><circle cx="112.9" cy="331.5" r="0.85"/><circle cx="139.1" cy="331.4" r="0.85"/><circle cx="80.2" cy="331.8" r="0.85"/><circle cx="147.6" cy="331.1" r="0.85"/><circle cx="150.9" cy="330.8" r="0.85"/><circle cx="72.7" cy="331.3" r="0.85"/><circle cx="156.2" cy="331.5" r="0.85"/><circle cx="90.8" cy="331.1" r="0.85"/><circle cx="105.1" cy="331.6" r="0.85"/><circle cx="120.3" cy="332.1" r="0.85"/><circle cx="64.9" cy="331.8" r="0.85"/><circle cx="162.9" cy="331.7" r="0.85"/><circle cx="133.4" cy="332.0" r="0.85"/><circle cx="154.0" cy="331.2" r="0.85"/><circle cx="103.4" cy="332.0" r="0.85"/><circle cx="69.1" cy="331.4" r="0.85"/><circle cx="163.3" cy="331.3" r="0.85"/><circle cx="101.1" cy="331.4" r="0.85"/><circle cx="106.6" cy="331.9" r="0.85"/><circle cx="63.3" cy="331.4" r="0.85"/><circle cx="100.3" cy="332.2" r="0.85"/><circle cx="150.3" cy="331.2" r="0.85"/><circle cx="87.7" cy="332.3" r="0.85"/><circle cx="52.0" cy="331.8" r="0.85"/><circle cx="52.4" cy="331.2" r="0.85"/><circle cx="126.0" cy="331.8" r="0.85"/><circle cx="124.8" cy="331.1" r="0.85"/><circle cx="97.4" cy="332.1" r="0.85"/><circle cx="82.9" cy="331.6" r="0.85"/><circle cx="115.7" cy="332.1" r="0.85"/><circle cx="144.5" cy="332.0" r="0.85"/><circle cx="89.9" cy="331.9" r="0.85"/><circle cx="154.9" cy="330.8" r="0.85"/><circle cx="135.3" cy="331.4" r="0.85"/><circle cx="95.5" cy="331.7" r="0.85"/><circle cx="144.9" cy="332.1" r="0.85"/><circle cx="143.6" cy="332.2" r="0.85"/><circle cx="151.2" cy="331.5" r="0.85"/><circle cx="131.3" cy="332.2" r="0.85"/><circle cx="119.3" cy="330.8" r="0.85"/><circle cx="97.2" cy="331.8" r="0.85"/><circle cx="53.0" cy="330.9" r="0.85"/><circle cx="149.0" cy="331.8" r="0.85"/><circle cx="52.6" cy="331.9" r="0.85"/><circle cx="121.9" cy="331.3" r="0.85"/><circle cx="125.9" cy="330.8" r="0.85"/><circle cx="66.8" cy="331.8" r="0.85"/><circle cx="130.2" cy="331.7" r="0.85"/><circle cx="101.5" cy="331.0" r="0.85"/><circle cx="65.6" cy="332.2" r="0.85"/><circle cx="84.4" cy="331.4" r="0.85"/><circle cx="110.1" cy="330.7" r="0.85"/><circle cx="88.1" cy="331.0" r="0.85"/><circle cx="62.7" cy="332.2" r="0.85"/><circle cx="70.9" cy="331.2" r="0.85"/><circle cx="82.0" cy="332.0" r="0.85"/></g>
<g fill="#1e1e88" stroke="#ffffff" stroke-width="0.14"><circle cx="96.3" cy="319.3" r="0.85"/><circle cx="92.7" cy="330.0" r="0.85"/><circle cx="98.5" cy="306.2" r="0.85"/><circle cx="98.2" cy="306.1" r="0.85"/><circle cx="94.9" cy="327.9" r="0.85"/><circle cx="94.6" cy="306.9" r="0.85"/><circle cx="95.7" cy="317.3" r="0.85"/><circle cx="97.0" cy="328.7" r="0.85"/><circle cx="98.1" cy="313.9" r="0.85"/><circle cx="88.4" cy="315.0" r="0.85"/><circle cx="92.2" cy="323.9" r="0.85"/><circle cx="86.2" cy="328.4" r="0.85"/><circle cx="95.2" cy="319.6" r="0.85"/><circle cx="85.8" cy="321.7" r="0.85"/><circle cx="94.6" cy="325.7" r="0.85"/><circle cx="89.5" cy="326.0" r="0.85"/><circle cx="89.2" cy="324.9" r="0.85"/><circle cx="93.7" cy="330.5" r="0.85"/><circle cx="93.8" cy="320.2" r="0.85"/><circle cx="89.8" cy="322.1" r="0.85"/><circle cx="95.2" cy="312.8" r="0.85"/><circle cx="94.4" cy="328.7" r="0.85"/><circle cx="92.9" cy="324.5" r="0.85"/><circle cx="87.5" cy="324.7" r="0.85"/><circle cx="88.6" cy="328.8" r="0.85"/><circle cx="94.4" cy="312.8" r="0.85"/><circle cx="95.1" cy="304.9" r="0.85"/><circle cx="86.4" cy="320.5" r="0.85"/><circle cx="92.5" cy="317.3" r="0.85"/><circle cx="96.8" cy="312.0" r="0.85"/><circle cx="92.0" cy="311.4" r="0.85"/><circle cx="86.3" cy="325.2" r="0.85"/><circle cx="96.3" cy="313.6" r="0.85"/><circle cx="90.8" cy="314.8" r="0.85"/><circle cx="82.8" cy="327.3" r="0.85"/><circle cx="96.3" cy="317.0" r="0.85"/><circle cx="96.9" cy="330.9" r="0.85"/><circle cx="84.1" cy="330.6" r="0.85"/><circle cx="86.2" cy="326.6" r="0.85"/><circle cx="96.4" cy="326.5" r="0.85"/><circle cx="95.0" cy="311.1" r="0.85"/><circle cx="92.3" cy="311.0" r="0.85"/><circle cx="87.6" cy="328.8" r="0.85"/><circle cx="87.0" cy="322.0" r="0.85"/><circle cx="90.4" cy="321.2" r="0.85"/><circle cx="87.5" cy="319.5" r="0.85"/><circle cx="94.0" cy="309.1" r="0.85"/><circle cx="88.4" cy="321.4" r="0.85"/><circle cx="96.7" cy="311.7" r="0.85"/><circle cx="86.1" cy="329.1" r="0.85"/><circle cx="87.3" cy="330.9" r="0.85"/><circle cx="97.2" cy="319.8" r="0.85"/><circle cx="84.9" cy="327.7" r="0.85"/><circle cx="92.0" cy="309.7" r="0.85"/><circle cx="83.9" cy="325.1" r="0.85"/><circle cx="93.2" cy="312.5" r="0.85"/><circle cx="95.7" cy="318.7" r="0.85"/><circle cx="93.2" cy="324.2" r="0.85"/><circle cx="92.4" cy="329.5" r="0.85"/><circle cx="91.1" cy="328.4" r="0.85"/><circle cx="96.7" cy="327.6" r="0.85"/><circle cx="93.9" cy="307.7" r="0.85"/><circle cx="91.8" cy="307.2" r="0.85"/><circle cx="94.1" cy="319.5" r="0.85"/><circle cx="95.4" cy="323.3" r="0.85"/><circle cx="83.5" cy="324.5" r="0.85"/><circle cx="89.7" cy="312.1" r="0.85"/><circle cx="97.6" cy="305.4" r="0.85"/><circle cx="85.7" cy="326.9" r="0.85"/><circle cx="95.4" cy="309.9" r="0.85"/><circle cx="82.1" cy="331.1" r="0.85"/><circle cx="96.9" cy="311.2" r="0.85"/><circle cx="92.7" cy="314.3" r="0.85"/><circle cx="91.0" cy="322.1" r="0.85"/><circle cx="94.8" cy="327.2" r="0.85"/><circle cx="98.5" cy="319.6" r="0.85"/><circle cx="88.8" cy="318.8" r="0.85"/><circle cx="95.1" cy="315.2" r="0.85"/><circle cx="98.4" cy="331.3" r="0.85"/><circle cx="88.2" cy="317.1" r="0.85"/><circle cx="96.3" cy="313.2" r="0.85"/><circle cx="96.8" cy="322.5" r="0.85"/><circle cx="86.2" cy="324.8" r="0.85"/><circle cx="96.6" cy="313.7" r="0.85"/><circle cx="84.7" cy="324.1" r="0.85"/><circle cx="98.6" cy="326.8" r="0.85"/><circle cx="82.5" cy="327.5" r="0.85"/><circle cx="97.8" cy="323.9" r="0.85"/><circle cx="97.1" cy="319.7" r="0.85"/><circle cx="90.0" cy="320.9" r="0.85"/><circle cx="89.6" cy="323.5" r="0.85"/><circle cx="96.9" cy="306.3" r="0.85"/><circle cx="93.8" cy="314.5" r="0.85"/><circle cx="92.1" cy="308.8" r="0.85"/><circle cx="84.4" cy="323.1" r="0.85"/><circle cx="93.9" cy="328.0" r="0.85"/><circle cx="96.1" cy="324.2" r="0.85"/><circle cx="92.2" cy="318.2" r="0.85"/><circle cx="94.6" cy="326.1" r="0.85"/><circle cx="88.9" cy="326.5" r="0.85"/><circle cx="93.8" cy="309.5" r="0.85"/><circle cx="98.2" cy="321.4" r="0.85"/><circle cx="94.6" cy="305.3" r="0.85"/><circle cx="88.8" cy="314.7" r="0.85"/><circle cx="96.7" cy="324.6" r="0.85"/><circle cx="93.5" cy="307.8" r="0.85"/><circle cx="88.3" cy="314.8" r="0.85"/><circle cx="94.3" cy="324.4" r="0.85"/><circle cx="90.5" cy="331.0" r="0.85"/><circle cx="89.0" cy="322.1" r="0.85"/><circle cx="94.5" cy="323.7" r="0.85"/><circle cx="97.1" cy="314.2" r="0.85"/><circle cx="90.3" cy="311.1" r="0.85"/><circle cx="98.0" cy="311.2" r="0.85"/><circle cx="90.9" cy="328.1" r="0.85"/><circle cx="90.4" cy="319.7" r="0.85"/><circle cx="93.4" cy="322.5" r="0.85"/><circle cx="86.3" cy="321.3" r="0.85"/><circle cx="97.0" cy="322.5" r="0.85"/><circle cx="92.7" cy="325.1" r="0.85"/><circle cx="84.9" cy="329.6" r="0.85"/><circle cx="97.4" cy="306.0" r="0.85"/><circle cx="96.3" cy="328.6" r="0.85"/><circle cx="93.7" cy="310.4" r="0.85"/><circle cx="92.9" cy="329.5" r="0.85"/><circle cx="98.3" cy="330.4" r="0.85"/><circle cx="96.5" cy="316.0" r="0.85"/><circle cx="93.5" cy="308.1" r="0.85"/><circle cx="84.2" cy="323.0" r="0.85"/><circle cx="90.4" cy="311.7" r="0.85"/><circle cx="93.6" cy="306.7" r="0.85"/><circle cx="90.0" cy="312.7" r="0.85"/><circle cx="95.1" cy="307.2" r="0.85"/><circle cx="95.1" cy="326.7" r="0.85"/><circle cx="82.5" cy="328.5" r="0.85"/><circle cx="85.9" cy="330.5" r="0.85"/><circle cx="98.0" cy="331.2" r="0.85"/><circle cx="95.3" cy="303.0" r="0.85"/><circle cx="98.3" cy="325.5" r="0.85"/><circle cx="85.8" cy="321.4" r="0.85"/><circle cx="85.0" cy="330.5" r="0.85"/><circle cx="98.3" cy="321.2" r="0.85"/><circle cx="93.1" cy="322.4" r="0.85"/><circle cx="82.1" cy="330.5" r="0.85"/><circle cx="94.5" cy="327.8" r="0.85"/><circle cx="93.2" cy="313.6" r="0.85"/><circle cx="94.8" cy="329.5" r="0.85"/><circle cx="86.7" cy="325.0" r="0.85"/><circle cx="85.3" cy="326.6" r="0.85"/><circle cx="92.2" cy="317.8" r="0.85"/><circle cx="87.6" cy="329.8" r="0.85"/><circle cx="91.0" cy="324.9" r="0.85"/><circle cx="89.8" cy="319.5" r="0.85"/><circle cx="84.2" cy="329.4" r="0.85"/><circle cx="96.8" cy="328.0" r="0.85"/><circle cx="94.1" cy="311.3" r="0.85"/><circle cx="92.0" cy="309.4" r="0.85"/><circle cx="93.9" cy="321.7" r="0.85"/><circle cx="94.0" cy="328.7" r="0.85"/><circle cx="90.8" cy="328.6" r="0.85"/><circle cx="91.2" cy="319.0" r="0.85"/><circle cx="92.8" cy="328.6" r="0.85"/><circle cx="95.5" cy="311.7" r="0.85"/><circle cx="91.5" cy="315.5" r="0.85"/><circle cx="90.0" cy="311.3" r="0.85"/><circle cx="92.0" cy="325.1" r="0.85"/><circle cx="94.8" cy="310.7" r="0.85"/><circle cx="93.8" cy="325.3" r="0.85"/><circle cx="97.1" cy="318.0" r="0.85"/><circle cx="89.3" cy="319.6" r="0.85"/><circle cx="84.8" cy="324.9" r="0.85"/><circle cx="90.6" cy="320.4" r="0.85"/><circle cx="89.2" cy="315.7" r="0.85"/><circle cx="92.6" cy="309.3" r="0.85"/><circle cx="95.4" cy="329.7" r="0.85"/><circle cx="96.0" cy="318.1" r="0.85"/><circle cx="98.0" cy="329.7" r="0.85"/><circle cx="94.4" cy="311.8" r="0.85"/><circle cx="89.5" cy="329.0" r="0.85"/><circle cx="85.2" cy="324.7" r="0.85"/><circle cx="98.0" cy="329.5" r="0.85"/><circle cx="83.3" cy="327.4" r="0.85"/><circle cx="94.4" cy="313.7" r="0.85"/><circle cx="95.8" cy="312.0" r="0.85"/><circle cx="86.9" cy="327.9" r="0.85"/><circle cx="85.5" cy="330.6" r="0.85"/><circle cx="85.6" cy="326.5" r="0.85"/><circle cx="89.9" cy="321.1" r="0.85"/><circle cx="94.1" cy="329.9" r="0.85"/><circle cx="90.7" cy="309.6" r="0.85"/><circle cx="91.7" cy="313.0" r="0.85"/><circle cx="93.6" cy="319.9" r="0.85"/><circle cx="91.3" cy="330.6" r="0.85"/><circle cx="97.0" cy="300.8" r="0.85"/><circle cx="88.1" cy="327.2" r="0.85"/><circle cx="86.9" cy="328.6" r="0.85"/><circle cx="88.5" cy="329.9" r="0.85"/><circle cx="83.8" cy="325.9" r="0.85"/><circle cx="97.9" cy="325.6" r="0.85"/><circle cx="85.7" cy="323.7" r="0.85"/><circle cx="95.9" cy="320.8" r="0.85"/><circle cx="98.4" cy="305.2" r="0.85"/><circle cx="96.5" cy="304.3" r="0.85"/><circle cx="90.7" cy="324.6" r="0.85"/><circle cx="95.8" cy="319.9" r="0.85"/><circle cx="95.7" cy="307.4" r="0.85"/><circle cx="89.5" cy="314.3" r="0.85"/><circle cx="97.6" cy="325.8" r="0.85"/><circle cx="95.9" cy="328.1" r="0.85"/><circle cx="91.9" cy="323.2" r="0.85"/><circle cx="91.0" cy="310.3" r="0.85"/><circle cx="93.7" cy="307.1" r="0.85"/><circle cx="95.4" cy="308.9" r="0.85"/><circle cx="91.4" cy="325.6" r="0.85"/><circle cx="92.3" cy="327.0" r="0.85"/><circle cx="86.4" cy="324.6" r="0.85"/><circle cx="86.3" cy="331.1" r="0.85"/><circle cx="98.2" cy="327.7" r="0.85"/><circle cx="92.2" cy="322.3" r="0.85"/><circle cx="97.2" cy="313.9" r="0.85"/><circle cx="94.4" cy="320.3" r="0.85"/><circle cx="93.9" cy="312.9" r="0.85"/><circle cx="89.0" cy="324.4" r="0.85"/><circle cx="87.3" cy="328.5" r="0.85"/><circle cx="93.3" cy="321.4" r="0.85"/><circle cx="91.3" cy="324.4" r="0.85"/><circle cx="85.9" cy="319.3" r="0.85"/><circle cx="93.6" cy="312.3" r="0.85"/><circle cx="93.5" cy="318.2" r="0.85"/><circle cx="88.3" cy="326.2" r="0.85"/><circle cx="84.3" cy="322.7" r="0.85"/><circle cx="96.3" cy="316.6" r="0.85"/><circle cx="90.2" cy="325.8" r="0.85"/><circle cx="96.0" cy="302.9" r="0.85"/><circle cx="91.2" cy="321.0" r="0.85"/><circle cx="82.0" cy="331.0" r="0.85"/><circle cx="92.2" cy="323.6" r="0.85"/><circle cx="97.6" cy="330.9" r="0.85"/><circle cx="95.9" cy="324.5" r="0.85"/><circle cx="92.2" cy="331.4" r="0.85"/><circle cx="96.1" cy="328.4" r="0.85"/><circle cx="94.8" cy="312.5" r="0.85"/><circle cx="92.3" cy="306.3" r="0.85"/><circle cx="91.2" cy="310.0" r="0.85"/><circle cx="88.7" cy="316.7" r="0.85"/><circle cx="97.1" cy="323.3" r="0.85"/><circle cx="94.0" cy="322.0" r="0.85"/><circle cx="92.5" cy="322.3" r="0.85"/><circle cx="92.5" cy="306.2" r="0.85"/><circle cx="94.3" cy="321.3" r="0.85"/><circle cx="97.5" cy="300.3" r="0.85"/><circle cx="88.6" cy="322.9" r="0.85"/><circle cx="98.3" cy="313.3" r="0.85"/><circle cx="85.9" cy="323.6" r="0.85"/><circle cx="98.0" cy="302.9" r="0.85"/><circle cx="89.6" cy="327.6" r="0.85"/><circle cx="96.7" cy="325.8" r="0.85"/><circle cx="97.1" cy="322.9" r="0.85"/><circle cx="93.8" cy="311.6" r="0.85"/><circle cx="94.2" cy="327.6" r="0.85"/><circle cx="94.6" cy="310.2" r="0.85"/><circle cx="86.4" cy="318.4" r="0.85"/><circle cx="84.3" cy="328.5" r="0.85"/><circle cx="91.5" cy="330.6" r="0.85"/><circle cx="84.0" cy="327.7" r="0.85"/><circle cx="96.6" cy="312.9" r="0.85"/><circle cx="94.3" cy="305.2" r="0.85"/><circle cx="84.8" cy="324.4" r="0.85"/><circle cx="91.5" cy="319.2" r="0.85"/><circle cx="93.0" cy="321.6" r="0.85"/><circle cx="88.3" cy="321.4" r="0.85"/><circle cx="89.1" cy="331.3" r="0.85"/><circle cx="89.2" cy="315.1" r="0.85"/><circle cx="96.3" cy="328.2" r="0.85"/><circle cx="94.7" cy="330.9" r="0.85"/><circle cx="90.3" cy="329.9" r="0.85"/><circle cx="84.1" cy="330.7" r="0.85"/><circle cx="96.6" cy="317.0" r="0.85"/><circle cx="94.2" cy="324.0" r="0.85"/><circle cx="86.9" cy="330.0" r="0.85"/><circle cx="92.7" cy="327.6" r="0.85"/><circle cx="82.1" cy="330.3" r="0.85"/><circle cx="93.5" cy="318.5" r="0.85"/><circle cx="89.1" cy="330.2" r="0.85"/><circle cx="90.9" cy="309.5" r="0.85"/><circle cx="95.0" cy="328.7" r="0.85"/><circle cx="87.3" cy="318.7" r="0.85"/><circle cx="92.6" cy="320.8" r="0.85"/><circle cx="95.6" cy="312.9" r="0.85"/><circle cx="96.1" cy="319.8" r="0.85"/><circle cx="91.2" cy="308.1" r="0.85"/><circle cx="92.9" cy="306.6" r="0.85"/><circle cx="83.9" cy="328.1" r="0.85"/><circle cx="97.0" cy="324.2" r="0.85"/><circle cx="93.0" cy="324.0" r="0.85"/><circle cx="95.9" cy="306.5" r="0.85"/><circle cx="93.5" cy="310.1" r="0.85"/><circle cx="83.2" cy="328.8" r="0.85"/><circle cx="84.7" cy="322.2" r="0.85"/><circle cx="90.8" cy="314.9" r="0.85"/><circle cx="95.2" cy="318.9" r="0.85"/><circle cx="96.9" cy="313.6" r="0.85"/><circle cx="89.2" cy="323.9" r="0.85"/><circle cx="82.4" cy="329.7" r="0.85"/><circle cx="87.3" cy="323.6" r="0.85"/><circle cx="90.3" cy="316.6" r="0.85"/><circle cx="96.1" cy="319.0" r="0.85"/><circle cx="92.6" cy="308.8" r="0.85"/><circle cx="91.6" cy="326.6" r="0.85"/><circle cx="90.4" cy="322.8" r="0.85"/><circle cx="89.0" cy="313.8" r="0.85"/><circle cx="82.5" cy="330.9" r="0.85"/><circle cx="84.6" cy="326.3" r="0.85"/><circle cx="96.9" cy="328.4" r="0.85"/><circle cx="87.8" cy="318.2" r="0.85"/><circle cx="93.4" cy="318.0" r="0.85"/><circle cx="93.0" cy="330.6" r="0.85"/><circle cx="96.4" cy="303.1" r="0.85"/><circle cx="96.0" cy="309.8" r="0.85"/><circle cx="89.5" cy="311.8" r="0.85"/><circle cx="96.1" cy="327.0" r="0.85"/><circle cx="85.6" cy="325.7" r="0.85"/><circle cx="84.2" cy="329.0" r="0.85"/><circle cx="91.6" cy="318.9" r="0.85"/><circle cx="95.0" cy="315.8" r="0.85"/><circle cx="90.0" cy="316.2" r="0.85"/><circle cx="87.3" cy="327.9" r="0.85"/><circle cx="95.4" cy="319.8" r="0.85"/><circle cx="95.7" cy="323.4" r="0.85"/><circle cx="90.9" cy="317.4" r="0.85"/><circle cx="93.1" cy="329.8" r="0.85"/><circle cx="87.2" cy="327.9" r="0.85"/><circle cx="95.6" cy="322.5" r="0.85"/><circle cx="85.9" cy="327.7" r="0.85"/><circle cx="90.4" cy="326.4" r="0.85"/><circle cx="91.8" cy="312.7" r="0.85"/><circle cx="92.7" cy="318.2" r="0.85"/><circle cx="97.0" cy="319.4" r="0.85"/><circle cx="85.2" cy="320.6" r="0.85"/><circle cx="94.7" cy="329.2" r="0.85"/><circle cx="90.0" cy="317.6" r="0.85"/><circle cx="92.4" cy="324.2" r="0.85"/><circle cx="95.4" cy="311.4" r="0.85"/><circle cx="87.4" cy="316.8" r="0.85"/><circle cx="92.1" cy="323.8" r="0.85"/><circle cx="93.9" cy="320.0" r="0.85"/><circle cx="96.7" cy="321.5" r="0.85"/><circle cx="85.6" cy="322.8" r="0.85"/><circle cx="91.6" cy="318.2" r="0.85"/><circle cx="91.3" cy="320.3" r="0.85"/><circle cx="87.2" cy="317.5" r="0.85"/><circle cx="96.3" cy="305.5" r="0.85"/><circle cx="97.3" cy="321.1" r="0.85"/><circle cx="86.8" cy="317.6" r="0.85"/><circle cx="91.3" cy="329.5" r="0.85"/><circle cx="95.7" cy="314.6" r="0.85"/><circle cx="97.8" cy="310.0" r="0.85"/><circle cx="89.6" cy="313.5" r="0.85"/><circle cx="86.0" cy="327.6" r="0.85"/><circle cx="96.8" cy="311.6" r="0.85"/><circle cx="95.3" cy="313.3" r="0.85"/><circle cx="96.3" cy="326.6" r="0.85"/><circle cx="92.5" cy="322.7" r="0.85"/><circle cx="91.5" cy="326.7" r="0.85"/><circle cx="89.3" cy="312.4" r="0.85"/><circle cx="98.5" cy="313.7" r="0.85"/><circle cx="93.7" cy="313.6" r="0.85"/><circle cx="89.4" cy="329.9" r="0.85"/><circle cx="89.9" cy="316.4" r="0.85"/><circle cx="83.3" cy="325.7" r="0.85"/><circle cx="92.5" cy="323.2" r="0.85"/><circle cx="95.7" cy="321.0" r="0.85"/><circle cx="93.2" cy="314.0" r="0.85"/><circle cx="94.7" cy="307.5" r="0.85"/><circle cx="87.2" cy="324.9" r="0.85"/><circle cx="96.6" cy="324.1" r="0.85"/><circle cx="90.4" cy="315.3" r="0.85"/><circle cx="83.3" cy="330.3" r="0.85"/><circle cx="87.1" cy="330.4" r="0.85"/><circle cx="89.2" cy="330.3" r="0.85"/><circle cx="96.6" cy="317.6" r="0.85"/><circle cx="96.7" cy="327.2" r="0.85"/><circle cx="89.3" cy="319.5" r="0.85"/><circle cx="83.5" cy="327.4" r="0.85"/><circle cx="97.9" cy="312.4" r="0.85"/><circle cx="88.7" cy="325.2" r="0.85"/><circle cx="83.0" cy="327.0" r="0.85"/><circle cx="85.7" cy="320.4" r="0.85"/><circle cx="89.8" cy="330.3" r="0.85"/><circle cx="94.8" cy="303.7" r="0.85"/><circle cx="88.8" cy="316.9" r="0.85"/><circle cx="88.4" cy="314.7" r="0.85"/><circle cx="98.0" cy="321.8" r="0.85"/><circle cx="97.7" cy="300.9" r="0.85"/><circle cx="97.1" cy="322.4" r="0.85"/><circle cx="90.0" cy="322.3" r="0.85"/><circle cx="92.2" cy="324.6" r="0.85"/><circle cx="89.3" cy="312.0" r="0.85"/><circle cx="85.1" cy="321.3" r="0.85"/><circle cx="85.6" cy="328.1" r="0.85"/><circle cx="79.9" cy="329.1" r="0.85"/><circle cx="95.6" cy="295.2" r="0.85"/><circle cx="95.6" cy="298.6" r="0.85"/><circle cx="96.5" cy="297.6" r="0.85"/><circle cx="81.5" cy="320.6" r="0.85"/><circle cx="81.9" cy="319.4" r="0.85"/><circle cx="95.2" cy="300.1" r="0.85"/><circle cx="93.2" cy="304.2" r="0.85"/><circle cx="82.6" cy="325.7" r="0.85"/><circle cx="93.6" cy="291.4" r="0.85"/><circle cx="84.0" cy="321.3" r="0.85"/><circle cx="87.7" cy="310.1" r="0.85"/><circle cx="93.5" cy="298.0" r="0.85"/><circle cx="85.4" cy="315.8" r="0.85"/><circle cx="82.9" cy="322.0" r="0.85"/><circle cx="82.7" cy="321.2" r="0.85"/><circle cx="78.7" cy="324.8" r="0.85"/><circle cx="84.0" cy="316.6" r="0.85"/><circle cx="88.6" cy="307.2" r="0.85"/><circle cx="97.1" cy="299.5" r="0.85"/><circle cx="82.4" cy="323.0" r="0.85"/><circle cx="83.1" cy="324.6" r="0.85"/><circle cx="79.6" cy="327.4" r="0.85"/><circle cx="83.1" cy="313.2" r="0.85"/><circle cx="93.8" cy="299.3" r="0.85"/><circle cx="80.6" cy="329.5" r="0.85"/><circle cx="88.7" cy="303.6" r="0.85"/><circle cx="77.1" cy="329.4" r="0.85"/><circle cx="86.9" cy="314.9" r="0.85"/><circle cx="98.5" cy="288.5" r="0.85"/><circle cx="96.9" cy="295.8" r="0.85"/><circle cx="97.4" cy="296.5" r="0.85"/><circle cx="92.8" cy="299.8" r="0.85"/><circle cx="86.5" cy="311.7" r="0.85"/><circle cx="77.9" cy="326.6" r="0.85"/><circle cx="87.7" cy="306.5" r="0.85"/><circle cx="90.2" cy="303.5" r="0.85"/><circle cx="88.1" cy="313.4" r="0.85"/><circle cx="82.6" cy="319.0" r="0.85"/><circle cx="81.2" cy="319.1" r="0.85"/><circle cx="95.9" cy="295.7" r="0.85"/><circle cx="80.7" cy="320.6" r="0.85"/><circle cx="78.6" cy="327.9" r="0.85"/><circle cx="81.0" cy="327.9" r="0.85"/><circle cx="85.6" cy="316.0" r="0.85"/><circle cx="95.3" cy="296.1" r="0.85"/><circle cx="84.2" cy="320.3" r="0.85"/><circle cx="95.5" cy="299.7" r="0.85"/><circle cx="84.0" cy="320.2" r="0.85"/><circle cx="93.3" cy="299.0" r="0.85"/><circle cx="79.3" cy="327.0" r="0.85"/><circle cx="98.2" cy="290.1" r="0.85"/><circle cx="86.9" cy="312.8" r="0.85"/><circle cx="97.8" cy="298.3" r="0.85"/><circle cx="98.2" cy="284.6" r="0.85"/><circle cx="89.6" cy="308.8" r="0.85"/><circle cx="93.2" cy="299.5" r="0.85"/><circle cx="84.4" cy="319.1" r="0.85"/><circle cx="85.7" cy="312.4" r="0.85"/><circle cx="80.5" cy="322.6" r="0.85"/><circle cx="80.3" cy="328.0" r="0.85"/><circle cx="88.7" cy="308.3" r="0.85"/><circle cx="83.4" cy="314.4" r="0.85"/><circle cx="81.4" cy="326.8" r="0.85"/><circle cx="94.6" cy="292.2" r="0.85"/><circle cx="90.2" cy="302.3" r="0.85"/><circle cx="80.2" cy="325.8" r="0.85"/><circle cx="82.9" cy="324.6" r="0.85"/><circle cx="77.4" cy="329.3" r="0.85"/><circle cx="84.4" cy="316.8" r="0.85"/><circle cx="81.0" cy="323.7" r="0.85"/><circle cx="82.1" cy="325.7" r="0.85"/><circle cx="88.8" cy="311.2" r="0.85"/><circle cx="83.7" cy="316.2" r="0.85"/><circle cx="79.3" cy="327.8" r="0.85"/><circle cx="84.9" cy="314.1" r="0.85"/><circle cx="80.4" cy="320.8" r="0.85"/><circle cx="81.4" cy="325.8" r="0.85"/><circle cx="97.2" cy="290.5" r="0.85"/><circle cx="81.3" cy="326.8" r="0.85"/><circle cx="96.4" cy="299.6" r="0.85"/><circle cx="78.0" cy="331.2" r="0.85"/><circle cx="83.2" cy="324.4" r="0.85"/><circle cx="80.4" cy="326.7" r="0.85"/><circle cx="92.0" cy="298.7" r="0.85"/><circle cx="98.5" cy="295.3" r="0.85"/><circle cx="91.4" cy="296.6" r="0.85"/><circle cx="93.5" cy="297.3" r="0.85"/><circle cx="79.6" cy="330.7" r="0.85"/><circle cx="92.7" cy="304.4" r="0.85"/><circle cx="68.5" cy="329.1" r="0.85"/><circle cx="80.5" cy="328.2" r="0.85"/><circle cx="75.6" cy="329.5" r="0.85"/><circle cx="78.8" cy="329.0" r="0.85"/><circle cx="52.1" cy="331.0" r="0.85"/><circle cx="65.6" cy="329.4" r="0.85"/><circle cx="68.6" cy="330.6" r="0.85"/><circle cx="79.2" cy="331.5" r="0.85"/><circle cx="52.9" cy="331.0" r="0.85"/><circle cx="80.4" cy="328.8" r="0.85"/><circle cx="67.8" cy="328.7" r="0.85"/><circle cx="77.1" cy="329.6" r="0.85"/><circle cx="61.7" cy="329.9" r="0.85"/><circle cx="61.3" cy="329.2" r="0.85"/><circle cx="65.4" cy="330.4" r="0.85"/><circle cx="69.1" cy="329.4" r="0.85"/><circle cx="66.2" cy="329.3" r="0.85"/><circle cx="72.3" cy="331.0" r="0.85"/><circle cx="68.8" cy="330.5" r="0.85"/><circle cx="72.5" cy="331.4" r="0.85"/><circle cx="75.5" cy="329.3" r="0.85"/><circle cx="68.8" cy="330.0" r="0.85"/><circle cx="75.5" cy="329.5" r="0.85"/><circle cx="74.1" cy="331.2" r="0.85"/><circle cx="79.2" cy="330.6" r="0.85"/><circle cx="64.9" cy="329.6" r="0.85"/><circle cx="54.6" cy="331.1" r="0.85"/><circle cx="70.0" cy="331.2" r="0.85"/><circle cx="53.3" cy="331.0" r="0.85"/><circle cx="76.5" cy="331.0" r="0.85"/><circle cx="89.1" cy="278.3" r="0.85"/><circle cx="63.7" cy="310.8" r="0.85"/><circle cx="69.9" cy="294.5" r="0.85"/><circle cx="92.7" cy="263.1" r="0.85"/><circle cx="74.0" cy="295.4" r="0.85"/><circle cx="74.5" cy="299.1" r="0.85"/><circle cx="79.9" cy="284.5" r="0.85"/><circle cx="67.7" cy="305.5" r="0.85"/><circle cx="97.8" cy="276.0" r="0.85"/><circle cx="67.9" cy="308.6" r="0.85"/><circle cx="61.5" cy="315.1" r="0.85"/><circle cx="83.3" cy="279.0" r="0.85"/><circle cx="74.1" cy="289.7" r="0.85"/><circle cx="83.7" cy="276.1" r="0.85"/><circle cx="95.0" cy="287.4" r="0.85"/><circle cx="87.5" cy="293.9" r="0.85"/><circle cx="72.1" cy="296.4" r="0.85"/><circle cx="71.3" cy="307.7" r="0.85"/><circle cx="69.2" cy="300.7" r="0.85"/><circle cx="67.7" cy="304.4" r="0.85"/><circle cx="89.7" cy="289.7" r="0.85"/><circle cx="85.5" cy="269.8" r="0.85"/><circle cx="58.4" cy="316.7" r="0.85"/><circle cx="57.4" cy="318.8" r="0.85"/><circle cx="93.4" cy="289.1" r="0.85"/><circle cx="84.6" cy="293.9" r="0.85"/><circle cx="88.1" cy="290.3" r="0.85"/><circle cx="80.0" cy="282.8" r="0.85"/><circle cx="88.0" cy="275.3" r="0.85"/><circle cx="62.6" cy="313.5" r="0.85"/><circle cx="93.5" cy="247.6" r="0.85"/><circle cx="95.5" cy="247.8" r="0.85"/><circle cx="94.9" cy="247.8" r="0.85"/><circle cx="86.3" cy="247.3" r="0.85"/><circle cx="97.3" cy="247.5" r="0.85"/><circle cx="96.8" cy="246.8" r="0.85"/><circle cx="91.6" cy="247.0" r="0.85"/><circle cx="92.5" cy="247.4" r="0.85"/><circle cx="86.2" cy="247.0" r="0.85"/><circle cx="89.4" cy="247.8" r="0.85"/><circle cx="95.2" cy="246.9" r="0.85"/><circle cx="95.6" cy="246.9" r="0.85"/></g>
<g fill="#e20c0c" stroke="#ffffff" stroke-width="0.14"><circle cx="126.5" cy="328.3" r="0.85"/><circle cx="124.1" cy="322.2" r="0.85"/><circle cx="122.5" cy="312.0" r="0.85"/><circle cx="124.8" cy="312.6" r="0.85"/><circle cx="134.9" cy="318.8" r="0.85"/><circle cx="120.5" cy="326.3" r="0.85"/><circle cx="135.6" cy="320.5" r="0.85"/><circle cx="127.2" cy="306.5" r="0.85"/><circle cx="120.9" cy="298.6" r="0.85"/><circle cx="119.8" cy="313.4" r="0.85"/><circle cx="133.9" cy="316.5" r="0.85"/><circle cx="120.2" cy="316.2" r="0.85"/><circle cx="126.9" cy="314.8" r="0.85"/><circle cx="122.0" cy="303.8" r="0.85"/><circle cx="129.4" cy="320.0" r="0.85"/><circle cx="131.3" cy="310.4" r="0.85"/><circle cx="126.7" cy="310.8" r="0.85"/><circle cx="120.2" cy="319.9" r="0.85"/><circle cx="122.1" cy="321.2" r="0.85"/><circle cx="131.5" cy="312.3" r="0.85"/><circle cx="122.4" cy="302.4" r="0.85"/><circle cx="122.3" cy="321.6" r="0.85"/><circle cx="120.9" cy="302.8" r="0.85"/><circle cx="125.0" cy="325.7" r="0.85"/><circle cx="137.6" cy="329.2" r="0.85"/><circle cx="122.2" cy="328.7" r="0.85"/><circle cx="132.5" cy="329.3" r="0.85"/><circle cx="131.4" cy="314.6" r="0.85"/><circle cx="131.9" cy="331.5" r="0.85"/><circle cx="129.7" cy="323.5" r="0.85"/><circle cx="137.4" cy="323.8" r="0.85"/><circle cx="135.5" cy="322.0" r="0.85"/><circle cx="122.0" cy="296.7" r="0.85"/><circle cx="124.2" cy="329.1" r="0.85"/><circle cx="132.7" cy="319.9" r="0.85"/><circle cx="127.3" cy="325.2" r="0.85"/><circle cx="133.5" cy="317.7" r="0.85"/><circle cx="130.5" cy="307.1" r="0.85"/><circle cx="129.5" cy="329.3" r="0.85"/><circle cx="130.5" cy="330.6" r="0.85"/><circle cx="125.5" cy="317.3" r="0.85"/><circle cx="123.2" cy="316.2" r="0.85"/><circle cx="130.6" cy="314.6" r="0.85"/><circle cx="128.7" cy="319.4" r="0.85"/><circle cx="126.9" cy="313.8" r="0.85"/><circle cx="135.9" cy="326.0" r="0.85"/><circle cx="120.1" cy="317.0" r="0.85"/><circle cx="125.5" cy="325.8" r="0.85"/><circle cx="137.2" cy="320.4" r="0.85"/><circle cx="127.7" cy="326.3" r="0.85"/><circle cx="122.0" cy="308.0" r="0.85"/><circle cx="120.3" cy="331.5" r="0.85"/><circle cx="124.8" cy="331.2" r="0.85"/><circle cx="125.8" cy="325.0" r="0.85"/><circle cx="127.5" cy="313.3" r="0.85"/><circle cx="139.7" cy="327.0" r="0.85"/><circle cx="130.2" cy="331.3" r="0.85"/><circle cx="125.2" cy="329.5" r="0.85"/><circle cx="126.8" cy="317.3" r="0.85"/><circle cx="137.8" cy="325.8" r="0.85"/><circle cx="123.0" cy="315.4" r="0.85"/><circle cx="120.7" cy="328.5" r="0.85"/><circle cx="130.9" cy="322.3" r="0.85"/><circle cx="124.1" cy="299.4" r="0.85"/><circle cx="121.7" cy="320.2" r="0.85"/><circle cx="125.9" cy="323.3" r="0.85"/><circle cx="129.2" cy="324.5" r="0.85"/><circle cx="125.8" cy="330.7" r="0.85"/><circle cx="125.8" cy="310.7" r="0.85"/><circle cx="138.7" cy="326.7" r="0.85"/><circle cx="121.6" cy="297.2" r="0.85"/><circle cx="122.0" cy="302.2" r="0.85"/><circle cx="124.8" cy="305.2" r="0.85"/><circle cx="119.9" cy="315.5" r="0.85"/><circle cx="128.0" cy="324.2" r="0.85"/><circle cx="131.9" cy="322.8" r="0.85"/><circle cx="129.0" cy="327.9" r="0.85"/><circle cx="135.8" cy="319.4" r="0.85"/><circle cx="129.4" cy="307.2" r="0.85"/><circle cx="121.2" cy="329.0" r="0.85"/><circle cx="131.3" cy="319.9" r="0.85"/><circle cx="134.9" cy="324.6" r="0.85"/><circle cx="134.4" cy="331.0" r="0.85"/><circle cx="135.2" cy="315.4" r="0.85"/><circle cx="134.9" cy="316.6" r="0.85"/><circle cx="125.5" cy="300.9" r="0.85"/><circle cx="140.4" cy="329.8" r="0.85"/><circle cx="121.6" cy="301.3" r="0.85"/><circle cx="127.2" cy="309.1" r="0.85"/><circle cx="136.3" cy="319.1" r="0.85"/><circle cx="134.1" cy="329.4" r="0.85"/><circle cx="126.6" cy="328.4" r="0.85"/><circle cx="128.2" cy="320.4" r="0.85"/><circle cx="121.1" cy="327.6" r="0.85"/><circle cx="123.5" cy="305.6" r="0.85"/><circle cx="134.8" cy="319.9" r="0.85"/><circle cx="126.0" cy="303.1" r="0.85"/><circle cx="122.7" cy="329.5" r="0.85"/><circle cx="125.5" cy="306.8" r="0.85"/><circle cx="128.2" cy="320.2" r="0.85"/><circle cx="124.8" cy="324.6" r="0.85"/><circle cx="125.4" cy="306.8" r="0.85"/><circle cx="124.0" cy="329.4" r="0.85"/><circle cx="126.0" cy="329.5" r="0.85"/><circle cx="137.7" cy="330.3" r="0.85"/><circle cx="134.2" cy="330.5" r="0.85"/><circle cx="130.8" cy="328.4" r="0.85"/><circle cx="138.2" cy="326.1" r="0.85"/><circle cx="132.6" cy="326.8" r="0.85"/><circle cx="119.8" cy="320.5" r="0.85"/><circle cx="122.5" cy="326.0" r="0.85"/><circle cx="131.4" cy="327.2" r="0.85"/><circle cx="130.6" cy="318.8" r="0.85"/><circle cx="138.3" cy="325.3" r="0.85"/><circle cx="124.1" cy="312.4" r="0.85"/><circle cx="125.4" cy="321.1" r="0.85"/><circle cx="133.9" cy="328.5" r="0.85"/><circle cx="129.7" cy="328.3" r="0.85"/><circle cx="126.3" cy="328.5" r="0.85"/><circle cx="129.0" cy="311.8" r="0.85"/><circle cx="124.6" cy="313.8" r="0.85"/><circle cx="136.0" cy="326.9" r="0.85"/><circle cx="123.7" cy="327.0" r="0.85"/><circle cx="126.7" cy="325.4" r="0.85"/><circle cx="136.3" cy="328.6" r="0.85"/><circle cx="127.4" cy="326.9" r="0.85"/><circle cx="131.8" cy="318.6" r="0.85"/><circle cx="125.6" cy="315.1" r="0.85"/><circle cx="124.0" cy="306.5" r="0.85"/><circle cx="122.6" cy="306.2" r="0.85"/><circle cx="139.0" cy="328.7" r="0.85"/><circle cx="131.8" cy="312.8" r="0.85"/><circle cx="127.2" cy="324.9" r="0.85"/><circle cx="129.1" cy="314.2" r="0.85"/><circle cx="124.9" cy="323.4" r="0.85"/><circle cx="119.8" cy="322.5" r="0.85"/><circle cx="128.0" cy="330.7" r="0.85"/><circle cx="132.9" cy="326.3" r="0.85"/><circle cx="134.7" cy="314.4" r="0.85"/><circle cx="124.4" cy="314.7" r="0.85"/><circle cx="129.7" cy="324.3" r="0.85"/><circle cx="136.9" cy="318.5" r="0.85"/><circle cx="138.4" cy="324.8" r="0.85"/><circle cx="127.1" cy="329.3" r="0.85"/><circle cx="124.2" cy="300.4" r="0.85"/><circle cx="139.2" cy="329.1" r="0.85"/><circle cx="123.1" cy="329.6" r="0.85"/><circle cx="129.8" cy="314.4" r="0.85"/><circle cx="128.1" cy="320.4" r="0.85"/><circle cx="133.8" cy="329.4" r="0.85"/><circle cx="131.1" cy="320.6" r="0.85"/><circle cx="123.1" cy="326.4" r="0.85"/><circle cx="127.0" cy="322.2" r="0.85"/><circle cx="138.0" cy="331.4" r="0.85"/><circle cx="120.7" cy="321.5" r="0.85"/><circle cx="138.7" cy="324.4" r="0.85"/><circle cx="138.7" cy="327.1" r="0.85"/><circle cx="119.9" cy="303.8" r="0.85"/><circle cx="125.6" cy="310.8" r="0.85"/><circle cx="131.6" cy="325.2" r="0.85"/><circle cx="125.2" cy="328.8" r="0.85"/><circle cx="119.8" cy="305.5" r="0.85"/><circle cx="124.3" cy="330.0" r="0.85"/><circle cx="127.1" cy="320.0" r="0.85"/><circle cx="122.6" cy="322.1" r="0.85"/><circle cx="119.8" cy="305.2" r="0.85"/><circle cx="123.8" cy="300.6" r="0.85"/><circle cx="122.7" cy="326.7" r="0.85"/><circle cx="135.6" cy="323.0" r="0.85"/><circle cx="125.4" cy="302.1" r="0.85"/><circle cx="125.8" cy="300.4" r="0.85"/><circle cx="135.6" cy="317.9" r="0.85"/><circle cx="127.7" cy="326.0" r="0.85"/><circle cx="119.7" cy="298.0" r="0.85"/><circle cx="127.5" cy="310.0" r="0.85"/><circle cx="125.0" cy="326.9" r="0.85"/><circle cx="129.6" cy="322.1" r="0.85"/><circle cx="120.7" cy="327.2" r="0.85"/><circle cx="128.6" cy="331.0" r="0.85"/><circle cx="121.1" cy="316.9" r="0.85"/><circle cx="128.0" cy="306.0" r="0.85"/><circle cx="121.6" cy="305.9" r="0.85"/><circle cx="130.4" cy="307.2" r="0.85"/><circle cx="122.0" cy="300.1" r="0.85"/><circle cx="129.6" cy="305.2" r="0.85"/><circle cx="121.7" cy="302.6" r="0.85"/><circle cx="128.4" cy="326.1" r="0.85"/><circle cx="136.9" cy="330.3" r="0.85"/><circle cx="121.7" cy="330.6" r="0.85"/><circle cx="122.4" cy="302.3" r="0.85"/><circle cx="124.2" cy="308.0" r="0.85"/><circle cx="127.0" cy="303.0" r="0.85"/><circle cx="122.5" cy="319.9" r="0.85"/><circle cx="127.8" cy="320.6" r="0.85"/><circle cx="135.6" cy="331.2" r="0.85"/><circle cx="123.7" cy="314.0" r="0.85"/><circle cx="132.4" cy="316.1" r="0.85"/><circle cx="132.1" cy="315.6" r="0.85"/><circle cx="137.9" cy="331.2" r="0.85"/><circle cx="136.6" cy="317.7" r="0.85"/><circle cx="124.7" cy="301.3" r="0.85"/><circle cx="121.6" cy="318.9" r="0.85"/><circle cx="122.9" cy="331.5" r="0.85"/><circle cx="120.2" cy="322.9" r="0.85"/><circle cx="135.9" cy="324.1" r="0.85"/><circle cx="137.0" cy="319.1" r="0.85"/><circle cx="136.4" cy="322.5" r="0.85"/><circle cx="127.8" cy="327.9" r="0.85"/><circle cx="126.5" cy="308.0" r="0.85"/><circle cx="130.5" cy="311.6" r="0.85"/><circle cx="131.5" cy="322.6" r="0.85"/><circle cx="134.5" cy="318.3" r="0.85"/><circle cx="125.7" cy="325.0" r="0.85"/><circle cx="120.2" cy="312.4" r="0.85"/><circle cx="123.1" cy="316.9" r="0.85"/><circle cx="130.2" cy="327.6" r="0.85"/><circle cx="128.5" cy="307.2" r="0.85"/><circle cx="129.7" cy="328.3" r="0.85"/><circle cx="129.4" cy="314.0" r="0.85"/><circle cx="121.4" cy="301.2" r="0.85"/><circle cx="122.6" cy="310.0" r="0.85"/><circle cx="121.6" cy="318.4" r="0.85"/><circle cx="131.9" cy="310.2" r="0.85"/><circle cx="123.1" cy="311.5" r="0.85"/><circle cx="134.9" cy="319.8" r="0.85"/><circle cx="120.8" cy="315.9" r="0.85"/><circle cx="135.5" cy="320.1" r="0.85"/><circle cx="128.9" cy="326.6" r="0.85"/><circle cx="122.3" cy="312.0" r="0.85"/><circle cx="132.0" cy="312.2" r="0.85"/><circle cx="122.3" cy="314.6" r="0.85"/><circle cx="133.9" cy="312.9" r="0.85"/><circle cx="124.9" cy="316.0" r="0.85"/><circle cx="124.2" cy="329.5" r="0.85"/><circle cx="135.5" cy="328.1" r="0.85"/><circle cx="125.7" cy="305.2" r="0.85"/><circle cx="132.3" cy="319.8" r="0.85"/><circle cx="126.5" cy="310.3" r="0.85"/><circle cx="132.1" cy="321.6" r="0.85"/><circle cx="125.4" cy="329.8" r="0.85"/><circle cx="130.3" cy="331.1" r="0.85"/><circle cx="123.3" cy="312.7" r="0.85"/><circle cx="133.8" cy="321.0" r="0.85"/><circle cx="135.6" cy="331.2" r="0.85"/><circle cx="124.4" cy="305.5" r="0.85"/><circle cx="121.1" cy="310.4" r="0.85"/><circle cx="122.0" cy="301.8" r="0.85"/><circle cx="125.7" cy="299.8" r="0.85"/><circle cx="122.5" cy="311.7" r="0.85"/><circle cx="126.8" cy="309.7" r="0.85"/><circle cx="124.7" cy="321.5" r="0.85"/><circle cx="139.2" cy="328.8" r="0.85"/><circle cx="121.4" cy="323.1" r="0.85"/><circle cx="121.3" cy="314.2" r="0.85"/><circle cx="135.4" cy="317.6" r="0.85"/><circle cx="119.7" cy="328.2" r="0.85"/><circle cx="133.6" cy="314.2" r="0.85"/><circle cx="135.4" cy="315.1" r="0.85"/><circle cx="121.7" cy="319.1" r="0.85"/><circle cx="125.0" cy="320.0" r="0.85"/><circle cx="129.6" cy="326.8" r="0.85"/><circle cx="125.7" cy="314.5" r="0.85"/><circle cx="126.4" cy="323.7" r="0.85"/><circle cx="120.5" cy="297.2" r="0.85"/><circle cx="124.6" cy="318.7" r="0.85"/><circle cx="123.0" cy="316.4" r="0.85"/><circle cx="123.4" cy="308.5" r="0.85"/><circle cx="132.3" cy="317.0" r="0.85"/><circle cx="138.4" cy="322.5" r="0.85"/><circle cx="133.6" cy="326.0" r="0.85"/><circle cx="125.7" cy="317.8" r="0.85"/><circle cx="120.4" cy="307.2" r="0.85"/><circle cx="120.0" cy="321.1" r="0.85"/><circle cx="126.2" cy="308.9" r="0.85"/><circle cx="133.5" cy="327.5" r="0.85"/><circle cx="131.0" cy="324.1" r="0.85"/><circle cx="122.7" cy="328.8" r="0.85"/><circle cx="131.0" cy="330.2" r="0.85"/><circle cx="132.2" cy="316.9" r="0.85"/><circle cx="139.1" cy="330.5" r="0.85"/><circle cx="119.8" cy="301.9" r="0.85"/><circle cx="139.6" cy="327.3" r="0.85"/><circle cx="135.0" cy="323.7" r="0.85"/><circle cx="131.1" cy="310.9" r="0.85"/><circle cx="121.2" cy="304.3" r="0.85"/><circle cx="130.2" cy="325.4" r="0.85"/><circle cx="137.9" cy="328.6" r="0.85"/><circle cx="121.3" cy="306.5" r="0.85"/><circle cx="132.2" cy="330.8" r="0.85"/><circle cx="122.2" cy="312.5" r="0.85"/><circle cx="128.4" cy="323.8" r="0.85"/><circle cx="121.3" cy="309.8" r="0.85"/><circle cx="126.7" cy="327.9" r="0.85"/><circle cx="119.8" cy="319.0" r="0.85"/><circle cx="136.7" cy="321.8" r="0.85"/><circle cx="121.6" cy="325.7" r="0.85"/><circle cx="127.1" cy="309.6" r="0.85"/><circle cx="127.8" cy="327.8" r="0.85"/><circle cx="125.8" cy="303.1" r="0.85"/><circle cx="122.5" cy="312.5" r="0.85"/><circle cx="121.4" cy="317.3" r="0.85"/><circle cx="134.2" cy="320.0" r="0.85"/><circle cx="134.3" cy="329.4" r="0.85"/><circle cx="131.8" cy="328.4" r="0.85"/><circle cx="122.7" cy="314.6" r="0.85"/><circle cx="124.4" cy="302.8" r="0.85"/><circle cx="132.3" cy="315.8" r="0.85"/><circle cx="129.0" cy="330.4" r="0.85"/><circle cx="123.0" cy="320.4" r="0.85"/><circle cx="126.6" cy="327.4" r="0.85"/><circle cx="130.8" cy="310.9" r="0.85"/><circle cx="130.2" cy="307.5" r="0.85"/><circle cx="126.4" cy="302.8" r="0.85"/><circle cx="120.1" cy="329.0" r="0.85"/><circle cx="120.7" cy="312.6" r="0.85"/><circle cx="131.9" cy="325.9" r="0.85"/><circle cx="125.6" cy="323.1" r="0.85"/><circle cx="121.8" cy="328.4" r="0.85"/><circle cx="129.6" cy="321.8" r="0.85"/><circle cx="133.8" cy="328.7" r="0.85"/><circle cx="128.2" cy="330.3" r="0.85"/><circle cx="138.8" cy="331.0" r="0.85"/><circle cx="138.0" cy="328.6" r="0.85"/><circle cx="119.7" cy="323.1" r="0.85"/><circle cx="130.2" cy="321.2" r="0.85"/><circle cx="121.5" cy="314.4" r="0.85"/><circle cx="126.8" cy="323.8" r="0.85"/><circle cx="126.4" cy="320.9" r="0.85"/><circle cx="122.2" cy="317.2" r="0.85"/><circle cx="134.3" cy="326.1" r="0.85"/><circle cx="131.5" cy="323.6" r="0.85"/><circle cx="127.5" cy="319.6" r="0.85"/><circle cx="119.9" cy="315.7" r="0.85"/><circle cx="132.6" cy="327.5" r="0.85"/><circle cx="136.6" cy="322.6" r="0.85"/><circle cx="139.7" cy="329.9" r="0.85"/><circle cx="122.3" cy="297.3" r="0.85"/><circle cx="133.1" cy="322.8" r="0.85"/><circle cx="134.5" cy="329.1" r="0.85"/><circle cx="124.8" cy="325.4" r="0.85"/><circle cx="140.4" cy="329.5" r="0.85"/><circle cx="137.0" cy="327.6" r="0.85"/><circle cx="123.8" cy="305.7" r="0.85"/><circle cx="129.3" cy="311.0" r="0.85"/><circle cx="129.7" cy="328.8" r="0.85"/><circle cx="128.4" cy="304.9" r="0.85"/><circle cx="124.8" cy="326.6" r="0.85"/><circle cx="137.2" cy="324.7" r="0.85"/><circle cx="129.2" cy="312.2" r="0.85"/><circle cx="121.0" cy="311.8" r="0.85"/><circle cx="122.0" cy="302.8" r="0.85"/><circle cx="129.2" cy="320.6" r="0.85"/><circle cx="125.6" cy="330.1" r="0.85"/><circle cx="122.4" cy="313.8" r="0.85"/><circle cx="120.6" cy="309.0" r="0.85"/><circle cx="126.2" cy="330.0" r="0.85"/><circle cx="120.4" cy="312.1" r="0.85"/><circle cx="139.1" cy="324.7" r="0.85"/><circle cx="123.6" cy="308.2" r="0.85"/><circle cx="122.9" cy="311.2" r="0.85"/><circle cx="133.8" cy="318.8" r="0.85"/><circle cx="124.6" cy="317.0" r="0.85"/><circle cx="127.2" cy="312.3" r="0.85"/><circle cx="120.6" cy="312.7" r="0.85"/><circle cx="133.4" cy="321.7" r="0.85"/><circle cx="131.9" cy="323.7" r="0.85"/><circle cx="140.6" cy="330.7" r="0.85"/><circle cx="133.4" cy="319.1" r="0.85"/><circle cx="122.0" cy="325.4" r="0.85"/><circle cx="131.2" cy="330.2" r="0.85"/><circle cx="130.5" cy="312.5" r="0.85"/><circle cx="123.4" cy="318.6" r="0.85"/><circle cx="127.4" cy="327.4" r="0.85"/><circle cx="127.2" cy="308.1" r="0.85"/><circle cx="121.9" cy="301.2" r="0.85"/><circle cx="120.8" cy="326.9" r="0.85"/><circle cx="124.3" cy="318.5" r="0.85"/><circle cx="125.0" cy="307.6" r="0.85"/><circle cx="139.4" cy="325.5" r="0.85"/><circle cx="126.5" cy="306.9" r="0.85"/><circle cx="132.8" cy="330.2" r="0.85"/><circle cx="120.9" cy="327.6" r="0.85"/><circle cx="130.0" cy="318.8" r="0.85"/><circle cx="137.8" cy="323.6" r="0.85"/><circle cx="122.4" cy="314.9" r="0.85"/><circle cx="131.6" cy="329.4" r="0.85"/><circle cx="134.2" cy="330.3" r="0.85"/><circle cx="129.1" cy="314.6" r="0.85"/><circle cx="121.4" cy="328.1" r="0.85"/><circle cx="123.6" cy="325.5" r="0.85"/><circle cx="131.5" cy="330.1" r="0.85"/><circle cx="121.6" cy="319.5" r="0.85"/><circle cx="127.6" cy="306.9" r="0.85"/><circle cx="124.2" cy="321.1" r="0.85"/><circle cx="131.2" cy="318.5" r="0.85"/><circle cx="134.1" cy="319.4" r="0.85"/><circle cx="124.7" cy="315.9" r="0.85"/><circle cx="132.8" cy="320.1" r="0.85"/><circle cx="120.3" cy="321.0" r="0.85"/><circle cx="129.8" cy="324.4" r="0.85"/><circle cx="134.9" cy="316.9" r="0.85"/><circle cx="128.0" cy="325.7" r="0.85"/><circle cx="131.3" cy="323.4" r="0.85"/><circle cx="129.1" cy="315.3" r="0.85"/><circle cx="122.3" cy="329.8" r="0.85"/><circle cx="124.5" cy="330.4" r="0.85"/><circle cx="122.0" cy="319.7" r="0.85"/><circle cx="129.3" cy="308.5" r="0.85"/><circle cx="129.1" cy="324.6" r="0.85"/><circle cx="131.0" cy="320.1" r="0.85"/><circle cx="135.2" cy="321.0" r="0.85"/><circle cx="128.0" cy="316.1" r="0.85"/><circle cx="139.4" cy="326.2" r="0.85"/><circle cx="121.1" cy="301.9" r="0.85"/><circle cx="135.2" cy="328.8" r="0.85"/><circle cx="123.9" cy="323.0" r="0.85"/><circle cx="135.8" cy="330.1" r="0.85"/><circle cx="120.0" cy="316.2" r="0.85"/><circle cx="132.3" cy="323.9" r="0.85"/><circle cx="129.4" cy="310.9" r="0.85"/><circle cx="121.6" cy="309.0" r="0.85"/><circle cx="133.9" cy="324.0" r="0.85"/><circle cx="127.1" cy="307.4" r="0.85"/><circle cx="139.5" cy="329.5" r="0.85"/><circle cx="132.3" cy="314.5" r="0.85"/><circle cx="125.8" cy="306.8" r="0.85"/><circle cx="121.4" cy="302.6" r="0.85"/><circle cx="122.5" cy="320.4" r="0.85"/><circle cx="128.9" cy="309.1" r="0.85"/><circle cx="130.7" cy="305.9" r="0.85"/><circle cx="134.3" cy="331.0" r="0.85"/><circle cx="123.9" cy="321.0" r="0.85"/><circle cx="123.7" cy="326.5" r="0.85"/><circle cx="129.8" cy="330.9" r="0.85"/><circle cx="121.5" cy="307.8" r="0.85"/><circle cx="129.4" cy="315.7" r="0.85"/><circle cx="121.5" cy="300.5" r="0.85"/><circle cx="133.4" cy="313.4" r="0.85"/><circle cx="129.3" cy="328.3" r="0.85"/><circle cx="123.7" cy="317.6" r="0.85"/><circle cx="121.2" cy="317.5" r="0.85"/><circle cx="129.4" cy="316.1" r="0.85"/><circle cx="133.6" cy="321.0" r="0.85"/><circle cx="134.9" cy="324.3" r="0.85"/><circle cx="121.9" cy="317.6" r="0.85"/><circle cx="133.7" cy="315.3" r="0.85"/><circle cx="120.4" cy="319.9" r="0.85"/><circle cx="136.5" cy="326.6" r="0.85"/><circle cx="127.1" cy="305.4" r="0.85"/><circle cx="131.0" cy="311.2" r="0.85"/><circle cx="127.9" cy="331.2" r="0.85"/><circle cx="124.6" cy="329.1" r="0.85"/><circle cx="121.7" cy="315.4" r="0.85"/><circle cx="124.8" cy="316.2" r="0.85"/><circle cx="138.2" cy="323.9" r="0.85"/><circle cx="139.0" cy="327.1" r="0.85"/><circle cx="127.5" cy="319.8" r="0.85"/><circle cx="134.2" cy="325.1" r="0.85"/><circle cx="124.0" cy="302.0" r="0.85"/><circle cx="125.4" cy="331.4" r="0.85"/><circle cx="137.3" cy="330.6" r="0.85"/><circle cx="138.4" cy="329.0" r="0.85"/><circle cx="140.2" cy="330.7" r="0.85"/><circle cx="127.6" cy="317.0" r="0.85"/><circle cx="139.7" cy="329.9" r="0.85"/><circle cx="123.6" cy="313.8" r="0.85"/><circle cx="133.8" cy="318.8" r="0.85"/><circle cx="139.0" cy="326.2" r="0.85"/><circle cx="131.3" cy="307.2" r="0.85"/><circle cx="129.7" cy="311.6" r="0.85"/><circle cx="132.6" cy="313.6" r="0.85"/><circle cx="126.5" cy="313.6" r="0.85"/><circle cx="130.3" cy="315.5" r="0.85"/><circle cx="133.3" cy="319.1" r="0.85"/><circle cx="125.1" cy="301.9" r="0.85"/><circle cx="136.2" cy="318.0" r="0.85"/><circle cx="138.2" cy="324.3" r="0.85"/><circle cx="122.7" cy="325.4" r="0.85"/><circle cx="133.0" cy="312.0" r="0.85"/><circle cx="127.1" cy="326.4" r="0.85"/><circle cx="130.7" cy="309.0" r="0.85"/><circle cx="131.3" cy="312.9" r="0.85"/><circle cx="129.2" cy="307.9" r="0.85"/><circle cx="128.5" cy="318.0" r="0.85"/><circle cx="121.1" cy="312.6" r="0.85"/><circle cx="129.3" cy="321.8" r="0.85"/><circle cx="137.7" cy="322.1" r="0.85"/><circle cx="128.5" cy="306.9" r="0.85"/><circle cx="126.5" cy="303.0" r="0.85"/><circle cx="122.3" cy="326.2" r="0.85"/><circle cx="129.8" cy="323.6" r="0.85"/><circle cx="127.6" cy="324.4" r="0.85"/><circle cx="136.2" cy="327.0" r="0.85"/><circle cx="134.0" cy="317.8" r="0.85"/><circle cx="137.2" cy="323.1" r="0.85"/><circle cx="131.9" cy="320.1" r="0.85"/><circle cx="125.2" cy="327.5" r="0.85"/><circle cx="124.9" cy="311.4" r="0.85"/><circle cx="135.5" cy="321.3" r="0.85"/><circle cx="121.0" cy="320.9" r="0.85"/><circle cx="122.2" cy="323.3" r="0.85"/><circle cx="125.2" cy="319.8" r="0.85"/><circle cx="126.6" cy="328.0" r="0.85"/><circle cx="132.5" cy="324.3" r="0.85"/><circle cx="120.2" cy="323.7" r="0.85"/><circle cx="119.8" cy="302.8" r="0.85"/><circle cx="131.3" cy="319.4" r="0.85"/><circle cx="124.9" cy="313.9" r="0.85"/><circle cx="122.5" cy="326.8" r="0.85"/><circle cx="130.7" cy="305.3" r="0.85"/><circle cx="133.0" cy="328.9" r="0.85"/><circle cx="132.9" cy="321.7" r="0.85"/><circle cx="135.6" cy="326.8" r="0.85"/><circle cx="126.4" cy="315.8" r="0.85"/><circle cx="131.4" cy="309.8" r="0.85"/><circle cx="122.3" cy="326.1" r="0.85"/><circle cx="137.9" cy="323.8" r="0.85"/><circle cx="128.5" cy="325.4" r="0.85"/><circle cx="129.0" cy="318.1" r="0.85"/><circle cx="126.3" cy="320.3" r="0.85"/><circle cx="133.5" cy="328.0" r="0.85"/><circle cx="130.6" cy="317.0" r="0.85"/><circle cx="121.4" cy="331.1" r="0.85"/><circle cx="134.4" cy="318.8" r="0.85"/><circle cx="120.1" cy="324.2" r="0.85"/><circle cx="130.3" cy="308.3" r="0.85"/><circle cx="121.9" cy="324.4" r="0.85"/><circle cx="137.0" cy="329.5" r="0.85"/><circle cx="137.8" cy="319.8" r="0.85"/><circle cx="133.3" cy="328.1" r="0.85"/><circle cx="128.2" cy="330.1" r="0.85"/><circle cx="120.4" cy="315.8" r="0.85"/><circle cx="136.8" cy="322.7" r="0.85"/><circle cx="124.0" cy="324.3" r="0.85"/><circle cx="127.8" cy="307.8" r="0.85"/><circle cx="133.9" cy="311.7" r="0.85"/><circle cx="120.2" cy="328.6" r="0.85"/><circle cx="120.7" cy="312.0" r="0.85"/><circle cx="134.9" cy="329.3" r="0.85"/><circle cx="121.5" cy="308.7" r="0.85"/><circle cx="136.0" cy="330.6" r="0.85"/><circle cx="131.4" cy="308.1" r="0.85"/><circle cx="138.8" cy="328.1" r="0.85"/><circle cx="138.2" cy="327.2" r="0.85"/><circle cx="132.3" cy="330.5" r="0.85"/><circle cx="130.5" cy="326.4" r="0.85"/><circle cx="120.7" cy="314.6" r="0.85"/><circle cx="120.5" cy="331.1" r="0.85"/><circle cx="139.2" cy="324.8" r="0.85"/><circle cx="136.6" cy="328.6" r="0.85"/><circle cx="122.9" cy="318.9" r="0.85"/><circle cx="126.2" cy="322.7" r="0.85"/><circle cx="123.5" cy="325.4" r="0.85"/><circle cx="122.9" cy="314.0" r="0.85"/><circle cx="121.2" cy="313.0" r="0.85"/><circle cx="132.7" cy="322.3" r="0.85"/><circle cx="124.1" cy="324.8" r="0.85"/><circle cx="124.8" cy="306.0" r="0.85"/><circle cx="133.4" cy="318.8" r="0.85"/><circle cx="134.4" cy="325.2" r="0.85"/><circle cx="141.3" cy="308.9" r="0.85"/><circle cx="136.3" cy="305.1" r="0.85"/><circle cx="128.6" cy="290.6" r="0.85"/><circle cx="145.1" cy="323.8" r="0.85"/><circle cx="129.3" cy="288.5" r="0.85"/><circle cx="135.1" cy="312.2" r="0.85"/><circle cx="143.6" cy="326.3" r="0.85"/><circle cx="138.2" cy="308.9" r="0.85"/><circle cx="121.4" cy="294.9" r="0.85"/><circle cx="125.3" cy="274.7" r="0.85"/><circle cx="142.6" cy="321.2" r="0.85"/><circle cx="140.4" cy="329.2" r="0.85"/><circle cx="134.6" cy="302.3" r="0.85"/><circle cx="128.1" cy="299.3" r="0.85"/><circle cx="140.4" cy="319.0" r="0.85"/><circle cx="133.5" cy="295.4" r="0.85"/><circle cx="137.3" cy="317.0" r="0.85"/><circle cx="137.3" cy="314.9" r="0.85"/><circle cx="142.3" cy="315.7" r="0.85"/><circle cx="143.5" cy="315.7" r="0.85"/><circle cx="137.7" cy="312.5" r="0.85"/><circle cx="124.7" cy="278.6" r="0.85"/><circle cx="122.9" cy="281.7" r="0.85"/><circle cx="140.5" cy="310.0" r="0.85"/><circle cx="137.3" cy="302.4" r="0.85"/><circle cx="137.3" cy="313.4" r="0.85"/><circle cx="124.2" cy="291.4" r="0.85"/><circle cx="143.1" cy="329.5" r="0.85"/><circle cx="141.0" cy="327.2" r="0.85"/><circle cx="125.1" cy="282.9" r="0.85"/><circle cx="137.5" cy="317.0" r="0.85"/><circle cx="139.5" cy="319.8" r="0.85"/><circle cx="126.0" cy="298.5" r="0.85"/><circle cx="143.3" cy="324.9" r="0.85"/><circle cx="132.5" cy="298.1" r="0.85"/><circle cx="139.8" cy="319.5" r="0.85"/><circle cx="143.8" cy="329.3" r="0.85"/><circle cx="135.9" cy="312.8" r="0.85"/><circle cx="122.0" cy="279.6" r="0.85"/><circle cx="139.2" cy="309.8" r="0.85"/><circle cx="143.9" cy="327.3" r="0.85"/><circle cx="133.9" cy="303.5" r="0.85"/><circle cx="140.5" cy="327.4" r="0.85"/><circle cx="122.7" cy="291.1" r="0.85"/><circle cx="133.5" cy="290.9" r="0.85"/><circle cx="129.9" cy="292.3" r="0.85"/><circle cx="146.0" cy="326.0" r="0.85"/><circle cx="141.5" cy="316.5" r="0.85"/><circle cx="140.2" cy="312.5" r="0.85"/><circle cx="136.9" cy="316.0" r="0.85"/><circle cx="123.6" cy="290.0" r="0.85"/><circle cx="145.7" cy="322.1" r="0.85"/><circle cx="131.8" cy="288.3" r="0.85"/><circle cx="133.2" cy="305.4" r="0.85"/><circle cx="136.2" cy="311.6" r="0.85"/><circle cx="126.6" cy="285.2" r="0.85"/><circle cx="134.8" cy="301.3" r="0.85"/><circle cx="122.0" cy="291.2" r="0.85"/><circle cx="140.5" cy="328.8" r="0.85"/><circle cx="120.8" cy="282.9" r="0.85"/><circle cx="129.2" cy="300.3" r="0.85"/><circle cx="146.1" cy="324.5" r="0.85"/><circle cx="142.3" cy="313.7" r="0.85"/><circle cx="130.4" cy="288.6" r="0.85"/><circle cx="140.6" cy="329.3" r="0.85"/><circle cx="139.9" cy="323.6" r="0.85"/><circle cx="125.3" cy="287.8" r="0.85"/><circle cx="127.1" cy="299.1" r="0.85"/><circle cx="141.1" cy="327.5" r="0.85"/><circle cx="140.7" cy="323.6" r="0.85"/><circle cx="143.8" cy="319.8" r="0.85"/><circle cx="142.3" cy="324.3" r="0.85"/><circle cx="133.5" cy="302.2" r="0.85"/><circle cx="135.5" cy="312.3" r="0.85"/><circle cx="128.2" cy="301.9" r="0.85"/><circle cx="130.9" cy="289.2" r="0.85"/><circle cx="123.0" cy="292.5" r="0.85"/><circle cx="139.0" cy="305.5" r="0.85"/><circle cx="141.4" cy="313.5" r="0.85"/><circle cx="144.4" cy="329.3" r="0.85"/><circle cx="121.6" cy="290.7" r="0.85"/><circle cx="140.9" cy="312.3" r="0.85"/><circle cx="123.7" cy="290.3" r="0.85"/><circle cx="139.4" cy="322.2" r="0.85"/><circle cx="137.6" cy="316.9" r="0.85"/><circle cx="127.4" cy="289.8" r="0.85"/><circle cx="131.3" cy="296.0" r="0.85"/><circle cx="144.3" cy="325.9" r="0.85"/><circle cx="124.1" cy="273.1" r="0.85"/><circle cx="139.6" cy="316.6" r="0.85"/><circle cx="140.6" cy="323.6" r="0.85"/><circle cx="123.7" cy="292.6" r="0.85"/><circle cx="141.0" cy="326.2" r="0.85"/><circle cx="126.7" cy="286.4" r="0.85"/><circle cx="147.7" cy="331.5" r="0.85"/><circle cx="143.0" cy="329.0" r="0.85"/><circle cx="138.6" cy="312.5" r="0.85"/><circle cx="135.7" cy="304.0" r="0.85"/><circle cx="140.2" cy="322.4" r="0.85"/><circle cx="146.0" cy="329.7" r="0.85"/><circle cx="127.9" cy="300.5" r="0.85"/><circle cx="146.4" cy="325.3" r="0.85"/><circle cx="137.3" cy="315.6" r="0.85"/><circle cx="141.0" cy="331.1" r="0.85"/><circle cx="142.8" cy="312.4" r="0.85"/><circle cx="131.0" cy="284.6" r="0.85"/><circle cx="139.7" cy="326.2" r="0.85"/><circle cx="132.6" cy="301.0" r="0.85"/><circle cx="127.5" cy="282.9" r="0.85"/><circle cx="124.7" cy="293.8" r="0.85"/><circle cx="137.4" cy="301.4" r="0.85"/><circle cx="139.8" cy="314.4" r="0.85"/><circle cx="137.1" cy="298.3" r="0.85"/><circle cx="124.2" cy="287.2" r="0.85"/><circle cx="134.2" cy="309.6" r="0.85"/><circle cx="142.6" cy="316.4" r="0.85"/><circle cx="129.8" cy="302.1" r="0.85"/><circle cx="125.3" cy="296.3" r="0.85"/><circle cx="142.3" cy="322.6" r="0.85"/><circle cx="135.5" cy="301.8" r="0.85"/><circle cx="135.7" cy="306.5" r="0.85"/><circle cx="126.4" cy="287.9" r="0.85"/><circle cx="141.5" cy="327.2" r="0.85"/><circle cx="137.4" cy="311.4" r="0.85"/><circle cx="137.6" cy="313.6" r="0.85"/><circle cx="144.7" cy="328.5" r="0.85"/><circle cx="133.9" cy="296.3" r="0.85"/><circle cx="142.7" cy="320.0" r="0.85"/><circle cx="141.9" cy="328.5" r="0.85"/><circle cx="128.2" cy="295.9" r="0.85"/><circle cx="129.3" cy="295.3" r="0.85"/><circle cx="128.5" cy="280.8" r="0.85"/><circle cx="132.1" cy="299.8" r="0.85"/><circle cx="120.1" cy="281.1" r="0.85"/><circle cx="135.8" cy="301.7" r="0.85"/><circle cx="136.5" cy="315.1" r="0.85"/><circle cx="129.3" cy="294.1" r="0.85"/><circle cx="145.0" cy="327.7" r="0.85"/><circle cx="128.5" cy="291.8" r="0.85"/><circle cx="141.2" cy="315.7" r="0.85"/><circle cx="124.7" cy="289.1" r="0.85"/><circle cx="141.1" cy="319.4" r="0.85"/><circle cx="129.7" cy="300.6" r="0.85"/><circle cx="139.9" cy="305.8" r="0.85"/><circle cx="126.5" cy="295.8" r="0.85"/><circle cx="122.6" cy="285.4" r="0.85"/><circle cx="146.4" cy="331.3" r="0.85"/><circle cx="137.2" cy="306.0" r="0.85"/><circle cx="129.8" cy="298.6" r="0.85"/><circle cx="139.6" cy="316.5" r="0.85"/><circle cx="123.8" cy="282.2" r="0.85"/><circle cx="143.7" cy="327.3" r="0.85"/><circle cx="146.4" cy="326.1" r="0.85"/><circle cx="139.9" cy="316.6" r="0.85"/><circle cx="134.9" cy="312.2" r="0.85"/><circle cx="122.5" cy="280.7" r="0.85"/><circle cx="132.4" cy="303.5" r="0.85"/><circle cx="121.8" cy="294.6" r="0.85"/><circle cx="125.1" cy="277.8" r="0.85"/><circle cx="142.1" cy="328.3" r="0.85"/><circle cx="134.1" cy="304.7" r="0.85"/><circle cx="135.8" cy="294.8" r="0.85"/><circle cx="135.7" cy="301.6" r="0.85"/><circle cx="145.9" cy="328.7" r="0.85"/><circle cx="139.0" cy="318.2" r="0.85"/><circle cx="119.9" cy="289.2" r="0.85"/><circle cx="126.9" cy="294.9" r="0.85"/><circle cx="141.0" cy="321.8" r="0.85"/><circle cx="123.7" cy="292.2" r="0.85"/><circle cx="121.5" cy="284.7" r="0.85"/><circle cx="137.1" cy="310.1" r="0.85"/><circle cx="143.9" cy="321.2" r="0.85"/><circle cx="137.3" cy="303.2" r="0.85"/><circle cx="145.3" cy="323.1" r="0.85"/><circle cx="139.3" cy="322.2" r="0.85"/><circle cx="138.5" cy="321.0" r="0.85"/><circle cx="136.8" cy="312.3" r="0.85"/><circle cx="133.4" cy="309.0" r="0.85"/><circle cx="140.0" cy="316.0" r="0.85"/><circle cx="121.1" cy="277.0" r="0.85"/><circle cx="133.5" cy="302.4" r="0.85"/><circle cx="121.4" cy="280.3" r="0.85"/><circle cx="127.9" cy="282.2" r="0.85"/><circle cx="145.5" cy="325.0" r="0.85"/><circle cx="138.4" cy="309.6" r="0.85"/><circle cx="126.9" cy="282.8" r="0.85"/><circle cx="136.9" cy="299.2" r="0.85"/><circle cx="145.7" cy="325.9" r="0.85"/><circle cx="141.0" cy="321.4" r="0.85"/><circle cx="129.0" cy="284.1" r="0.85"/><circle cx="143.8" cy="322.5" r="0.85"/><circle cx="141.4" cy="324.3" r="0.85"/><circle cx="140.4" cy="320.1" r="0.85"/><circle cx="126.1" cy="275.3" r="0.85"/><circle cx="136.2" cy="303.9" r="0.85"/><circle cx="142.9" cy="313.2" r="0.85"/><circle cx="133.6" cy="306.2" r="0.85"/><circle cx="139.5" cy="320.5" r="0.85"/><circle cx="134.9" cy="311.2" r="0.85"/><circle cx="132.1" cy="305.3" r="0.85"/><circle cx="145.1" cy="321.4" r="0.85"/><circle cx="132.2" cy="290.5" r="0.85"/><circle cx="144.0" cy="315.4" r="0.85"/><circle cx="134.3" cy="295.3" r="0.85"/><circle cx="122.9" cy="283.7" r="0.85"/><circle cx="143.1" cy="318.4" r="0.85"/><circle cx="130.4" cy="284.6" r="0.85"/><circle cx="124.5" cy="295.7" r="0.85"/><circle cx="139.5" cy="320.5" r="0.85"/><circle cx="133.7" cy="291.6" r="0.85"/><circle cx="149.6" cy="329.8" r="0.85"/><circle cx="153.6" cy="322.6" r="0.85"/><circle cx="148.7" cy="298.6" r="0.85"/><circle cx="145.2" cy="309.8" r="0.85"/><circle cx="150.8" cy="325.9" r="0.85"/><circle cx="150.3" cy="307.3" r="0.85"/><circle cx="150.2" cy="322.4" r="0.85"/><circle cx="142.1" cy="308.4" r="0.85"/><circle cx="151.4" cy="324.0" r="0.85"/><circle cx="154.4" cy="323.3" r="0.85"/><circle cx="154.2" cy="330.6" r="0.85"/><circle cx="139.2" cy="279.8" r="0.85"/><circle cx="133.0" cy="287.4" r="0.85"/><circle cx="153.4" cy="323.3" r="0.85"/><circle cx="156.4" cy="308.7" r="0.85"/><circle cx="150.5" cy="315.3" r="0.85"/><circle cx="158.9" cy="324.1" r="0.85"/><circle cx="153.9" cy="318.1" r="0.85"/><circle cx="146.3" cy="314.8" r="0.85"/><circle cx="150.0" cy="295.1" r="0.85"/><circle cx="156.0" cy="323.3" r="0.85"/><circle cx="150.8" cy="325.2" r="0.85"/><circle cx="150.9" cy="323.5" r="0.85"/><circle cx="140.5" cy="294.1" r="0.85"/><circle cx="153.9" cy="306.4" r="0.85"/><circle cx="148.4" cy="317.6" r="0.85"/><circle cx="155.6" cy="304.8" r="0.85"/><circle cx="150.6" cy="327.1" r="0.85"/><circle cx="151.4" cy="308.9" r="0.85"/><circle cx="147.2" cy="322.8" r="0.85"/><circle cx="148.0" cy="300.3" r="0.85"/><circle cx="153.2" cy="302.8" r="0.85"/><circle cx="153.6" cy="326.5" r="0.85"/><circle cx="145.7" cy="311.2" r="0.85"/><circle cx="138.6" cy="292.2" r="0.85"/><circle cx="151.7" cy="315.9" r="0.85"/><circle cx="153.7" cy="321.2" r="0.85"/><circle cx="155.0" cy="316.0" r="0.85"/><circle cx="148.7" cy="321.8" r="0.85"/><circle cx="153.2" cy="322.8" r="0.85"/><circle cx="152.8" cy="316.0" r="0.85"/><circle cx="125.3" cy="256.1" r="0.85"/><circle cx="152.2" cy="299.6" r="0.85"/><circle cx="147.7" cy="328.2" r="0.85"/><circle cx="154.8" cy="318.7" r="0.85"/><circle cx="152.3" cy="302.6" r="0.85"/><circle cx="137.6" cy="296.3" r="0.85"/><circle cx="146.9" cy="290.8" r="0.85"/><circle cx="156.4" cy="309.9" r="0.85"/><circle cx="148.7" cy="323.0" r="0.85"/><circle cx="139.6" cy="300.8" r="0.85"/><circle cx="147.5" cy="305.5" r="0.85"/><circle cx="147.3" cy="300.8" r="0.85"/><circle cx="158.2" cy="330.8" r="0.85"/><circle cx="149.2" cy="321.4" r="0.85"/><circle cx="152.3" cy="313.6" r="0.85"/><circle cx="148.7" cy="290.5" r="0.85"/><circle cx="136.3" cy="289.8" r="0.85"/><circle cx="136.0" cy="281.4" r="0.85"/><circle cx="140.4" cy="279.4" r="0.85"/><circle cx="151.7" cy="299.6" r="0.85"/><circle cx="155.4" cy="310.1" r="0.85"/><circle cx="137.4" cy="290.3" r="0.85"/><circle cx="141.6" cy="299.3" r="0.85"/><circle cx="128.5" cy="259.8" r="0.85"/><circle cx="145.4" cy="288.0" r="0.85"/><circle cx="154.1" cy="309.2" r="0.85"/><circle cx="137.6" cy="297.2" r="0.85"/><circle cx="155.2" cy="305.1" r="0.85"/><circle cx="142.6" cy="303.0" r="0.85"/><circle cx="147.7" cy="327.6" r="0.85"/><circle cx="146.1" cy="286.5" r="0.85"/><circle cx="141.7" cy="309.2" r="0.85"/><circle cx="134.6" cy="275.1" r="0.85"/><circle cx="152.2" cy="314.9" r="0.85"/><circle cx="163.3" cy="329.7" r="0.85"/><circle cx="143.6" cy="330.5" r="0.85"/><circle cx="153.6" cy="330.0" r="0.85"/><circle cx="159.3" cy="329.7" r="0.85"/><circle cx="159.3" cy="331.4" r="0.85"/><circle cx="147.3" cy="330.4" r="0.85"/><circle cx="151.3" cy="329.4" r="0.85"/><circle cx="151.4" cy="330.9" r="0.85"/><circle cx="160.0" cy="329.9" r="0.85"/><circle cx="159.8" cy="330.6" r="0.85"/><circle cx="153.0" cy="330.5" r="0.85"/><circle cx="157.7" cy="329.7" r="0.85"/><circle cx="149.8" cy="331.4" r="0.85"/><circle cx="149.5" cy="331.2" r="0.85"/><circle cx="150.8" cy="331.4" r="0.85"/><circle cx="141.7" cy="330.9" r="0.85"/><circle cx="147.2" cy="329.4" r="0.85"/><circle cx="143.7" cy="329.1" r="0.85"/><circle cx="152.7" cy="331.1" r="0.85"/><circle cx="163.5" cy="331.4" r="0.85"/><circle cx="160.1" cy="329.3" r="0.85"/><circle cx="144.8" cy="330.3" r="0.85"/><circle cx="155.8" cy="331.5" r="0.85"/><circle cx="153.6" cy="330.8" r="0.85"/><circle cx="161.5" cy="329.1" r="0.85"/><circle cx="148.2" cy="246.9" r="0.85"/><circle cx="126.1" cy="247.7" r="0.85"/><circle cx="133.5" cy="247.0" r="0.85"/><circle cx="161.4" cy="247.7" r="0.85"/><circle cx="136.4" cy="247.9" r="0.85"/><circle cx="145.4" cy="247.5" r="0.85"/><circle cx="133.4" cy="247.8" r="0.85"/><circle cx="150.9" cy="247.9" r="0.85"/><circle cx="158.2" cy="247.1" r="0.85"/><circle cx="139.0" cy="246.9" r="0.85"/></g>
<rect x="48.30" y="243.50" width="120.90" height="93.10" fill="none" stroke="#111" stroke-width="1.1" />
<line x1="45.40" y1="247.30" x2="48.50" y2="247.30" stroke="#222" stroke-width="0.8" />
<text x="43.00" y="249.68" font-size="6.6" text-anchor="end" fill="#333" stroke="#333" stroke-width="0.16" >≥40</text>
<line x1="45.40" y1="268.90" x2="48.50" y2="268.90" stroke="#222" stroke-width="0.8" />
<text x="43.00" y="271.28" font-size="6.6" text-anchor="end" fill="#333" stroke="#333" stroke-width="0.16" >30</text>
<line x1="45.40" y1="290.20" x2="48.50" y2="290.20" stroke="#222" stroke-width="0.8" />
<text x="43.00" y="292.58" font-size="6.6" text-anchor="end" fill="#333" stroke="#333" stroke-width="0.16" >20</text>
<line x1="45.40" y1="311.40" x2="48.50" y2="311.40" stroke="#222" stroke-width="0.8" />
<text x="43.00" y="313.78" font-size="6.6" text-anchor="end" fill="#333" stroke="#333" stroke-width="0.16" >10</text>
<line x1="45.40" y1="332.80" x2="48.50" y2="332.80" stroke="#222" stroke-width="0.8" />
<text x="43.00" y="335.18" font-size="6.6" text-anchor="end" fill="#333" stroke="#333" stroke-width="0.16" >0</text>
<line x1="54.40" y1="336.60" x2="54.40" y2="339.40" stroke="#222" stroke-width="0.8" />
<text x="55.00" y="348.88" font-size="6.6" text-anchor="middle" fill="#333" stroke="#333" stroke-width="0.16" >≤−3</text>
<line x1="72.60" y1="336.60" x2="72.60" y2="339.40" stroke="#222" stroke-width="0.8" />
<text x="73.20" y="348.88" font-size="6.6" text-anchor="middle" fill="#333" stroke="#333" stroke-width="0.16" >−2</text>
<line x1="90.60" y1="336.60" x2="90.60" y2="339.40" stroke="#222" stroke-width="0.8" />
<text x="91.20" y="348.88" font-size="6.6" text-anchor="middle" fill="#333" stroke="#333" stroke-width="0.16" >−1</text>
<line x1="109.00" y1="336.60" x2="109.00" y2="339.40" stroke="#222" stroke-width="0.8" />
<text x="109.00" y="348.88" font-size="6.6" text-anchor="middle" fill="#333" stroke="#333" stroke-width="0.16" >0</text>
<line x1="126.90" y1="336.60" x2="126.90" y2="339.40" stroke="#222" stroke-width="0.8" />
<text x="126.90" y="348.88" font-size="6.6" text-anchor="middle" fill="#333" stroke="#333" stroke-width="0.16" >1</text>
<line x1="145.00" y1="336.60" x2="145.00" y2="339.40" stroke="#222" stroke-width="0.8" />
<text x="145.00" y="348.88" font-size="6.6" text-anchor="middle" fill="#333" stroke="#333" stroke-width="0.16" >2</text>
<line x1="163.60" y1="336.60" x2="163.60" y2="339.40" stroke="#222" stroke-width="0.8" />
<text x="163.60" y="348.88" font-size="6.6" text-anchor="middle" fill="#333" stroke="#333" stroke-width="0.16" >≥3</text>
<text x="49.60" y="250.42" font-size="7.0" text-anchor="start" fill="#2f55a4" stroke="#2f55a4" stroke-width="0.16" textLength="10.6" lengthAdjust="spacingAndGlyphs" >364</text>
<text x="168.20" y="250.32" font-size="7.0" text-anchor="end" fill="#c8243a" stroke="#c8243a" stroke-width="0.16" textLength="11" lengthAdjust="spacingAndGlyphs" >572</text>
<text x="108.60" y="361.05" font-size="8.2" text-anchor="middle" fill="#333" stroke="#333" stroke-width="0.16" textLength="54.8" lengthAdjust="spacingAndGlyphs" >Log<tspan font-size="5.6" dy="1.8">2</tspan><tspan dy="-1.8"> fold−change</tspan></text>
<text x="108.10" y="371.25" font-size="8.2" text-anchor="middle" fill="#333" stroke="#333" stroke-width="0.16" textLength="78.8" lengthAdjust="spacingAndGlyphs" >(U937, SGF29 KO vs. NTC)</text>
<text transform="translate(24.00,290.85) rotate(-90)" x="0" y="2.95" font-size="8.2" text-anchor="middle" fill="#333" stroke="#333" stroke-width="0.16" textLength="77.1" lengthAdjust="spacingAndGlyphs" >−Log<tspan font-size="5.6" dy="1.8">10</tspan><tspan dy="-1.8"> adjusted </tspan><tspan font-style="italic">P</tspan>−value</text>
<text x="59.00" y="253.62" font-size="4.5" text-anchor="start" fill="#333" stroke="#333" stroke-width="0.16" >CCND2</text>
<text x="68.60" y="257.82" font-size="4.5" text-anchor="start" fill="#333" stroke="#333" stroke-width="0.16" >SATB1 MYC</text>
<text x="79.10" y="271.52" font-size="4.5" text-anchor="start" fill="#333" stroke="#333" stroke-width="0.16" >BMI1</text>
<text x="83.40" y="285.62" font-size="4.5" text-anchor="start" fill="#333" stroke="#333" stroke-width="0.16" >TCF3</text>
<text x="71.70" y="290.62" font-size="4.5" text-anchor="start" fill="#333" stroke="#333" stroke-width="0.16" >BCL11A</text>
<text x="84.40" y="296.92" font-size="4.5" text-anchor="start" fill="#333" stroke="#333" stroke-width="0.16" >IREA</text>
<text x="64.30" y="299.02" font-size="4.5" text-anchor="start" fill="#333" stroke="#333" stroke-width="0.16" >HOXA13</text>
<text x="82.30" y="304.32" font-size="4.5" text-anchor="start" fill="#333" stroke="#333" stroke-width="0.16" >PBX3</text>
<text x="77.00" y="309.22" font-size="4.5" text-anchor="start" fill="#333" stroke="#333" stroke-width="0.16" >CUX1</text>
<text x="76.00" y="312.82" font-size="4.5" text-anchor="start" fill="#333" stroke="#333" stroke-width="0.16" >SOX4</text>
<text x="73.80" y="317.02" font-size="4.5" text-anchor="start" fill="#333" stroke="#333" stroke-width="0.16" >MEF2C</text>
<text x="76.00" y="322.32" font-size="4.5" text-anchor="start" fill="#333" stroke="#333" stroke-width="0.16" >JMJD1C</text>
<text x="53.80" y="326.62" font-size="4.5" text-anchor="start" fill="#333" stroke="#333" stroke-width="0.16" >HOXA11−AS1</text>
<text x="73.80" y="331.82" font-size="4.5" text-anchor="start" fill="#333" stroke="#333" stroke-width="0.16" >ZAT</text>
<text x="131.00" y="260.92" font-size="4.5" text-anchor="start" fill="#333" stroke="#333" stroke-width="0.16" >CDKN1A</text>
<text x="130.00" y="273.62" font-size="4.5" text-anchor="start" fill="#333" stroke="#333" stroke-width="0.16" >CSTA</text>
<text x="136.30" y="284.22" font-size="4.5" text-anchor="start" fill="#333" stroke="#333" stroke-width="0.16" >ITGAM</text>
<text x="145.80" y="315.92" font-size="4.5" text-anchor="start" fill="#333" stroke="#333" stroke-width="0.16" >CSF1R</text>
<text x="180.00" y="237.59" font-size="12" text-anchor="start" fill="#111" stroke="#111" stroke-width="0" font-weight="bold" >H</text>
<line x1="274.40" y1="243.40" x2="274.40" y2="336.60" stroke="#c4c4c4" stroke-width="0.6" />
<line x1="295.80" y1="243.40" x2="295.80" y2="336.60" stroke="#c4c4c4" stroke-width="0.6" />
<line x1="225.20" y1="332.40" x2="345.20" y2="332.40" stroke="#d8d8d8" stroke-width="0.9" />
<g fill="#a4a4a4" stroke="#d0d0d0" stroke-width="0.12"><circle cx="288.3" cy="329.5" r="0.85"/><circle cx="294.5" cy="324.5" r="0.85"/><circle cx="294.2" cy="322.9" r="0.85"/><circle cx="275.7" cy="331.2" r="0.85"/><circle cx="293.5" cy="326.7" r="0.85"/><circle cx="274.6" cy="322.3" r="0.85"/><circle cx="275.2" cy="329.1" r="0.85"/><circle cx="275.7" cy="317.4" r="0.85"/><circle cx="281.2" cy="329.4" r="0.85"/><circle cx="293.1" cy="330.9" r="0.85"/><circle cx="278.4" cy="325.9" r="0.85"/><circle cx="295.0" cy="328.3" r="0.85"/><circle cx="294.1" cy="329.0" r="0.85"/><circle cx="278.5" cy="330.6" r="0.85"/><circle cx="276.0" cy="330.2" r="0.85"/><circle cx="295.6" cy="325.3" r="0.85"/><circle cx="274.6" cy="330.4" r="0.85"/><circle cx="291.0" cy="327.5" r="0.85"/><circle cx="290.2" cy="329.0" r="0.85"/><circle cx="295.0" cy="326.8" r="0.85"/><circle cx="274.6" cy="328.9" r="0.85"/><circle cx="291.5" cy="322.7" r="0.85"/><circle cx="276.2" cy="318.6" r="0.85"/><circle cx="281.0" cy="328.3" r="0.85"/><circle cx="274.7" cy="320.8" r="0.85"/><circle cx="295.2" cy="318.8" r="0.85"/><circle cx="277.0" cy="331.0" r="0.85"/><circle cx="288.2" cy="330.7" r="0.85"/><circle cx="281.5" cy="327.9" r="0.85"/><circle cx="275.4" cy="316.7" r="0.85"/><circle cx="278.7" cy="329.3" r="0.85"/><circle cx="280.5" cy="326.3" r="0.85"/><circle cx="293.7" cy="324.3" r="0.85"/><circle cx="279.5" cy="325.1" r="0.85"/><circle cx="294.7" cy="327.7" r="0.85"/><circle cx="276.6" cy="327.1" r="0.85"/><circle cx="277.4" cy="322.2" r="0.85"/><circle cx="293.7" cy="330.0" r="0.85"/><circle cx="293.0" cy="331.5" r="0.85"/><circle cx="293.6" cy="322.4" r="0.85"/><circle cx="291.3" cy="331.5" r="0.85"/><circle cx="281.0" cy="328.8" r="0.85"/><circle cx="280.9" cy="328.2" r="0.85"/><circle cx="294.2" cy="329.2" r="0.85"/><circle cx="293.0" cy="330.3" r="0.85"/><circle cx="275.2" cy="318.2" r="0.85"/><circle cx="292.0" cy="324.7" r="0.85"/><circle cx="276.9" cy="327.5" r="0.85"/><circle cx="293.6" cy="320.5" r="0.85"/><circle cx="295.5" cy="313.5" r="0.85"/><circle cx="278.3" cy="330.8" r="0.85"/><circle cx="278.3" cy="327.9" r="0.85"/><circle cx="281.3" cy="329.0" r="0.85"/><circle cx="294.2" cy="324.9" r="0.85"/><circle cx="278.0" cy="322.4" r="0.85"/><circle cx="278.7" cy="324.5" r="0.85"/><circle cx="295.0" cy="318.2" r="0.85"/><circle cx="294.4" cy="315.4" r="0.85"/><circle cx="293.9" cy="327.0" r="0.85"/><circle cx="290.3" cy="330.4" r="0.85"/><circle cx="292.1" cy="329.2" r="0.85"/><circle cx="293.5" cy="329.8" r="0.85"/><circle cx="293.4" cy="319.0" r="0.85"/><circle cx="279.0" cy="326.8" r="0.85"/><circle cx="279.8" cy="327.5" r="0.85"/><circle cx="279.7" cy="331.4" r="0.85"/><circle cx="291.1" cy="326.0" r="0.85"/><circle cx="291.8" cy="323.0" r="0.85"/><circle cx="293.9" cy="322.7" r="0.85"/><circle cx="275.1" cy="322.4" r="0.85"/><circle cx="294.5" cy="331.2" r="0.85"/><circle cx="291.0" cy="326.2" r="0.85"/><circle cx="295.4" cy="319.5" r="0.85"/><circle cx="289.4" cy="328.0" r="0.85"/><circle cx="294.1" cy="329.1" r="0.85"/><circle cx="293.0" cy="318.7" r="0.85"/><circle cx="278.4" cy="324.8" r="0.85"/><circle cx="291.4" cy="330.5" r="0.85"/><circle cx="279.2" cy="325.4" r="0.85"/><circle cx="278.0" cy="324.6" r="0.85"/><circle cx="293.0" cy="323.4" r="0.85"/><circle cx="292.7" cy="328.1" r="0.85"/><circle cx="288.2" cy="330.7" r="0.85"/><circle cx="293.9" cy="329.4" r="0.85"/><circle cx="293.1" cy="328.4" r="0.85"/><circle cx="281.3" cy="330.8" r="0.85"/><circle cx="274.9" cy="321.5" r="0.85"/><circle cx="293.2" cy="325.7" r="0.85"/><circle cx="286.4" cy="331.2" r="0.85"/><circle cx="277.3" cy="320.4" r="0.85"/><circle cx="295.5" cy="315.1" r="0.85"/><circle cx="290.9" cy="326.7" r="0.85"/><circle cx="280.0" cy="331.4" r="0.85"/><circle cx="295.5" cy="329.3" r="0.85"/><circle cx="291.1" cy="323.5" r="0.85"/><circle cx="284.2" cy="331.4" r="0.85"/><circle cx="292.8" cy="322.3" r="0.85"/><circle cx="293.5" cy="329.8" r="0.85"/><circle cx="275.9" cy="327.2" r="0.85"/><circle cx="289.0" cy="329.7" r="0.85"/><circle cx="282.4" cy="330.8" r="0.85"/><circle cx="293.5" cy="319.0" r="0.85"/><circle cx="293.9" cy="317.5" r="0.85"/><circle cx="281.8" cy="330.6" r="0.85"/><circle cx="292.7" cy="330.4" r="0.85"/><circle cx="288.6" cy="331.4" r="0.85"/><circle cx="278.1" cy="327.6" r="0.85"/><circle cx="295.5" cy="330.0" r="0.85"/><circle cx="277.3" cy="326.5" r="0.85"/><circle cx="275.2" cy="326.9" r="0.85"/><circle cx="290.5" cy="326.4" r="0.85"/><circle cx="275.4" cy="330.4" r="0.85"/><circle cx="294.8" cy="318.9" r="0.85"/><circle cx="291.2" cy="330.4" r="0.85"/><circle cx="294.7" cy="319.3" r="0.85"/><circle cx="290.9" cy="323.4" r="0.85"/><circle cx="277.1" cy="331.1" r="0.85"/><circle cx="278.8" cy="324.4" r="0.85"/><circle cx="279.6" cy="328.2" r="0.85"/><circle cx="291.4" cy="325.8" r="0.85"/><circle cx="294.7" cy="324.5" r="0.85"/><circle cx="293.4" cy="319.5" r="0.85"/><circle cx="275.4" cy="328.8" r="0.85"/><circle cx="279.5" cy="324.8" r="0.85"/><circle cx="274.9" cy="320.6" r="0.85"/><circle cx="295.0" cy="317.6" r="0.85"/><circle cx="288.9" cy="330.2" r="0.85"/><circle cx="288.9" cy="328.7" r="0.85"/><circle cx="276.4" cy="331.0" r="0.85"/><circle cx="275.4" cy="325.3" r="0.85"/><circle cx="292.0" cy="327.0" r="0.85"/><circle cx="295.4" cy="316.4" r="0.85"/><circle cx="293.8" cy="327.8" r="0.85"/><circle cx="292.6" cy="328.8" r="0.85"/><circle cx="290.0" cy="330.2" r="0.85"/><circle cx="289.7" cy="330.3" r="0.85"/><circle cx="294.9" cy="325.8" r="0.85"/><circle cx="290.1" cy="328.2" r="0.85"/><circle cx="278.2" cy="329.7" r="0.85"/><circle cx="291.6" cy="322.5" r="0.85"/><circle cx="275.7" cy="329.2" r="0.85"/><circle cx="276.6" cy="328.2" r="0.85"/><circle cx="294.7" cy="327.6" r="0.85"/><circle cx="287.9" cy="330.5" r="0.85"/><circle cx="294.7" cy="324.0" r="0.85"/><circle cx="276.8" cy="324.6" r="0.85"/><circle cx="294.6" cy="316.3" r="0.85"/><circle cx="279.9" cy="330.1" r="0.85"/><circle cx="289.5" cy="331.4" r="0.85"/><circle cx="275.9" cy="319.9" r="0.85"/><circle cx="291.3" cy="327.9" r="0.85"/><circle cx="294.7" cy="318.6" r="0.85"/><circle cx="292.1" cy="327.6" r="0.85"/><circle cx="278.4" cy="327.7" r="0.85"/><circle cx="288.7" cy="327.9" r="0.85"/><circle cx="292.2" cy="324.9" r="0.85"/><circle cx="280.1" cy="329.0" r="0.85"/><circle cx="277.7" cy="329.6" r="0.85"/><circle cx="280.4" cy="326.1" r="0.85"/><circle cx="292.7" cy="323.3" r="0.85"/><circle cx="289.0" cy="328.7" r="0.85"/><circle cx="286.5" cy="330.4" r="0.85"/><circle cx="275.6" cy="331.4" r="0.85"/><circle cx="291.2" cy="323.0" r="0.85"/><circle cx="280.0" cy="327.0" r="0.85"/><circle cx="295.4" cy="326.9" r="0.85"/><circle cx="277.7" cy="331.2" r="0.85"/><circle cx="280.0" cy="330.1" r="0.85"/><circle cx="294.4" cy="328.1" r="0.85"/><circle cx="275.1" cy="322.6" r="0.85"/><circle cx="294.7" cy="331.2" r="0.85"/><circle cx="275.0" cy="316.9" r="0.85"/><circle cx="282.0" cy="328.8" r="0.85"/><circle cx="276.7" cy="320.6" r="0.85"/><circle cx="293.0" cy="327.3" r="0.85"/><circle cx="292.8" cy="325.3" r="0.85"/><circle cx="276.4" cy="329.7" r="0.85"/><circle cx="278.6" cy="323.5" r="0.85"/><circle cx="289.5" cy="326.8" r="0.85"/><circle cx="289.2" cy="328.3" r="0.85"/><circle cx="279.4" cy="330.1" r="0.85"/><circle cx="280.7" cy="328.5" r="0.85"/><circle cx="275.1" cy="330.3" r="0.85"/><circle cx="275.0" cy="330.2" r="0.85"/><circle cx="276.5" cy="321.4" r="0.85"/><circle cx="287.3" cy="331.0" r="0.85"/><circle cx="289.4" cy="330.6" r="0.85"/><circle cx="291.4" cy="324.2" r="0.85"/><circle cx="276.5" cy="330.2" r="0.85"/><circle cx="277.3" cy="329.1" r="0.85"/><circle cx="294.9" cy="318.4" r="0.85"/><circle cx="276.2" cy="323.9" r="0.85"/><circle cx="292.9" cy="321.5" r="0.85"/><circle cx="290.9" cy="324.6" r="0.85"/><circle cx="276.0" cy="323.5" r="0.85"/><circle cx="280.7" cy="331.3" r="0.85"/><circle cx="281.3" cy="328.5" r="0.85"/><circle cx="295.1" cy="325.1" r="0.85"/><circle cx="283.0" cy="331.1" r="0.85"/><circle cx="281.6" cy="330.9" r="0.85"/><circle cx="291.6" cy="327.6" r="0.85"/><circle cx="275.2" cy="324.5" r="0.85"/><circle cx="290.8" cy="324.4" r="0.85"/><circle cx="294.8" cy="318.0" r="0.85"/><circle cx="275.0" cy="328.8" r="0.85"/><circle cx="293.0" cy="331.4" r="0.85"/><circle cx="286.6" cy="330.8" r="0.85"/><circle cx="292.0" cy="325.8" r="0.85"/><circle cx="294.2" cy="326.6" r="0.85"/><circle cx="278.5" cy="325.6" r="0.85"/><circle cx="279.7" cy="331.1" r="0.85"/><circle cx="291.1" cy="329.0" r="0.85"/><circle cx="286.8" cy="330.2" r="0.85"/><circle cx="289.5" cy="326.4" r="0.85"/><circle cx="274.9" cy="319.4" r="0.85"/><circle cx="274.9" cy="326.7" r="0.85"/><circle cx="293.0" cy="320.3" r="0.85"/><circle cx="278.0" cy="323.6" r="0.85"/><circle cx="293.5" cy="323.0" r="0.85"/><circle cx="283.4" cy="330.5" r="0.85"/><circle cx="287.3" cy="330.2" r="0.85"/><circle cx="292.9" cy="326.2" r="0.85"/><circle cx="293.9" cy="320.8" r="0.85"/><circle cx="279.1" cy="326.4" r="0.85"/><circle cx="290.6" cy="327.4" r="0.85"/><circle cx="276.4" cy="324.1" r="0.85"/><circle cx="276.4" cy="330.8" r="0.85"/><circle cx="277.6" cy="331.3" r="0.85"/><circle cx="275.1" cy="320.0" r="0.85"/><circle cx="280.3" cy="331.4" r="0.85"/><circle cx="281.8" cy="331.6" r="0.85"/><circle cx="281.4" cy="331.5" r="0.85"/><circle cx="293.9" cy="327.4" r="0.85"/><circle cx="280.1" cy="328.7" r="0.85"/><circle cx="278.0" cy="329.3" r="0.85"/><circle cx="288.7" cy="331.3" r="0.85"/><circle cx="275.6" cy="318.5" r="0.85"/><circle cx="291.2" cy="329.3" r="0.85"/><circle cx="292.3" cy="325.7" r="0.85"/><circle cx="279.9" cy="329.7" r="0.85"/><circle cx="287.3" cy="330.0" r="0.85"/><circle cx="280.1" cy="330.3" r="0.85"/><circle cx="276.0" cy="319.5" r="0.85"/><circle cx="295.2" cy="323.9" r="0.85"/><circle cx="275.3" cy="319.0" r="0.85"/><circle cx="290.3" cy="329.7" r="0.85"/><circle cx="293.0" cy="319.4" r="0.85"/><circle cx="282.1" cy="329.4" r="0.85"/><circle cx="286.7" cy="330.8" r="0.85"/><circle cx="277.1" cy="327.2" r="0.85"/><circle cx="289.9" cy="331.5" r="0.85"/><circle cx="292.5" cy="320.9" r="0.85"/><circle cx="277.1" cy="325.4" r="0.85"/><circle cx="295.6" cy="321.2" r="0.85"/><circle cx="294.9" cy="330.5" r="0.85"/><circle cx="293.0" cy="329.5" r="0.85"/><circle cx="293.0" cy="319.5" r="0.85"/><circle cx="275.2" cy="316.1" r="0.85"/><circle cx="293.9" cy="331.4" r="0.85"/><circle cx="287.5" cy="329.8" r="0.85"/><circle cx="295.5" cy="315.8" r="0.85"/><circle cx="275.0" cy="322.8" r="0.85"/><circle cx="295.2" cy="330.5" r="0.85"/><circle cx="277.6" cy="331.6" r="0.85"/><circle cx="293.7" cy="317.2" r="0.85"/><circle cx="277.5" cy="323.2" r="0.85"/><circle cx="291.6" cy="322.3" r="0.85"/><circle cx="292.9" cy="323.0" r="0.85"/><circle cx="277.6" cy="323.4" r="0.85"/><circle cx="274.6" cy="327.3" r="0.85"/><circle cx="291.2" cy="328.3" r="0.85"/><circle cx="274.8" cy="327.1" r="0.85"/><circle cx="291.7" cy="328.9" r="0.85"/><circle cx="276.1" cy="321.0" r="0.85"/><circle cx="290.5" cy="329.3" r="0.85"/><circle cx="275.2" cy="316.2" r="0.85"/><circle cx="276.0" cy="324.9" r="0.85"/><circle cx="281.6" cy="331.2" r="0.85"/><circle cx="275.7" cy="319.3" r="0.85"/><circle cx="286.3" cy="331.5" r="0.85"/><circle cx="293.8" cy="326.0" r="0.85"/><circle cx="290.8" cy="328.8" r="0.85"/><circle cx="293.6" cy="330.2" r="0.85"/><circle cx="277.0" cy="327.7" r="0.85"/><circle cx="293.0" cy="329.5" r="0.85"/><circle cx="295.2" cy="313.5" r="0.85"/><circle cx="277.9" cy="330.9" r="0.85"/><circle cx="289.9" cy="329.3" r="0.85"/><circle cx="288.5" cy="330.9" r="0.85"/><circle cx="293.5" cy="322.4" r="0.85"/><circle cx="292.2" cy="327.9" r="0.85"/><circle cx="294.8" cy="325.0" r="0.85"/><circle cx="279.1" cy="330.6" r="0.85"/><circle cx="279.0" cy="326.1" r="0.85"/><circle cx="293.7" cy="321.5" r="0.85"/><circle cx="293.7" cy="323.7" r="0.85"/><circle cx="293.9" cy="325.0" r="0.85"/><circle cx="290.4" cy="329.3" r="0.85"/><circle cx="291.0" cy="328.3" r="0.85"/><circle cx="277.9" cy="328.3" r="0.85"/><circle cx="292.2" cy="329.6" r="0.85"/><circle cx="287.4" cy="330.9" r="0.85"/><circle cx="290.7" cy="324.4" r="0.85"/><circle cx="289.6" cy="330.0" r="0.85"/><circle cx="275.1" cy="316.5" r="0.85"/><circle cx="288.5" cy="328.5" r="0.85"/><circle cx="275.6" cy="316.8" r="0.85"/><circle cx="291.8" cy="322.4" r="0.85"/><circle cx="276.0" cy="328.2" r="0.85"/><circle cx="277.1" cy="322.1" r="0.85"/><circle cx="291.2" cy="324.9" r="0.85"/><circle cx="274.8" cy="324.8" r="0.85"/><circle cx="276.8" cy="325.3" r="0.85"/><circle cx="282.1" cy="328.8" r="0.85"/><circle cx="291.1" cy="324.0" r="0.85"/><circle cx="293.0" cy="329.0" r="0.85"/><circle cx="291.5" cy="331.4" r="0.85"/><circle cx="281.8" cy="330.3" r="0.85"/><circle cx="275.6" cy="321.0" r="0.85"/><circle cx="290.7" cy="327.5" r="0.85"/><circle cx="275.2" cy="328.0" r="0.85"/><circle cx="293.9" cy="326.8" r="0.85"/><circle cx="295.2" cy="324.1" r="0.85"/><circle cx="293.1" cy="330.8" r="0.85"/><circle cx="292.7" cy="326.4" r="0.85"/><circle cx="288.9" cy="331.0" r="0.85"/><circle cx="288.4" cy="329.3" r="0.85"/><circle cx="290.0" cy="329.8" r="0.85"/><circle cx="281.5" cy="328.9" r="0.85"/><circle cx="294.4" cy="325.6" r="0.85"/><circle cx="277.4" cy="327.9" r="0.85"/><circle cx="277.6" cy="329.8" r="0.85"/><circle cx="292.0" cy="322.0" r="0.85"/><circle cx="274.9" cy="327.7" r="0.85"/><circle cx="278.4" cy="328.7" r="0.85"/><circle cx="274.7" cy="321.3" r="0.85"/><circle cx="274.6" cy="331.1" r="0.85"/><circle cx="279.2" cy="325.9" r="0.85"/><circle cx="291.8" cy="323.9" r="0.85"/><circle cx="292.6" cy="319.8" r="0.85"/><circle cx="292.8" cy="328.5" r="0.85"/><circle cx="294.1" cy="331.1" r="0.85"/><circle cx="293.5" cy="330.9" r="0.85"/><circle cx="294.6" cy="320.9" r="0.85"/><circle cx="291.6" cy="330.7" r="0.85"/><circle cx="288.9" cy="329.1" r="0.85"/><circle cx="280.1" cy="331.3" r="0.85"/><circle cx="278.3" cy="323.0" r="0.85"/><circle cx="276.9" cy="319.9" r="0.85"/><circle cx="279.1" cy="325.3" r="0.85"/><circle cx="288.2" cy="331.2" r="0.85"/><circle cx="295.7" cy="322.3" r="0.85"/><circle cx="275.9" cy="324.4" r="0.85"/><circle cx="275.5" cy="319.7" r="0.85"/><circle cx="294.3" cy="323.5" r="0.85"/><circle cx="290.2" cy="331.5" r="0.85"/><circle cx="291.7" cy="330.1" r="0.85"/><circle cx="293.8" cy="316.8" r="0.85"/><circle cx="293.3" cy="327.3" r="0.85"/><circle cx="291.6" cy="323.2" r="0.85"/><circle cx="275.0" cy="322.4" r="0.85"/><circle cx="277.0" cy="327.2" r="0.85"/><circle cx="292.8" cy="327.9" r="0.85"/><circle cx="278.4" cy="325.4" r="0.85"/><circle cx="277.0" cy="330.1" r="0.85"/><circle cx="293.9" cy="329.7" r="0.85"/><circle cx="275.4" cy="318.0" r="0.85"/><circle cx="291.8" cy="327.4" r="0.85"/><circle cx="275.9" cy="329.8" r="0.85"/><circle cx="289.7" cy="325.6" r="0.85"/><circle cx="295.2" cy="315.6" r="0.85"/><circle cx="294.0" cy="327.9" r="0.85"/><circle cx="295.0" cy="328.1" r="0.85"/><circle cx="295.1" cy="328.0" r="0.85"/><circle cx="275.3" cy="316.8" r="0.85"/><circle cx="278.4" cy="326.8" r="0.85"/><circle cx="274.8" cy="322.6" r="0.85"/><circle cx="294.3" cy="325.7" r="0.85"/><circle cx="295.6" cy="327.9" r="0.85"/><circle cx="294.8" cy="327.6" r="0.85"/><circle cx="291.0" cy="328.1" r="0.85"/><circle cx="293.1" cy="327.5" r="0.85"/><circle cx="279.4" cy="329.2" r="0.85"/><circle cx="275.8" cy="321.6" r="0.85"/><circle cx="294.4" cy="330.1" r="0.85"/><circle cx="276.4" cy="324.0" r="0.85"/><circle cx="276.2" cy="331.1" r="0.85"/><circle cx="277.2" cy="323.4" r="0.85"/><circle cx="295.6" cy="313.9" r="0.85"/><circle cx="279.0" cy="327.8" r="0.85"/><circle cx="292.6" cy="325.1" r="0.85"/><circle cx="291.5" cy="325.0" r="0.85"/><circle cx="292.0" cy="330.1" r="0.85"/><circle cx="279.9" cy="326.1" r="0.85"/><circle cx="276.6" cy="319.9" r="0.85"/><circle cx="295.6" cy="324.4" r="0.85"/><circle cx="279.5" cy="328.1" r="0.85"/><circle cx="274.8" cy="317.6" r="0.85"/><circle cx="293.0" cy="327.4" r="0.85"/><circle cx="275.3" cy="325.7" r="0.85"/><circle cx="276.0" cy="330.5" r="0.85"/><circle cx="274.8" cy="330.6" r="0.85"/><circle cx="292.6" cy="327.1" r="0.85"/><circle cx="295.2" cy="317.5" r="0.85"/><circle cx="294.7" cy="324.2" r="0.85"/><circle cx="275.9" cy="331.5" r="0.85"/><circle cx="293.7" cy="319.7" r="0.85"/><circle cx="292.1" cy="324.2" r="0.85"/><circle cx="279.7" cy="331.2" r="0.85"/><circle cx="294.9" cy="316.4" r="0.85"/><circle cx="294.3" cy="323.7" r="0.85"/><circle cx="274.6" cy="329.9" r="0.85"/><circle cx="276.4" cy="318.7" r="0.85"/><circle cx="277.5" cy="329.2" r="0.85"/><circle cx="294.1" cy="319.6" r="0.85"/><circle cx="278.5" cy="327.4" r="0.85"/><circle cx="282.8" cy="330.0" r="0.85"/><circle cx="277.8" cy="322.3" r="0.85"/><circle cx="275.3" cy="329.9" r="0.85"/><circle cx="292.4" cy="324.6" r="0.85"/><circle cx="244.4" cy="331.2" r="0.85"/><circle cx="245.9" cy="331.9" r="0.85"/><circle cx="292.0" cy="332.5" r="0.85"/><circle cx="326.6" cy="331.1" r="0.85"/><circle cx="289.3" cy="331.9" r="0.85"/><circle cx="273.9" cy="331.1" r="0.85"/><circle cx="266.5" cy="331.3" r="0.85"/><circle cx="335.9" cy="332.4" r="0.85"/><circle cx="274.0" cy="331.5" r="0.85"/><circle cx="333.9" cy="332.0" r="0.85"/><circle cx="332.2" cy="331.8" r="0.85"/><circle cx="265.7" cy="331.7" r="0.85"/><circle cx="228.7" cy="331.5" r="0.85"/><circle cx="238.2" cy="331.6" r="0.85"/><circle cx="312.0" cy="332.0" r="0.85"/><circle cx="291.4" cy="331.6" r="0.85"/><circle cx="336.4" cy="331.9" r="0.85"/><circle cx="314.0" cy="331.9" r="0.85"/><circle cx="336.6" cy="331.6" r="0.85"/><circle cx="298.5" cy="331.7" r="0.85"/><circle cx="312.4" cy="331.9" r="0.85"/><circle cx="254.2" cy="332.0" r="0.85"/><circle cx="309.0" cy="331.6" r="0.85"/><circle cx="237.8" cy="331.4" r="0.85"/><circle cx="323.1" cy="331.0" r="0.85"/><circle cx="253.6" cy="332.3" r="0.85"/><circle cx="240.4" cy="331.6" r="0.85"/><circle cx="246.6" cy="332.4" r="0.85"/><circle cx="258.8" cy="331.5" r="0.85"/><circle cx="336.0" cy="332.5" r="0.85"/><circle cx="316.1" cy="331.5" r="0.85"/><circle cx="303.4" cy="331.1" r="0.85"/><circle cx="292.7" cy="332.2" r="0.85"/><circle cx="325.7" cy="331.2" r="0.85"/><circle cx="241.1" cy="331.7" r="0.85"/><circle cx="293.7" cy="331.0" r="0.85"/><circle cx="259.1" cy="331.7" r="0.85"/><circle cx="335.4" cy="331.6" r="0.85"/><circle cx="241.0" cy="331.6" r="0.85"/><circle cx="243.2" cy="332.6" r="0.85"/><circle cx="236.7" cy="331.9" r="0.85"/><circle cx="292.2" cy="331.8" r="0.85"/><circle cx="242.0" cy="332.2" r="0.85"/><circle cx="289.4" cy="331.5" r="0.85"/><circle cx="292.8" cy="332.1" r="0.85"/><circle cx="284.6" cy="332.5" r="0.85"/><circle cx="235.0" cy="331.6" r="0.85"/><circle cx="268.7" cy="332.5" r="0.85"/><circle cx="264.3" cy="332.5" r="0.85"/><circle cx="255.0" cy="332.0" r="0.85"/><circle cx="248.2" cy="331.7" r="0.85"/><circle cx="332.6" cy="332.5" r="0.85"/><circle cx="300.2" cy="331.8" r="0.85"/><circle cx="270.7" cy="332.5" r="0.85"/><circle cx="306.2" cy="332.1" r="0.85"/><circle cx="272.6" cy="331.7" r="0.85"/><circle cx="311.2" cy="331.1" r="0.85"/><circle cx="264.4" cy="332.2" r="0.85"/><circle cx="243.7" cy="331.7" r="0.85"/><circle cx="295.8" cy="331.7" r="0.85"/><circle cx="340.7" cy="331.5" r="0.85"/><circle cx="257.2" cy="332.4" r="0.85"/><circle cx="323.9" cy="331.7" r="0.85"/><circle cx="292.6" cy="331.9" r="0.85"/><circle cx="325.9" cy="331.7" r="0.85"/><circle cx="296.3" cy="332.6" r="0.85"/><circle cx="290.0" cy="332.1" r="0.85"/><circle cx="301.5" cy="331.1" r="0.85"/><circle cx="231.7" cy="331.7" r="0.85"/><circle cx="263.2" cy="331.2" r="0.85"/><circle cx="255.3" cy="332.1" r="0.85"/><circle cx="281.4" cy="332.3" r="0.85"/><circle cx="303.8" cy="332.3" r="0.85"/><circle cx="317.4" cy="332.3" r="0.85"/><circle cx="310.9" cy="331.3" r="0.85"/><circle cx="308.8" cy="331.3" r="0.85"/><circle cx="311.8" cy="332.0" r="0.85"/><circle cx="281.5" cy="331.9" r="0.85"/><circle cx="250.7" cy="332.6" r="0.85"/><circle cx="317.8" cy="331.8" r="0.85"/><circle cx="337.3" cy="331.4" r="0.85"/><circle cx="231.8" cy="331.9" r="0.85"/><circle cx="236.7" cy="331.4" r="0.85"/><circle cx="295.5" cy="332.3" r="0.85"/><circle cx="242.1" cy="332.6" r="0.85"/><circle cx="235.9" cy="331.3" r="0.85"/><circle cx="334.4" cy="331.7" r="0.85"/><circle cx="233.6" cy="332.1" r="0.85"/><circle cx="284.1" cy="331.5" r="0.85"/><circle cx="338.3" cy="332.2" r="0.85"/></g>
<g fill="#1e1e88" stroke="#ffffff" stroke-width="0.14"><circle cx="266.1" cy="325.6" r="0.85"/><circle cx="264.0" cy="324.1" r="0.85"/><circle cx="271.5" cy="307.7" r="0.85"/><circle cx="269.0" cy="316.3" r="0.85"/><circle cx="264.2" cy="326.9" r="0.85"/><circle cx="262.0" cy="326.8" r="0.85"/><circle cx="272.8" cy="311.3" r="0.85"/><circle cx="264.3" cy="327.7" r="0.85"/><circle cx="273.3" cy="310.1" r="0.85"/><circle cx="264.6" cy="324.5" r="0.85"/><circle cx="263.1" cy="327.7" r="0.85"/><circle cx="265.5" cy="331.0" r="0.85"/><circle cx="270.9" cy="328.9" r="0.85"/><circle cx="273.3" cy="324.0" r="0.85"/><circle cx="271.2" cy="326.1" r="0.85"/><circle cx="272.1" cy="304.0" r="0.85"/><circle cx="272.0" cy="329.4" r="0.85"/><circle cx="270.4" cy="313.6" r="0.85"/><circle cx="272.7" cy="311.4" r="0.85"/><circle cx="268.3" cy="312.3" r="0.85"/><circle cx="273.3" cy="330.6" r="0.85"/><circle cx="273.8" cy="310.0" r="0.85"/><circle cx="269.1" cy="324.5" r="0.85"/><circle cx="273.2" cy="312.2" r="0.85"/><circle cx="269.8" cy="324.4" r="0.85"/><circle cx="263.3" cy="327.5" r="0.85"/><circle cx="271.3" cy="315.5" r="0.85"/><circle cx="274.4" cy="327.7" r="0.85"/><circle cx="266.8" cy="325.5" r="0.85"/><circle cx="261.5" cy="327.4" r="0.85"/><circle cx="267.0" cy="316.2" r="0.85"/><circle cx="268.6" cy="317.3" r="0.85"/><circle cx="266.4" cy="324.7" r="0.85"/><circle cx="270.2" cy="315.2" r="0.85"/><circle cx="268.9" cy="310.9" r="0.85"/><circle cx="263.4" cy="326.8" r="0.85"/><circle cx="264.1" cy="328.3" r="0.85"/><circle cx="272.6" cy="305.4" r="0.85"/><circle cx="266.7" cy="327.3" r="0.85"/><circle cx="263.3" cy="321.6" r="0.85"/><circle cx="261.3" cy="323.9" r="0.85"/><circle cx="270.6" cy="323.9" r="0.85"/><circle cx="263.5" cy="324.8" r="0.85"/><circle cx="273.6" cy="327.4" r="0.85"/><circle cx="271.9" cy="303.5" r="0.85"/><circle cx="271.3" cy="315.5" r="0.85"/><circle cx="264.1" cy="326.1" r="0.85"/><circle cx="263.7" cy="328.7" r="0.85"/><circle cx="263.5" cy="319.1" r="0.85"/><circle cx="274.3" cy="321.8" r="0.85"/><circle cx="264.0" cy="330.1" r="0.85"/><circle cx="273.7" cy="323.9" r="0.85"/><circle cx="272.6" cy="319.4" r="0.85"/><circle cx="268.6" cy="312.0" r="0.85"/><circle cx="270.6" cy="306.3" r="0.85"/><circle cx="271.1" cy="307.9" r="0.85"/><circle cx="261.9" cy="325.9" r="0.85"/><circle cx="263.0" cy="323.0" r="0.85"/><circle cx="267.9" cy="323.1" r="0.85"/><circle cx="258.8" cy="331.0" r="0.85"/><circle cx="272.0" cy="307.0" r="0.85"/><circle cx="265.7" cy="322.4" r="0.85"/><circle cx="263.3" cy="325.4" r="0.85"/><circle cx="264.3" cy="323.2" r="0.85"/><circle cx="261.9" cy="322.5" r="0.85"/><circle cx="271.8" cy="320.5" r="0.85"/><circle cx="273.6" cy="310.3" r="0.85"/><circle cx="271.1" cy="309.1" r="0.85"/><circle cx="259.4" cy="329.0" r="0.85"/><circle cx="264.3" cy="327.6" r="0.85"/><circle cx="271.0" cy="307.5" r="0.85"/><circle cx="266.1" cy="323.6" r="0.85"/><circle cx="267.4" cy="318.3" r="0.85"/><circle cx="269.2" cy="326.4" r="0.85"/><circle cx="261.9" cy="323.0" r="0.85"/><circle cx="265.0" cy="319.4" r="0.85"/><circle cx="270.7" cy="313.1" r="0.85"/><circle cx="268.4" cy="325.8" r="0.85"/><circle cx="271.5" cy="320.0" r="0.85"/><circle cx="271.0" cy="331.1" r="0.85"/><circle cx="269.1" cy="318.4" r="0.85"/><circle cx="271.5" cy="305.4" r="0.85"/><circle cx="270.3" cy="323.3" r="0.85"/><circle cx="266.7" cy="328.3" r="0.85"/><circle cx="274.0" cy="330.5" r="0.85"/><circle cx="267.5" cy="311.2" r="0.85"/><circle cx="268.5" cy="326.5" r="0.85"/><circle cx="272.0" cy="305.3" r="0.85"/><circle cx="258.6" cy="331.7" r="0.85"/><circle cx="266.4" cy="330.9" r="0.85"/><circle cx="271.0" cy="311.2" r="0.85"/><circle cx="267.1" cy="321.6" r="0.85"/><circle cx="272.7" cy="319.0" r="0.85"/><circle cx="273.7" cy="309.2" r="0.85"/><circle cx="273.4" cy="309.1" r="0.85"/><circle cx="274.1" cy="330.5" r="0.85"/><circle cx="273.1" cy="331.0" r="0.85"/><circle cx="273.5" cy="307.8" r="0.85"/><circle cx="262.8" cy="328.3" r="0.85"/><circle cx="266.0" cy="319.8" r="0.85"/><circle cx="271.5" cy="312.8" r="0.85"/><circle cx="274.0" cy="320.8" r="0.85"/><circle cx="272.6" cy="328.0" r="0.85"/><circle cx="259.0" cy="330.3" r="0.85"/><circle cx="263.6" cy="331.6" r="0.85"/><circle cx="267.1" cy="325.3" r="0.85"/><circle cx="272.8" cy="315.4" r="0.85"/><circle cx="270.4" cy="323.2" r="0.85"/><circle cx="267.1" cy="317.7" r="0.85"/><circle cx="274.4" cy="323.4" r="0.85"/><circle cx="267.5" cy="324.7" r="0.85"/><circle cx="273.3" cy="305.6" r="0.85"/><circle cx="272.7" cy="316.0" r="0.85"/><circle cx="264.9" cy="325.9" r="0.85"/><circle cx="267.8" cy="314.3" r="0.85"/><circle cx="269.4" cy="328.2" r="0.85"/><circle cx="263.4" cy="325.1" r="0.85"/><circle cx="267.5" cy="330.5" r="0.85"/><circle cx="266.9" cy="330.2" r="0.85"/><circle cx="271.2" cy="318.5" r="0.85"/><circle cx="274.0" cy="326.3" r="0.85"/><circle cx="271.3" cy="328.5" r="0.85"/><circle cx="271.1" cy="312.1" r="0.85"/><circle cx="261.1" cy="326.9" r="0.85"/><circle cx="270.3" cy="327.0" r="0.85"/><circle cx="263.1" cy="330.6" r="0.85"/><circle cx="272.6" cy="319.5" r="0.85"/><circle cx="273.8" cy="312.4" r="0.85"/><circle cx="272.3" cy="312.0" r="0.85"/><circle cx="267.0" cy="322.3" r="0.85"/><circle cx="265.9" cy="324.0" r="0.85"/><circle cx="268.0" cy="315.8" r="0.85"/><circle cx="271.5" cy="322.6" r="0.85"/><circle cx="270.8" cy="304.4" r="0.85"/><circle cx="273.8" cy="321.3" r="0.85"/><circle cx="268.5" cy="312.0" r="0.85"/><circle cx="270.4" cy="311.7" r="0.85"/><circle cx="273.6" cy="307.8" r="0.85"/><circle cx="264.7" cy="325.5" r="0.85"/><circle cx="268.6" cy="327.3" r="0.85"/><circle cx="260.1" cy="329.2" r="0.85"/><circle cx="270.7" cy="319.6" r="0.85"/><circle cx="271.0" cy="313.3" r="0.85"/><circle cx="263.4" cy="327.6" r="0.85"/><circle cx="269.2" cy="331.2" r="0.85"/><circle cx="262.2" cy="327.7" r="0.85"/><circle cx="267.2" cy="314.1" r="0.85"/><circle cx="268.1" cy="328.2" r="0.85"/><circle cx="269.8" cy="323.0" r="0.85"/><circle cx="273.1" cy="315.1" r="0.85"/><circle cx="270.5" cy="310.5" r="0.85"/><circle cx="269.8" cy="328.4" r="0.85"/><circle cx="274.3" cy="320.2" r="0.85"/><circle cx="263.5" cy="319.9" r="0.85"/><circle cx="271.1" cy="307.4" r="0.85"/><circle cx="264.6" cy="324.5" r="0.85"/><circle cx="272.1" cy="309.8" r="0.85"/><circle cx="271.0" cy="328.7" r="0.85"/><circle cx="263.0" cy="320.1" r="0.85"/><circle cx="269.3" cy="312.1" r="0.85"/><circle cx="263.5" cy="329.9" r="0.85"/><circle cx="271.6" cy="330.9" r="0.85"/><circle cx="269.3" cy="317.2" r="0.85"/><circle cx="269.2" cy="309.2" r="0.85"/><circle cx="271.8" cy="305.0" r="0.85"/><circle cx="271.5" cy="325.4" r="0.85"/><circle cx="271.9" cy="311.4" r="0.85"/><circle cx="267.6" cy="323.5" r="0.85"/><circle cx="267.9" cy="322.1" r="0.85"/><circle cx="271.2" cy="329.2" r="0.85"/><circle cx="263.5" cy="321.0" r="0.85"/><circle cx="272.6" cy="314.2" r="0.85"/><circle cx="265.4" cy="318.1" r="0.85"/><circle cx="266.7" cy="321.9" r="0.85"/><circle cx="273.2" cy="330.2" r="0.85"/><circle cx="268.7" cy="316.6" r="0.85"/><circle cx="265.9" cy="322.9" r="0.85"/><circle cx="264.1" cy="325.4" r="0.85"/><circle cx="273.3" cy="313.1" r="0.85"/><circle cx="267.5" cy="328.5" r="0.85"/><circle cx="267.2" cy="316.8" r="0.85"/><circle cx="260.5" cy="327.6" r="0.85"/><circle cx="274.2" cy="331.6" r="0.85"/><circle cx="272.2" cy="314.7" r="0.85"/><circle cx="265.9" cy="325.1" r="0.85"/><circle cx="263.2" cy="321.1" r="0.85"/><circle cx="265.0" cy="327.1" r="0.85"/><circle cx="264.1" cy="323.2" r="0.85"/><circle cx="273.1" cy="303.7" r="0.85"/><circle cx="265.2" cy="323.0" r="0.85"/><circle cx="271.8" cy="330.6" r="0.85"/><circle cx="266.1" cy="327.3" r="0.85"/><circle cx="262.4" cy="326.9" r="0.85"/><circle cx="268.1" cy="328.3" r="0.85"/><circle cx="270.7" cy="323.3" r="0.85"/><circle cx="266.3" cy="316.2" r="0.85"/><circle cx="265.3" cy="316.0" r="0.85"/><circle cx="263.0" cy="322.1" r="0.85"/><circle cx="274.2" cy="328.7" r="0.85"/><circle cx="269.6" cy="311.2" r="0.85"/><circle cx="272.9" cy="320.3" r="0.85"/><circle cx="273.5" cy="301.3" r="0.85"/><circle cx="262.7" cy="321.7" r="0.85"/><circle cx="267.7" cy="319.8" r="0.85"/><circle cx="266.9" cy="317.4" r="0.85"/><circle cx="263.4" cy="329.7" r="0.85"/><circle cx="270.9" cy="323.8" r="0.85"/><circle cx="273.2" cy="304.2" r="0.85"/><circle cx="269.3" cy="307.8" r="0.85"/><circle cx="272.0" cy="307.1" r="0.85"/><circle cx="268.9" cy="313.8" r="0.85"/><circle cx="269.6" cy="311.0" r="0.85"/><circle cx="264.9" cy="328.9" r="0.85"/><circle cx="268.5" cy="330.0" r="0.85"/><circle cx="273.3" cy="316.8" r="0.85"/><circle cx="272.5" cy="330.6" r="0.85"/><circle cx="267.6" cy="322.8" r="0.85"/><circle cx="260.0" cy="329.6" r="0.85"/><circle cx="262.1" cy="322.5" r="0.85"/><circle cx="268.7" cy="313.2" r="0.85"/><circle cx="271.0" cy="324.5" r="0.85"/><circle cx="270.3" cy="313.7" r="0.85"/><circle cx="273.8" cy="324.0" r="0.85"/><circle cx="272.0" cy="318.6" r="0.85"/><circle cx="265.9" cy="329.7" r="0.85"/><circle cx="269.6" cy="310.1" r="0.85"/><circle cx="273.6" cy="314.3" r="0.85"/><circle cx="267.1" cy="331.1" r="0.85"/><circle cx="271.8" cy="313.5" r="0.85"/><circle cx="271.3" cy="327.4" r="0.85"/><circle cx="269.6" cy="324.8" r="0.85"/><circle cx="262.7" cy="324.8" r="0.85"/><circle cx="268.0" cy="322.4" r="0.85"/><circle cx="272.5" cy="327.6" r="0.85"/><circle cx="263.7" cy="327.3" r="0.85"/><circle cx="264.2" cy="318.4" r="0.85"/><circle cx="270.9" cy="310.6" r="0.85"/><circle cx="260.7" cy="331.6" r="0.85"/><circle cx="262.1" cy="328.2" r="0.85"/><circle cx="262.3" cy="325.8" r="0.85"/><circle cx="269.3" cy="308.6" r="0.85"/><circle cx="273.5" cy="328.5" r="0.85"/><circle cx="265.7" cy="318.1" r="0.85"/><circle cx="261.3" cy="324.5" r="0.85"/><circle cx="272.2" cy="315.6" r="0.85"/><circle cx="266.8" cy="317.4" r="0.85"/><circle cx="269.7" cy="310.2" r="0.85"/><circle cx="273.0" cy="319.7" r="0.85"/><circle cx="261.5" cy="329.0" r="0.85"/><circle cx="268.6" cy="320.9" r="0.85"/><circle cx="272.7" cy="326.5" r="0.85"/><circle cx="267.2" cy="322.9" r="0.85"/><circle cx="271.5" cy="318.9" r="0.85"/><circle cx="271.3" cy="314.1" r="0.85"/><circle cx="271.1" cy="321.7" r="0.85"/><circle cx="274.0" cy="319.6" r="0.85"/><circle cx="272.8" cy="330.2" r="0.85"/><circle cx="269.5" cy="311.5" r="0.85"/><circle cx="271.9" cy="326.6" r="0.85"/><circle cx="263.1" cy="328.6" r="0.85"/><circle cx="258.7" cy="322.7" r="0.85"/><circle cx="258.9" cy="323.0" r="0.85"/><circle cx="254.4" cy="327.9" r="0.85"/><circle cx="265.9" cy="299.6" r="0.85"/><circle cx="258.2" cy="319.0" r="0.85"/><circle cx="262.1" cy="321.5" r="0.85"/><circle cx="264.3" cy="309.3" r="0.85"/><circle cx="254.0" cy="323.0" r="0.85"/><circle cx="254.9" cy="328.5" r="0.85"/><circle cx="271.6" cy="292.3" r="0.85"/><circle cx="274.0" cy="299.3" r="0.85"/><circle cx="269.6" cy="295.1" r="0.85"/><circle cx="270.1" cy="302.0" r="0.85"/><circle cx="261.3" cy="321.5" r="0.85"/><circle cx="258.0" cy="326.0" r="0.85"/><circle cx="273.8" cy="293.7" r="0.85"/><circle cx="263.6" cy="306.2" r="0.85"/><circle cx="261.4" cy="309.3" r="0.85"/><circle cx="261.5" cy="307.1" r="0.85"/><circle cx="267.8" cy="296.0" r="0.85"/><circle cx="255.1" cy="329.0" r="0.85"/><circle cx="267.8" cy="307.3" r="0.85"/><circle cx="257.4" cy="315.0" r="0.85"/><circle cx="254.9" cy="326.9" r="0.85"/><circle cx="268.5" cy="303.1" r="0.85"/><circle cx="270.2" cy="287.9" r="0.85"/><circle cx="261.2" cy="320.5" r="0.85"/><circle cx="252.0" cy="330.9" r="0.85"/><circle cx="260.9" cy="314.7" r="0.85"/><circle cx="254.9" cy="326.7" r="0.85"/><circle cx="258.3" cy="320.7" r="0.85"/><circle cx="273.5" cy="296.3" r="0.85"/><circle cx="273.3" cy="294.1" r="0.85"/><circle cx="256.1" cy="318.4" r="0.85"/><circle cx="260.4" cy="320.8" r="0.85"/><circle cx="253.9" cy="330.9" r="0.85"/><circle cx="266.4" cy="296.7" r="0.85"/><circle cx="255.0" cy="327.0" r="0.85"/><circle cx="269.8" cy="302.6" r="0.85"/><circle cx="258.3" cy="315.1" r="0.85"/><circle cx="256.2" cy="325.6" r="0.85"/><circle cx="254.6" cy="328.0" r="0.85"/><circle cx="256.2" cy="322.6" r="0.85"/><circle cx="259.6" cy="312.5" r="0.85"/><circle cx="271.7" cy="290.0" r="0.85"/><circle cx="256.5" cy="327.0" r="0.85"/><circle cx="274.2" cy="299.4" r="0.85"/><circle cx="253.5" cy="325.2" r="0.85"/><circle cx="272.5" cy="293.8" r="0.85"/><circle cx="265.8" cy="308.0" r="0.85"/><circle cx="257.1" cy="320.8" r="0.85"/><circle cx="254.9" cy="324.5" r="0.85"/><circle cx="254.1" cy="331.5" r="0.85"/><circle cx="274.0" cy="289.2" r="0.85"/><circle cx="262.1" cy="317.0" r="0.85"/><circle cx="266.7" cy="310.2" r="0.85"/><circle cx="267.9" cy="307.4" r="0.85"/><circle cx="264.2" cy="304.4" r="0.85"/><circle cx="263.2" cy="307.3" r="0.85"/><circle cx="265.9" cy="313.6" r="0.85"/><circle cx="260.6" cy="309.7" r="0.85"/><circle cx="255.2" cy="328.6" r="0.85"/><circle cx="255.7" cy="326.0" r="0.85"/><circle cx="262.1" cy="305.1" r="0.85"/><circle cx="259.1" cy="327.9" r="0.85"/><circle cx="260.7" cy="309.2" r="0.85"/><circle cx="270.0" cy="297.1" r="0.85"/><circle cx="271.4" cy="295.3" r="0.85"/><circle cx="271.4" cy="293.4" r="0.85"/><circle cx="263.1" cy="306.9" r="0.85"/><circle cx="268.8" cy="298.0" r="0.85"/><circle cx="257.2" cy="326.3" r="0.85"/><circle cx="271.7" cy="289.3" r="0.85"/><circle cx="254.3" cy="329.1" r="0.85"/><circle cx="268.7" cy="302.8" r="0.85"/><circle cx="253.5" cy="326.8" r="0.85"/><circle cx="265.1" cy="298.2" r="0.85"/><circle cx="261.7" cy="321.9" r="0.85"/><circle cx="256.6" cy="328.6" r="0.85"/><circle cx="265.9" cy="306.2" r="0.85"/><circle cx="255.0" cy="331.5" r="0.85"/><circle cx="240.6" cy="331.3" r="0.85"/><circle cx="257.3" cy="330.0" r="0.85"/><circle cx="239.8" cy="330.1" r="0.85"/><circle cx="241.6" cy="331.2" r="0.85"/><circle cx="252.7" cy="329.0" r="0.85"/><circle cx="245.9" cy="329.3" r="0.85"/><circle cx="257.4" cy="329.7" r="0.85"/><circle cx="246.7" cy="331.5" r="0.85"/><circle cx="246.1" cy="331.1" r="0.85"/><circle cx="257.5" cy="329.6" r="0.85"/><circle cx="250.7" cy="330.4" r="0.85"/><circle cx="249.2" cy="329.7" r="0.85"/><circle cx="235.6" cy="330.3" r="0.85"/><circle cx="254.6" cy="329.2" r="0.85"/><circle cx="255.9" cy="329.7" r="0.85"/><circle cx="239.7" cy="329.4" r="0.85"/><circle cx="233.5" cy="330.5" r="0.85"/><circle cx="239.6" cy="330.6" r="0.85"/><circle cx="249.7" cy="329.3" r="0.85"/><circle cx="255.5" cy="330.3" r="0.85"/><circle cx="233.1" cy="330.5" r="0.85"/><circle cx="251.1" cy="328.9" r="0.85"/><circle cx="243.6" cy="330.4" r="0.85"/><circle cx="238.3" cy="330.3" r="0.85"/><circle cx="232.7" cy="331.0" r="0.85"/><circle cx="245.4" cy="330.4" r="0.85"/><circle cx="254.4" cy="329.5" r="0.85"/><circle cx="252.0" cy="329.5" r="0.85"/><circle cx="255.0" cy="329.2" r="0.85"/><circle cx="251.3" cy="331.8" r="0.85"/><circle cx="250.5" cy="331.2" r="0.85"/><circle cx="250.5" cy="329.2" r="0.85"/><circle cx="252.9" cy="329.9" r="0.85"/><circle cx="238.3" cy="330.3" r="0.85"/><circle cx="256.8" cy="331.6" r="0.85"/><circle cx="247.4" cy="329.3" r="0.85"/><circle cx="249.6" cy="329.7" r="0.85"/><circle cx="241.1" cy="330.2" r="0.85"/><circle cx="248.7" cy="331.2" r="0.85"/><circle cx="243.7" cy="329.4" r="0.85"/><circle cx="249.4" cy="329.7" r="0.85"/><circle cx="257.3" cy="331.6" r="0.85"/><circle cx="234.1" cy="329.6" r="0.85"/><circle cx="257.2" cy="330.5" r="0.85"/><circle cx="243.6" cy="330.4" r="0.85"/><circle cx="251.1" cy="330.2" r="0.85"/><circle cx="233.2" cy="330.3" r="0.85"/><circle cx="238.5" cy="330.6" r="0.85"/><circle cx="232.5" cy="330.0" r="0.85"/><circle cx="236.0" cy="331.8" r="0.85"/><circle cx="248.2" cy="329.8" r="0.85"/><circle cx="255.5" cy="331.5" r="0.85"/><circle cx="253.9" cy="329.0" r="0.85"/><circle cx="232.1" cy="330.9" r="0.85"/><circle cx="266.7" cy="273.2" r="0.85"/><circle cx="239.7" cy="317.6" r="0.85"/><circle cx="248.4" cy="309.3" r="0.85"/><circle cx="244.2" cy="311.2" r="0.85"/><circle cx="246.9" cy="307.0" r="0.85"/><circle cx="242.5" cy="311.1" r="0.85"/><circle cx="258.4" cy="302.0" r="0.85"/><circle cx="261.4" cy="278.2" r="0.85"/><circle cx="253.2" cy="302.4" r="0.85"/><circle cx="237.5" cy="317.9" r="0.85"/><circle cx="245.6" cy="314.8" r="0.85"/><circle cx="241.4" cy="317.3" r="0.85"/><circle cx="250.8" cy="304.2" r="0.85"/><circle cx="249.9" cy="303.4" r="0.85"/><circle cx="265.9" cy="248.2" r="0.85"/><circle cx="259.7" cy="247.5" r="0.85"/></g>
<g fill="#e20c0c" stroke="#ffffff" stroke-width="0.14"><circle cx="299.5" cy="319.5" r="0.85"/><circle cx="300.3" cy="320.6" r="0.85"/><circle cx="304.6" cy="322.6" r="0.85"/><circle cx="308.4" cy="327.8" r="0.85"/><circle cx="304.2" cy="326.8" r="0.85"/><circle cx="301.4" cy="327.4" r="0.85"/><circle cx="299.9" cy="320.1" r="0.85"/><circle cx="298.1" cy="331.3" r="0.85"/><circle cx="298.7" cy="330.7" r="0.85"/><circle cx="307.1" cy="324.6" r="0.85"/><circle cx="307.1" cy="324.4" r="0.85"/><circle cx="301.3" cy="326.3" r="0.85"/><circle cx="301.7" cy="320.5" r="0.85"/><circle cx="302.6" cy="330.2" r="0.85"/><circle cx="297.8" cy="330.9" r="0.85"/><circle cx="300.4" cy="322.2" r="0.85"/><circle cx="296.5" cy="328.2" r="0.85"/><circle cx="304.2" cy="327.5" r="0.85"/><circle cx="302.1" cy="324.8" r="0.85"/><circle cx="307.3" cy="331.5" r="0.85"/><circle cx="308.5" cy="329.9" r="0.85"/><circle cx="306.8" cy="328.0" r="0.85"/><circle cx="298.3" cy="319.8" r="0.85"/><circle cx="300.2" cy="320.1" r="0.85"/><circle cx="305.5" cy="329.7" r="0.85"/><circle cx="296.1" cy="328.4" r="0.85"/><circle cx="300.7" cy="330.4" r="0.85"/><circle cx="297.0" cy="320.7" r="0.85"/><circle cx="298.6" cy="321.7" r="0.85"/><circle cx="302.9" cy="322.0" r="0.85"/><circle cx="297.5" cy="318.9" r="0.85"/><circle cx="298.9" cy="327.2" r="0.85"/><circle cx="308.7" cy="330.6" r="0.85"/><circle cx="301.6" cy="322.3" r="0.85"/><circle cx="299.3" cy="329.5" r="0.85"/><circle cx="308.8" cy="327.1" r="0.85"/><circle cx="299.7" cy="321.5" r="0.85"/><circle cx="296.4" cy="323.7" r="0.85"/><circle cx="301.1" cy="328.2" r="0.85"/><circle cx="298.4" cy="323.0" r="0.85"/><circle cx="303.6" cy="324.6" r="0.85"/><circle cx="297.1" cy="320.3" r="0.85"/><circle cx="302.5" cy="328.6" r="0.85"/><circle cx="303.2" cy="326.3" r="0.85"/><circle cx="310.9" cy="330.3" r="0.85"/><circle cx="303.4" cy="321.9" r="0.85"/><circle cx="307.4" cy="328.2" r="0.85"/><circle cx="299.3" cy="324.9" r="0.85"/><circle cx="309.9" cy="330.7" r="0.85"/><circle cx="303.8" cy="324.2" r="0.85"/><circle cx="299.5" cy="329.8" r="0.85"/><circle cx="298.9" cy="327.6" r="0.85"/><circle cx="300.1" cy="327.9" r="0.85"/><circle cx="308.0" cy="326.7" r="0.85"/><circle cx="301.4" cy="320.6" r="0.85"/><circle cx="305.3" cy="330.3" r="0.85"/><circle cx="304.8" cy="331.1" r="0.85"/><circle cx="297.6" cy="324.9" r="0.85"/><circle cx="302.3" cy="330.1" r="0.85"/><circle cx="306.7" cy="327.5" r="0.85"/><circle cx="298.9" cy="324.6" r="0.85"/><circle cx="307.8" cy="328.2" r="0.85"/><circle cx="306.7" cy="324.5" r="0.85"/><circle cx="306.1" cy="330.8" r="0.85"/><circle cx="304.0" cy="327.4" r="0.85"/><circle cx="311.3" cy="329.9" r="0.85"/><circle cx="301.6" cy="324.5" r="0.85"/><circle cx="297.0" cy="325.4" r="0.85"/><circle cx="305.2" cy="324.8" r="0.85"/><circle cx="302.1" cy="321.5" r="0.85"/><circle cx="311.6" cy="330.6" r="0.85"/><circle cx="303.1" cy="326.3" r="0.85"/><circle cx="297.3" cy="328.3" r="0.85"/><circle cx="296.3" cy="329.3" r="0.85"/><circle cx="305.5" cy="329.1" r="0.85"/><circle cx="303.7" cy="321.8" r="0.85"/><circle cx="301.3" cy="330.4" r="0.85"/><circle cx="306.9" cy="327.8" r="0.85"/><circle cx="307.4" cy="329.6" r="0.85"/><circle cx="303.9" cy="324.3" r="0.85"/><circle cx="299.3" cy="331.5" r="0.85"/><circle cx="302.1" cy="329.9" r="0.85"/><circle cx="303.0" cy="328.0" r="0.85"/><circle cx="299.4" cy="328.0" r="0.85"/><circle cx="308.5" cy="331.5" r="0.85"/><circle cx="311.2" cy="331.6" r="0.85"/><circle cx="298.4" cy="328.0" r="0.85"/><circle cx="303.3" cy="329.8" r="0.85"/><circle cx="303.0" cy="331.0" r="0.85"/><circle cx="299.6" cy="321.4" r="0.85"/><circle cx="297.2" cy="327.0" r="0.85"/><circle cx="299.8" cy="330.3" r="0.85"/><circle cx="300.0" cy="323.2" r="0.85"/><circle cx="309.2" cy="329.5" r="0.85"/><circle cx="300.4" cy="323.3" r="0.85"/><circle cx="303.1" cy="321.9" r="0.85"/><circle cx="304.6" cy="323.1" r="0.85"/><circle cx="297.5" cy="322.1" r="0.85"/><circle cx="306.1" cy="325.4" r="0.85"/><circle cx="296.9" cy="328.7" r="0.85"/><circle cx="299.1" cy="329.4" r="0.85"/><circle cx="300.3" cy="323.8" r="0.85"/><circle cx="305.9" cy="326.7" r="0.85"/><circle cx="298.5" cy="323.6" r="0.85"/><circle cx="298.2" cy="323.5" r="0.85"/><circle cx="300.2" cy="330.9" r="0.85"/><circle cx="297.4" cy="326.4" r="0.85"/><circle cx="308.8" cy="327.9" r="0.85"/><circle cx="299.9" cy="329.7" r="0.85"/><circle cx="310.3" cy="330.1" r="0.85"/><circle cx="302.2" cy="326.8" r="0.85"/><circle cx="311.5" cy="331.7" r="0.85"/><circle cx="304.0" cy="330.6" r="0.85"/><circle cx="299.1" cy="321.5" r="0.85"/><circle cx="298.7" cy="331.2" r="0.85"/><circle cx="300.9" cy="327.8" r="0.85"/><circle cx="299.7" cy="327.7" r="0.85"/><circle cx="310.0" cy="328.8" r="0.85"/><circle cx="298.2" cy="329.0" r="0.85"/><circle cx="297.1" cy="327.9" r="0.85"/><circle cx="299.8" cy="327.8" r="0.85"/><circle cx="296.4" cy="319.1" r="0.85"/><circle cx="299.3" cy="326.8" r="0.85"/><circle cx="298.5" cy="328.1" r="0.85"/><circle cx="305.8" cy="331.8" r="0.85"/><circle cx="310.7" cy="328.7" r="0.85"/><circle cx="296.2" cy="329.5" r="0.85"/><circle cx="308.5" cy="327.3" r="0.85"/><circle cx="304.7" cy="330.2" r="0.85"/><circle cx="299.3" cy="331.1" r="0.85"/><circle cx="298.6" cy="328.8" r="0.85"/><circle cx="305.0" cy="330.3" r="0.85"/><circle cx="309.1" cy="328.0" r="0.85"/><circle cx="301.4" cy="321.0" r="0.85"/><circle cx="307.5" cy="327.8" r="0.85"/><circle cx="303.3" cy="321.6" r="0.85"/><circle cx="303.0" cy="329.4" r="0.85"/><circle cx="296.0" cy="318.3" r="0.85"/><circle cx="298.4" cy="330.7" r="0.85"/><circle cx="299.3" cy="322.5" r="0.85"/><circle cx="309.0" cy="326.3" r="0.85"/><circle cx="304.0" cy="330.2" r="0.85"/><circle cx="296.8" cy="323.7" r="0.85"/><circle cx="303.1" cy="326.9" r="0.85"/><circle cx="296.9" cy="321.5" r="0.85"/><circle cx="303.2" cy="328.9" r="0.85"/><circle cx="296.0" cy="331.4" r="0.85"/><circle cx="304.1" cy="327.4" r="0.85"/><circle cx="299.5" cy="323.9" r="0.85"/><circle cx="304.5" cy="327.8" r="0.85"/><circle cx="297.5" cy="330.1" r="0.85"/><circle cx="305.3" cy="329.1" r="0.85"/><circle cx="302.8" cy="331.5" r="0.85"/><circle cx="298.7" cy="331.4" r="0.85"/><circle cx="304.7" cy="326.7" r="0.85"/><circle cx="299.4" cy="327.0" r="0.85"/><circle cx="301.0" cy="325.2" r="0.85"/><circle cx="301.0" cy="331.3" r="0.85"/><circle cx="300.2" cy="320.5" r="0.85"/><circle cx="310.0" cy="327.6" r="0.85"/><circle cx="304.8" cy="325.3" r="0.85"/><circle cx="304.5" cy="324.5" r="0.85"/><circle cx="305.4" cy="329.2" r="0.85"/><circle cx="297.0" cy="323.9" r="0.85"/><circle cx="311.2" cy="331.7" r="0.85"/><circle cx="300.9" cy="322.8" r="0.85"/><circle cx="307.4" cy="326.8" r="0.85"/><circle cx="302.1" cy="323.7" r="0.85"/><circle cx="303.4" cy="325.5" r="0.85"/><circle cx="305.3" cy="324.3" r="0.85"/><circle cx="310.2" cy="330.5" r="0.85"/><circle cx="303.7" cy="326.5" r="0.85"/><circle cx="296.0" cy="331.8" r="0.85"/><circle cx="302.1" cy="325.2" r="0.85"/><circle cx="295.9" cy="322.7" r="0.85"/><circle cx="299.7" cy="324.8" r="0.85"/><circle cx="302.7" cy="322.8" r="0.85"/><circle cx="300.6" cy="327.9" r="0.85"/><circle cx="301.7" cy="320.5" r="0.85"/><circle cx="308.5" cy="327.8" r="0.85"/><circle cx="298.3" cy="329.5" r="0.85"/><circle cx="309.4" cy="326.8" r="0.85"/><circle cx="306.3" cy="331.2" r="0.85"/><circle cx="299.4" cy="329.3" r="0.85"/><circle cx="311.6" cy="330.4" r="0.85"/><circle cx="296.6" cy="329.3" r="0.85"/><circle cx="299.7" cy="322.3" r="0.85"/><circle cx="298.3" cy="321.9" r="0.85"/><circle cx="300.7" cy="331.2" r="0.85"/><circle cx="302.3" cy="325.2" r="0.85"/><circle cx="306.2" cy="325.3" r="0.85"/><circle cx="301.6" cy="331.2" r="0.85"/><circle cx="303.7" cy="331.6" r="0.85"/><circle cx="297.2" cy="322.6" r="0.85"/><circle cx="299.4" cy="322.9" r="0.85"/><circle cx="301.1" cy="331.4" r="0.85"/><circle cx="300.1" cy="325.2" r="0.85"/><circle cx="303.2" cy="328.5" r="0.85"/><circle cx="299.6" cy="329.7" r="0.85"/><circle cx="295.9" cy="329.7" r="0.85"/><circle cx="304.6" cy="328.5" r="0.85"/><circle cx="300.7" cy="322.1" r="0.85"/><circle cx="297.3" cy="327.9" r="0.85"/><circle cx="309.2" cy="327.8" r="0.85"/><circle cx="301.6" cy="331.0" r="0.85"/><circle cx="298.1" cy="330.0" r="0.85"/><circle cx="311.3" cy="330.0" r="0.85"/><circle cx="304.7" cy="331.8" r="0.85"/><circle cx="312.1" cy="330.9" r="0.85"/><circle cx="300.0" cy="321.8" r="0.85"/><circle cx="311.4" cy="330.5" r="0.85"/><circle cx="301.6" cy="328.1" r="0.85"/><circle cx="297.7" cy="327.9" r="0.85"/><circle cx="296.4" cy="319.5" r="0.85"/><circle cx="307.1" cy="329.5" r="0.85"/><circle cx="300.1" cy="320.3" r="0.85"/><circle cx="297.7" cy="318.9" r="0.85"/><circle cx="297.2" cy="318.9" r="0.85"/><circle cx="300.4" cy="326.4" r="0.85"/><circle cx="298.4" cy="329.2" r="0.85"/><circle cx="298.8" cy="331.4" r="0.85"/><circle cx="302.6" cy="324.5" r="0.85"/><circle cx="305.4" cy="325.2" r="0.85"/><circle cx="301.7" cy="328.1" r="0.85"/><circle cx="303.5" cy="326.8" r="0.85"/><circle cx="299.7" cy="319.9" r="0.85"/><circle cx="308.6" cy="327.1" r="0.85"/><circle cx="299.1" cy="327.5" r="0.85"/><circle cx="302.0" cy="320.9" r="0.85"/><circle cx="310.0" cy="328.7" r="0.85"/><circle cx="298.7" cy="326.0" r="0.85"/><circle cx="298.9" cy="327.6" r="0.85"/><circle cx="308.0" cy="330.2" r="0.85"/><circle cx="298.8" cy="328.1" r="0.85"/><circle cx="296.1" cy="322.1" r="0.85"/><circle cx="302.0" cy="329.2" r="0.85"/><circle cx="305.2" cy="323.4" r="0.85"/><circle cx="300.8" cy="321.9" r="0.85"/><circle cx="307.3" cy="329.7" r="0.85"/><circle cx="302.7" cy="330.8" r="0.85"/><circle cx="300.4" cy="331.1" r="0.85"/><circle cx="297.1" cy="329.2" r="0.85"/><circle cx="307.8" cy="330.0" r="0.85"/><circle cx="308.7" cy="329.7" r="0.85"/><circle cx="301.9" cy="327.9" r="0.85"/><circle cx="300.1" cy="329.0" r="0.85"/><circle cx="309.6" cy="328.1" r="0.85"/><circle cx="307.7" cy="331.3" r="0.85"/><circle cx="300.9" cy="328.7" r="0.85"/><circle cx="298.0" cy="330.1" r="0.85"/><circle cx="296.3" cy="321.4" r="0.85"/><circle cx="305.0" cy="323.2" r="0.85"/><circle cx="300.2" cy="326.7" r="0.85"/><circle cx="305.5" cy="331.6" r="0.85"/><circle cx="303.9" cy="326.1" r="0.85"/><circle cx="296.4" cy="321.6" r="0.85"/><circle cx="301.5" cy="328.9" r="0.85"/><circle cx="303.5" cy="329.6" r="0.85"/><circle cx="306.7" cy="324.2" r="0.85"/><circle cx="304.3" cy="328.1" r="0.85"/><circle cx="305.2" cy="329.3" r="0.85"/><circle cx="296.3" cy="331.4" r="0.85"/><circle cx="300.2" cy="328.9" r="0.85"/><circle cx="296.0" cy="330.6" r="0.85"/><circle cx="305.1" cy="330.0" r="0.85"/><circle cx="299.4" cy="330.3" r="0.85"/><circle cx="309.8" cy="329.1" r="0.85"/><circle cx="300.8" cy="330.6" r="0.85"/><circle cx="306.8" cy="326.1" r="0.85"/><circle cx="298.9" cy="324.7" r="0.85"/><circle cx="307.3" cy="329.2" r="0.85"/><circle cx="302.7" cy="331.6" r="0.85"/><circle cx="299.7" cy="328.5" r="0.85"/><circle cx="298.9" cy="330.4" r="0.85"/><circle cx="298.9" cy="330.7" r="0.85"/><circle cx="307.5" cy="331.0" r="0.85"/><circle cx="303.4" cy="327.3" r="0.85"/><circle cx="296.5" cy="318.8" r="0.85"/><circle cx="309.4" cy="327.3" r="0.85"/><circle cx="297.1" cy="324.5" r="0.85"/><circle cx="298.5" cy="321.1" r="0.85"/><circle cx="300.2" cy="319.6" r="0.85"/><circle cx="305.3" cy="327.6" r="0.85"/><circle cx="302.0" cy="328.9" r="0.85"/><circle cx="306.3" cy="329.7" r="0.85"/><circle cx="305.5" cy="329.9" r="0.85"/><circle cx="304.8" cy="325.9" r="0.85"/><circle cx="298.7" cy="323.8" r="0.85"/><circle cx="308.7" cy="331.7" r="0.85"/><circle cx="301.5" cy="329.2" r="0.85"/><circle cx="299.5" cy="329.0" r="0.85"/><circle cx="303.7" cy="331.2" r="0.85"/><circle cx="308.0" cy="326.6" r="0.85"/><circle cx="305.6" cy="327.7" r="0.85"/><circle cx="308.4" cy="329.4" r="0.85"/><circle cx="297.7" cy="328.2" r="0.85"/><circle cx="302.4" cy="322.1" r="0.85"/><circle cx="301.4" cy="325.0" r="0.85"/><circle cx="297.0" cy="323.6" r="0.85"/><circle cx="305.3" cy="326.0" r="0.85"/><circle cx="309.3" cy="330.7" r="0.85"/><circle cx="308.6" cy="330.3" r="0.85"/><circle cx="299.7" cy="320.7" r="0.85"/><circle cx="308.1" cy="330.6" r="0.85"/><circle cx="296.4" cy="319.4" r="0.85"/><circle cx="307.5" cy="324.9" r="0.85"/><circle cx="300.9" cy="328.6" r="0.85"/><circle cx="305.0" cy="329.6" r="0.85"/><circle cx="300.6" cy="324.2" r="0.85"/><circle cx="309.5" cy="329.3" r="0.85"/><circle cx="298.2" cy="322.3" r="0.85"/><circle cx="302.4" cy="324.8" r="0.85"/><circle cx="305.0" cy="330.3" r="0.85"/><circle cx="308.5" cy="331.0" r="0.85"/><circle cx="311.6" cy="331.4" r="0.85"/><circle cx="306.3" cy="329.4" r="0.85"/><circle cx="296.5" cy="330.4" r="0.85"/><circle cx="307.7" cy="327.1" r="0.85"/><circle cx="302.3" cy="331.1" r="0.85"/><circle cx="304.6" cy="325.6" r="0.85"/><circle cx="307.8" cy="326.1" r="0.85"/><circle cx="298.7" cy="322.3" r="0.85"/><circle cx="302.8" cy="325.1" r="0.85"/><circle cx="297.8" cy="320.1" r="0.85"/><circle cx="297.9" cy="322.5" r="0.85"/><circle cx="298.0" cy="327.8" r="0.85"/><circle cx="296.2" cy="318.6" r="0.85"/><circle cx="297.1" cy="320.0" r="0.85"/><circle cx="306.5" cy="330.8" r="0.85"/><circle cx="303.0" cy="329.9" r="0.85"/><circle cx="304.5" cy="325.3" r="0.85"/><circle cx="305.7" cy="331.5" r="0.85"/><circle cx="297.0" cy="321.3" r="0.85"/><circle cx="307.6" cy="327.8" r="0.85"/><circle cx="303.5" cy="328.2" r="0.85"/><circle cx="301.6" cy="322.3" r="0.85"/><circle cx="302.7" cy="326.4" r="0.85"/><circle cx="311.7" cy="330.8" r="0.85"/><circle cx="304.6" cy="328.2" r="0.85"/><circle cx="306.2" cy="327.7" r="0.85"/><circle cx="300.7" cy="325.6" r="0.85"/><circle cx="297.4" cy="329.4" r="0.85"/><circle cx="303.1" cy="327.2" r="0.85"/><circle cx="296.0" cy="324.1" r="0.85"/><circle cx="296.1" cy="327.3" r="0.85"/><circle cx="297.7" cy="330.2" r="0.85"/><circle cx="310.4" cy="328.7" r="0.85"/><circle cx="304.8" cy="329.8" r="0.85"/><circle cx="303.4" cy="328.6" r="0.85"/><circle cx="308.0" cy="325.3" r="0.85"/><circle cx="298.1" cy="326.0" r="0.85"/><circle cx="297.9" cy="320.6" r="0.85"/><circle cx="300.9" cy="321.1" r="0.85"/><circle cx="311.3" cy="329.8" r="0.85"/><circle cx="297.6" cy="331.7" r="0.85"/><circle cx="309.4" cy="329.9" r="0.85"/><circle cx="309.2" cy="327.4" r="0.85"/><circle cx="302.0" cy="322.3" r="0.85"/><circle cx="309.5" cy="331.4" r="0.85"/><circle cx="306.4" cy="327.1" r="0.85"/><circle cx="310.2" cy="327.8" r="0.85"/><circle cx="304.9" cy="322.7" r="0.85"/><circle cx="303.2" cy="324.3" r="0.85"/><circle cx="305.0" cy="328.3" r="0.85"/><circle cx="301.0" cy="325.9" r="0.85"/><circle cx="299.3" cy="329.3" r="0.85"/><circle cx="307.3" cy="331.7" r="0.85"/><circle cx="301.5" cy="331.6" r="0.85"/><circle cx="307.4" cy="330.3" r="0.85"/><circle cx="301.9" cy="327.9" r="0.85"/><circle cx="309.1" cy="331.3" r="0.85"/><circle cx="309.3" cy="330.5" r="0.85"/><circle cx="299.3" cy="328.9" r="0.85"/><circle cx="302.1" cy="330.7" r="0.85"/><circle cx="300.7" cy="327.7" r="0.85"/><circle cx="296.2" cy="323.8" r="0.85"/><circle cx="302.8" cy="321.4" r="0.85"/><circle cx="299.3" cy="325.4" r="0.85"/><circle cx="306.9" cy="328.5" r="0.85"/><circle cx="304.1" cy="328.5" r="0.85"/><circle cx="297.7" cy="325.5" r="0.85"/><circle cx="296.2" cy="325.3" r="0.85"/><circle cx="296.2" cy="320.7" r="0.85"/><circle cx="302.1" cy="331.6" r="0.85"/><circle cx="302.2" cy="326.2" r="0.85"/><circle cx="296.3" cy="326.6" r="0.85"/><circle cx="301.7" cy="328.6" r="0.85"/><circle cx="297.5" cy="318.6" r="0.85"/><circle cx="299.3" cy="323.8" r="0.85"/><circle cx="302.1" cy="331.6" r="0.85"/><circle cx="301.4" cy="326.2" r="0.85"/><circle cx="296.8" cy="322.8" r="0.85"/><circle cx="299.9" cy="326.4" r="0.85"/><circle cx="301.8" cy="331.0" r="0.85"/><circle cx="297.1" cy="320.6" r="0.85"/><circle cx="295.8" cy="331.6" r="0.85"/><circle cx="297.6" cy="328.8" r="0.85"/><circle cx="304.9" cy="328.9" r="0.85"/><circle cx="309.0" cy="329.6" r="0.85"/><circle cx="297.2" cy="321.6" r="0.85"/><circle cx="302.3" cy="320.4" r="0.85"/><circle cx="309.3" cy="327.1" r="0.85"/><circle cx="299.7" cy="330.1" r="0.85"/><circle cx="301.6" cy="331.5" r="0.85"/><circle cx="306.3" cy="327.3" r="0.85"/><circle cx="295.8" cy="326.9" r="0.85"/><circle cx="297.8" cy="323.6" r="0.85"/><circle cx="298.7" cy="326.4" r="0.85"/><circle cx="309.4" cy="330.9" r="0.85"/><circle cx="299.4" cy="323.4" r="0.85"/><circle cx="302.3" cy="321.9" r="0.85"/><circle cx="307.5" cy="329.6" r="0.85"/><circle cx="296.7" cy="328.7" r="0.85"/><circle cx="304.6" cy="325.9" r="0.85"/><circle cx="304.2" cy="328.8" r="0.85"/><circle cx="299.8" cy="325.5" r="0.85"/><circle cx="296.8" cy="324.2" r="0.85"/><circle cx="309.1" cy="331.2" r="0.85"/><circle cx="296.3" cy="328.4" r="0.85"/><circle cx="296.6" cy="331.1" r="0.85"/><circle cx="303.1" cy="321.8" r="0.85"/><circle cx="300.5" cy="326.1" r="0.85"/><circle cx="303.4" cy="331.0" r="0.85"/><circle cx="302.8" cy="327.1" r="0.85"/><circle cx="304.2" cy="327.6" r="0.85"/><circle cx="303.5" cy="329.7" r="0.85"/><circle cx="300.1" cy="325.3" r="0.85"/><circle cx="301.9" cy="327.0" r="0.85"/><circle cx="310.0" cy="328.0" r="0.85"/><circle cx="297.5" cy="325.6" r="0.85"/><circle cx="300.9" cy="323.4" r="0.85"/><circle cx="306.3" cy="329.6" r="0.85"/><circle cx="299.0" cy="330.3" r="0.85"/><circle cx="308.2" cy="329.4" r="0.85"/><circle cx="299.6" cy="324.2" r="0.85"/><circle cx="300.8" cy="321.6" r="0.85"/><circle cx="307.6" cy="326.8" r="0.85"/><circle cx="300.8" cy="324.2" r="0.85"/><circle cx="304.8" cy="330.6" r="0.85"/><circle cx="301.6" cy="329.0" r="0.85"/><circle cx="299.5" cy="329.6" r="0.85"/><circle cx="310.8" cy="329.9" r="0.85"/><circle cx="302.3" cy="330.4" r="0.85"/><circle cx="306.6" cy="325.3" r="0.85"/><circle cx="300.4" cy="323.8" r="0.85"/><circle cx="297.5" cy="319.2" r="0.85"/><circle cx="307.6" cy="326.4" r="0.85"/><circle cx="301.0" cy="331.2" r="0.85"/><circle cx="300.8" cy="331.3" r="0.85"/><circle cx="299.8" cy="320.8" r="0.85"/><circle cx="300.1" cy="326.7" r="0.85"/><circle cx="298.1" cy="326.2" r="0.85"/><circle cx="297.8" cy="326.4" r="0.85"/><circle cx="310.8" cy="330.1" r="0.85"/><circle cx="302.0" cy="329.2" r="0.85"/><circle cx="303.9" cy="321.7" r="0.85"/><circle cx="297.5" cy="325.1" r="0.85"/><circle cx="296.1" cy="325.2" r="0.85"/><circle cx="304.3" cy="324.6" r="0.85"/><circle cx="304.0" cy="326.2" r="0.85"/><circle cx="300.7" cy="322.7" r="0.85"/><circle cx="300.6" cy="321.6" r="0.85"/><circle cx="297.6" cy="325.4" r="0.85"/><circle cx="305.7" cy="323.3" r="0.85"/><circle cx="302.6" cy="322.6" r="0.85"/><circle cx="307.1" cy="329.7" r="0.85"/><circle cx="304.5" cy="327.0" r="0.85"/><circle cx="296.9" cy="331.2" r="0.85"/><circle cx="296.7" cy="322.1" r="0.85"/><circle cx="300.7" cy="324.5" r="0.85"/><circle cx="301.5" cy="330.0" r="0.85"/><circle cx="300.2" cy="328.3" r="0.85"/><circle cx="303.6" cy="324.5" r="0.85"/><circle cx="308.6" cy="329.3" r="0.85"/><circle cx="304.9" cy="324.0" r="0.85"/><circle cx="300.8" cy="327.4" r="0.85"/><circle cx="302.2" cy="321.3" r="0.85"/><circle cx="298.3" cy="319.0" r="0.85"/><circle cx="302.9" cy="325.1" r="0.85"/><circle cx="308.4" cy="325.6" r="0.85"/><circle cx="298.6" cy="329.6" r="0.85"/><circle cx="301.4" cy="321.4" r="0.85"/><circle cx="297.8" cy="322.9" r="0.85"/><circle cx="300.4" cy="320.7" r="0.85"/><circle cx="298.4" cy="319.5" r="0.85"/><circle cx="297.2" cy="325.1" r="0.85"/><circle cx="297.6" cy="327.2" r="0.85"/><circle cx="300.2" cy="330.5" r="0.85"/><circle cx="300.0" cy="319.9" r="0.85"/><circle cx="297.3" cy="330.6" r="0.85"/><circle cx="299.1" cy="322.1" r="0.85"/><circle cx="298.2" cy="327.3" r="0.85"/><circle cx="298.7" cy="325.2" r="0.85"/><circle cx="297.8" cy="329.9" r="0.85"/><circle cx="309.8" cy="329.9" r="0.85"/><circle cx="309.4" cy="330.4" r="0.85"/><circle cx="296.0" cy="319.0" r="0.85"/><circle cx="296.0" cy="329.4" r="0.85"/><circle cx="303.3" cy="324.7" r="0.85"/><circle cx="295.9" cy="321.1" r="0.85"/><circle cx="303.5" cy="326.5" r="0.85"/><circle cx="297.6" cy="331.5" r="0.85"/><circle cx="305.9" cy="331.1" r="0.85"/><circle cx="302.6" cy="327.5" r="0.85"/><circle cx="296.5" cy="325.8" r="0.85"/><circle cx="303.3" cy="329.4" r="0.85"/><circle cx="299.7" cy="322.1" r="0.85"/><circle cx="304.0" cy="322.8" r="0.85"/><circle cx="310.3" cy="330.9" r="0.85"/><circle cx="298.4" cy="319.8" r="0.85"/><circle cx="303.3" cy="330.0" r="0.85"/><circle cx="307.6" cy="330.2" r="0.85"/><circle cx="307.9" cy="330.8" r="0.85"/><circle cx="301.9" cy="329.5" r="0.85"/><circle cx="309.5" cy="330.5" r="0.85"/><circle cx="300.5" cy="330.9" r="0.85"/><circle cx="300.4" cy="330.8" r="0.85"/><circle cx="301.8" cy="329.8" r="0.85"/><circle cx="299.4" cy="323.7" r="0.85"/><circle cx="308.1" cy="326.1" r="0.85"/><circle cx="317.5" cy="327.0" r="0.85"/><circle cx="308.3" cy="315.5" r="0.85"/><circle cx="312.8" cy="327.1" r="0.85"/><circle cx="300.4" cy="316.3" r="0.85"/><circle cx="312.3" cy="327.7" r="0.85"/><circle cx="317.1" cy="327.9" r="0.85"/><circle cx="296.3" cy="311.0" r="0.85"/><circle cx="297.3" cy="310.0" r="0.85"/><circle cx="314.1" cy="321.2" r="0.85"/><circle cx="310.4" cy="319.5" r="0.85"/><circle cx="309.9" cy="324.2" r="0.85"/><circle cx="309.3" cy="318.4" r="0.85"/><circle cx="295.9" cy="301.8" r="0.85"/><circle cx="314.8" cy="329.9" r="0.85"/><circle cx="299.7" cy="318.6" r="0.85"/><circle cx="315.4" cy="326.6" r="0.85"/><circle cx="310.2" cy="324.1" r="0.85"/><circle cx="298.5" cy="315.4" r="0.85"/><circle cx="311.9" cy="315.9" r="0.85"/><circle cx="295.8" cy="317.3" r="0.85"/><circle cx="315.6" cy="320.9" r="0.85"/><circle cx="308.4" cy="324.8" r="0.85"/><circle cx="306.6" cy="314.6" r="0.85"/><circle cx="311.5" cy="323.6" r="0.85"/><circle cx="297.2" cy="310.7" r="0.85"/><circle cx="301.1" cy="304.6" r="0.85"/><circle cx="319.7" cy="330.4" r="0.85"/><circle cx="305.2" cy="312.9" r="0.85"/><circle cx="306.1" cy="322.1" r="0.85"/><circle cx="301.8" cy="314.6" r="0.85"/><circle cx="303.1" cy="320.4" r="0.85"/><circle cx="298.7" cy="317.0" r="0.85"/><circle cx="307.5" cy="319.5" r="0.85"/><circle cx="309.9" cy="324.9" r="0.85"/><circle cx="311.5" cy="328.3" r="0.85"/><circle cx="313.2" cy="326.9" r="0.85"/><circle cx="309.8" cy="316.3" r="0.85"/><circle cx="311.5" cy="321.1" r="0.85"/><circle cx="315.2" cy="327.1" r="0.85"/><circle cx="319.8" cy="328.9" r="0.85"/><circle cx="301.8" cy="314.8" r="0.85"/><circle cx="296.5" cy="317.5" r="0.85"/><circle cx="303.1" cy="320.0" r="0.85"/><circle cx="310.6" cy="320.4" r="0.85"/><circle cx="305.8" cy="321.3" r="0.85"/><circle cx="313.2" cy="330.0" r="0.85"/><circle cx="302.1" cy="318.0" r="0.85"/><circle cx="319.7" cy="327.0" r="0.85"/><circle cx="303.3" cy="308.8" r="0.85"/><circle cx="309.8" cy="325.6" r="0.85"/><circle cx="296.5" cy="316.1" r="0.85"/><circle cx="297.7" cy="316.3" r="0.85"/><circle cx="309.2" cy="316.4" r="0.85"/><circle cx="314.2" cy="317.9" r="0.85"/><circle cx="298.2" cy="306.7" r="0.85"/><circle cx="300.4" cy="309.7" r="0.85"/><circle cx="298.6" cy="318.8" r="0.85"/><circle cx="299.0" cy="316.7" r="0.85"/><circle cx="306.6" cy="313.9" r="0.85"/><circle cx="311.0" cy="327.9" r="0.85"/><circle cx="311.2" cy="326.5" r="0.85"/><circle cx="310.9" cy="319.7" r="0.85"/><circle cx="300.6" cy="318.3" r="0.85"/><circle cx="304.3" cy="319.0" r="0.85"/><circle cx="303.7" cy="307.7" r="0.85"/><circle cx="308.3" cy="319.4" r="0.85"/><circle cx="300.8" cy="313.1" r="0.85"/><circle cx="299.9" cy="311.9" r="0.85"/><circle cx="317.1" cy="322.7" r="0.85"/><circle cx="305.6" cy="308.3" r="0.85"/><circle cx="314.7" cy="331.3" r="0.85"/><circle cx="308.8" cy="315.2" r="0.85"/><circle cx="311.3" cy="317.7" r="0.85"/><circle cx="306.7" cy="312.2" r="0.85"/><circle cx="299.9" cy="312.5" r="0.85"/><circle cx="297.6" cy="315.5" r="0.85"/><circle cx="297.2" cy="301.8" r="0.85"/><circle cx="298.9" cy="316.2" r="0.85"/><circle cx="317.8" cy="327.0" r="0.85"/><circle cx="317.1" cy="330.5" r="0.85"/><circle cx="317.8" cy="327.8" r="0.85"/><circle cx="321.2" cy="331.2" r="0.85"/><circle cx="313.4" cy="324.5" r="0.85"/><circle cx="315.0" cy="322.9" r="0.85"/><circle cx="312.5" cy="317.5" r="0.85"/><circle cx="310.6" cy="314.3" r="0.85"/><circle cx="314.0" cy="322.3" r="0.85"/><circle cx="313.4" cy="321.5" r="0.85"/><circle cx="302.0" cy="319.3" r="0.85"/><circle cx="310.3" cy="313.7" r="0.85"/><circle cx="297.2" cy="305.8" r="0.85"/><circle cx="311.5" cy="322.6" r="0.85"/><circle cx="307.1" cy="320.1" r="0.85"/><circle cx="299.0" cy="313.5" r="0.85"/><circle cx="301.4" cy="309.4" r="0.85"/><circle cx="301.2" cy="315.0" r="0.85"/><circle cx="308.5" cy="320.3" r="0.85"/><circle cx="302.6" cy="318.6" r="0.85"/><circle cx="308.8" cy="321.1" r="0.85"/><circle cx="302.5" cy="310.7" r="0.85"/><circle cx="308.6" cy="314.2" r="0.85"/><circle cx="309.4" cy="317.7" r="0.85"/><circle cx="297.3" cy="301.3" r="0.85"/><circle cx="298.2" cy="302.0" r="0.85"/><circle cx="318.9" cy="328.8" r="0.85"/><circle cx="312.6" cy="320.9" r="0.85"/><circle cx="308.3" cy="321.3" r="0.85"/><circle cx="300.5" cy="307.8" r="0.85"/><circle cx="304.6" cy="316.9" r="0.85"/><circle cx="300.9" cy="311.6" r="0.85"/><circle cx="299.9" cy="314.8" r="0.85"/><circle cx="306.9" cy="314.4" r="0.85"/><circle cx="318.0" cy="328.6" r="0.85"/><circle cx="321.7" cy="331.4" r="0.85"/><circle cx="311.3" cy="327.9" r="0.85"/><circle cx="305.9" cy="311.0" r="0.85"/><circle cx="311.3" cy="321.6" r="0.85"/><circle cx="316.6" cy="321.7" r="0.85"/><circle cx="314.2" cy="320.0" r="0.85"/><circle cx="304.1" cy="313.8" r="0.85"/><circle cx="315.1" cy="327.6" r="0.85"/><circle cx="298.3" cy="309.7" r="0.85"/><circle cx="302.2" cy="305.3" r="0.85"/><circle cx="308.4" cy="325.2" r="0.85"/><circle cx="297.0" cy="312.9" r="0.85"/><circle cx="319.4" cy="331.4" r="0.85"/><circle cx="300.9" cy="310.5" r="0.85"/><circle cx="311.6" cy="319.3" r="0.85"/><circle cx="312.9" cy="329.7" r="0.85"/><circle cx="312.8" cy="331.5" r="0.85"/><circle cx="312.9" cy="330.3" r="0.85"/><circle cx="307.0" cy="320.3" r="0.85"/><circle cx="308.2" cy="322.5" r="0.85"/><circle cx="315.5" cy="325.9" r="0.85"/><circle cx="300.6" cy="313.0" r="0.85"/><circle cx="315.4" cy="320.4" r="0.85"/><circle cx="297.3" cy="313.5" r="0.85"/><circle cx="319.4" cy="327.8" r="0.85"/><circle cx="299.8" cy="318.8" r="0.85"/><circle cx="299.3" cy="318.1" r="0.85"/><circle cx="297.8" cy="309.0" r="0.85"/><circle cx="315.7" cy="321.1" r="0.85"/><circle cx="304.1" cy="307.4" r="0.85"/><circle cx="296.1" cy="315.8" r="0.85"/><circle cx="304.4" cy="306.6" r="0.85"/><circle cx="295.9" cy="313.7" r="0.85"/><circle cx="310.8" cy="318.9" r="0.85"/><circle cx="318.5" cy="329.5" r="0.85"/><circle cx="298.5" cy="312.3" r="0.85"/><circle cx="313.6" cy="327.2" r="0.85"/><circle cx="307.9" cy="325.0" r="0.85"/><circle cx="308.6" cy="319.3" r="0.85"/><circle cx="315.5" cy="321.3" r="0.85"/><circle cx="305.9" cy="321.1" r="0.85"/><circle cx="306.2" cy="318.3" r="0.85"/><circle cx="311.4" cy="326.5" r="0.85"/><circle cx="311.0" cy="319.7" r="0.85"/><circle cx="308.1" cy="313.6" r="0.85"/><circle cx="318.0" cy="329.9" r="0.85"/><circle cx="311.0" cy="319.3" r="0.85"/><circle cx="299.1" cy="312.9" r="0.85"/><circle cx="313.6" cy="330.1" r="0.85"/><circle cx="298.5" cy="307.6" r="0.85"/><circle cx="299.0" cy="317.7" r="0.85"/><circle cx="312.4" cy="323.2" r="0.85"/><circle cx="301.0" cy="309.2" r="0.85"/><circle cx="312.7" cy="326.5" r="0.85"/><circle cx="310.5" cy="314.0" r="0.85"/><circle cx="296.1" cy="306.8" r="0.85"/><circle cx="309.2" cy="325.4" r="0.85"/><circle cx="314.6" cy="329.9" r="0.85"/><circle cx="308.0" cy="317.1" r="0.85"/><circle cx="311.9" cy="325.1" r="0.85"/><circle cx="307.0" cy="311.2" r="0.85"/><circle cx="300.4" cy="314.5" r="0.85"/><circle cx="302.4" cy="313.4" r="0.85"/><circle cx="302.6" cy="310.1" r="0.85"/><circle cx="296.6" cy="313.6" r="0.85"/><circle cx="307.2" cy="310.3" r="0.85"/><circle cx="315.2" cy="326.1" r="0.85"/><circle cx="297.2" cy="313.3" r="0.85"/><circle cx="314.8" cy="330.2" r="0.85"/><circle cx="295.9" cy="308.7" r="0.85"/><circle cx="296.4" cy="309.8" r="0.85"/><circle cx="309.2" cy="320.8" r="0.85"/><circle cx="310.7" cy="326.4" r="0.85"/><circle cx="312.0" cy="327.1" r="0.85"/><circle cx="316.9" cy="321.8" r="0.85"/><circle cx="298.9" cy="308.9" r="0.85"/><circle cx="299.1" cy="304.6" r="0.85"/><circle cx="316.5" cy="331.2" r="0.85"/><circle cx="316.4" cy="327.1" r="0.85"/><circle cx="318.3" cy="328.2" r="0.85"/><circle cx="305.3" cy="316.6" r="0.85"/><circle cx="316.1" cy="321.3" r="0.85"/><circle cx="315.3" cy="325.1" r="0.85"/><circle cx="315.1" cy="327.8" r="0.85"/><circle cx="306.3" cy="320.6" r="0.85"/><circle cx="316.1" cy="331.1" r="0.85"/><circle cx="314.3" cy="330.6" r="0.85"/><circle cx="296.9" cy="317.9" r="0.85"/><circle cx="299.7" cy="303.1" r="0.85"/><circle cx="319.9" cy="328.2" r="0.85"/><circle cx="301.9" cy="314.8" r="0.85"/><circle cx="316.3" cy="321.7" r="0.85"/><circle cx="315.2" cy="320.1" r="0.85"/><circle cx="320.3" cy="329.7" r="0.85"/><circle cx="296.2" cy="300.3" r="0.85"/><circle cx="299.1" cy="317.9" r="0.85"/><circle cx="313.4" cy="328.0" r="0.85"/><circle cx="296.2" cy="300.8" r="0.85"/><circle cx="314.3" cy="323.8" r="0.85"/><circle cx="302.0" cy="308.4" r="0.85"/><circle cx="312.3" cy="316.2" r="0.85"/><circle cx="307.2" cy="311.6" r="0.85"/><circle cx="315.1" cy="327.4" r="0.85"/><circle cx="298.3" cy="317.1" r="0.85"/><circle cx="315.5" cy="321.6" r="0.85"/><circle cx="310.9" cy="314.2" r="0.85"/><circle cx="297.0" cy="307.8" r="0.85"/><circle cx="297.3" cy="314.9" r="0.85"/><circle cx="315.3" cy="321.8" r="0.85"/><circle cx="313.2" cy="329.7" r="0.85"/><circle cx="315.9" cy="328.9" r="0.85"/><circle cx="303.6" cy="313.6" r="0.85"/><circle cx="299.2" cy="314.3" r="0.85"/><circle cx="311.2" cy="318.0" r="0.85"/><circle cx="315.2" cy="326.5" r="0.85"/><circle cx="314.1" cy="330.4" r="0.85"/><circle cx="308.1" cy="310.7" r="0.85"/><circle cx="302.2" cy="316.3" r="0.85"/><circle cx="311.4" cy="328.0" r="0.85"/><circle cx="321.8" cy="330.7" r="0.85"/><circle cx="316.9" cy="328.2" r="0.85"/><circle cx="316.7" cy="325.6" r="0.85"/><circle cx="302.1" cy="306.3" r="0.85"/><circle cx="300.6" cy="319.4" r="0.85"/><circle cx="300.8" cy="317.6" r="0.85"/><circle cx="313.0" cy="319.4" r="0.85"/><circle cx="298.3" cy="310.3" r="0.85"/><circle cx="303.7" cy="320.5" r="0.85"/><circle cx="302.7" cy="309.2" r="0.85"/><circle cx="296.4" cy="311.0" r="0.85"/><circle cx="317.7" cy="325.3" r="0.85"/><circle cx="305.1" cy="322.4" r="0.85"/><circle cx="307.7" cy="323.3" r="0.85"/><circle cx="321.8" cy="330.5" r="0.85"/><circle cx="317.4" cy="325.9" r="0.85"/><circle cx="304.1" cy="307.9" r="0.85"/><circle cx="318.6" cy="324.6" r="0.85"/><circle cx="315.5" cy="327.8" r="0.85"/><circle cx="302.1" cy="317.3" r="0.85"/><circle cx="308.7" cy="323.7" r="0.85"/><circle cx="296.0" cy="312.1" r="0.85"/><circle cx="302.5" cy="316.2" r="0.85"/><circle cx="311.5" cy="324.9" r="0.85"/><circle cx="321.1" cy="328.8" r="0.85"/><circle cx="312.1" cy="326.1" r="0.85"/><circle cx="299.8" cy="311.2" r="0.85"/><circle cx="314.0" cy="330.8" r="0.85"/><circle cx="328.3" cy="320.1" r="0.85"/><circle cx="322.2" cy="326.6" r="0.85"/><circle cx="304.5" cy="287.5" r="0.85"/><circle cx="333.1" cy="329.7" r="0.85"/><circle cx="320.6" cy="312.8" r="0.85"/><circle cx="316.8" cy="309.6" r="0.85"/><circle cx="305.4" cy="307.1" r="0.85"/><circle cx="319.6" cy="324.5" r="0.85"/><circle cx="298.6" cy="296.7" r="0.85"/><circle cx="322.8" cy="310.8" r="0.85"/><circle cx="314.9" cy="307.9" r="0.85"/><circle cx="309.0" cy="290.5" r="0.85"/><circle cx="322.9" cy="319.3" r="0.85"/><circle cx="327.1" cy="329.3" r="0.85"/><circle cx="303.5" cy="297.6" r="0.85"/><circle cx="311.5" cy="294.9" r="0.85"/><circle cx="328.4" cy="327.0" r="0.85"/><circle cx="321.9" cy="328.6" r="0.85"/><circle cx="316.6" cy="314.0" r="0.85"/><circle cx="324.7" cy="325.2" r="0.85"/><circle cx="327.4" cy="328.9" r="0.85"/><circle cx="301.0" cy="290.0" r="0.85"/><circle cx="309.6" cy="295.0" r="0.85"/><circle cx="320.3" cy="315.8" r="0.85"/><circle cx="301.9" cy="304.4" r="0.85"/><circle cx="314.2" cy="302.3" r="0.85"/><circle cx="330.0" cy="324.8" r="0.85"/><circle cx="313.3" cy="300.8" r="0.85"/><circle cx="302.4" cy="304.8" r="0.85"/><circle cx="299.7" cy="292.4" r="0.85"/><circle cx="304.9" cy="305.1" r="0.85"/><circle cx="303.8" cy="305.0" r="0.85"/><circle cx="305.9" cy="298.4" r="0.85"/><circle cx="334.5" cy="331.2" r="0.85"/><circle cx="300.8" cy="282.8" r="0.85"/><circle cx="318.4" cy="302.7" r="0.85"/><circle cx="317.8" cy="304.0" r="0.85"/><circle cx="322.3" cy="327.0" r="0.85"/><circle cx="318.5" cy="322.7" r="0.85"/><circle cx="326.4" cy="324.0" r="0.85"/><circle cx="325.6" cy="326.3" r="0.85"/><circle cx="327.7" cy="320.9" r="0.85"/><circle cx="324.1" cy="319.2" r="0.85"/><circle cx="323.4" cy="323.1" r="0.85"/><circle cx="320.1" cy="323.2" r="0.85"/><circle cx="312.4" cy="314.2" r="0.85"/><circle cx="326.4" cy="314.0" r="0.85"/><circle cx="326.2" cy="320.8" r="0.85"/><circle cx="309.1" cy="304.6" r="0.85"/><circle cx="324.1" cy="328.8" r="0.85"/><circle cx="315.6" cy="312.1" r="0.85"/><circle cx="303.0" cy="283.2" r="0.85"/><circle cx="328.8" cy="330.8" r="0.85"/><circle cx="319.9" cy="310.5" r="0.85"/><circle cx="307.6" cy="308.8" r="0.85"/><circle cx="319.8" cy="323.4" r="0.85"/><circle cx="326.3" cy="319.8" r="0.85"/><circle cx="312.6" cy="304.8" r="0.85"/><circle cx="300.4" cy="288.7" r="0.85"/><circle cx="314.0" cy="314.5" r="0.85"/><circle cx="318.4" cy="316.6" r="0.85"/><circle cx="301.8" cy="303.8" r="0.85"/><circle cx="302.0" cy="297.2" r="0.85"/><circle cx="315.1" cy="304.9" r="0.85"/><circle cx="334.3" cy="331.3" r="0.85"/><circle cx="324.7" cy="328.6" r="0.85"/><circle cx="303.1" cy="288.5" r="0.85"/><circle cx="316.7" cy="306.5" r="0.85"/><circle cx="323.1" cy="331.2" r="0.85"/><circle cx="323.2" cy="326.4" r="0.85"/><circle cx="325.4" cy="316.5" r="0.85"/><circle cx="317.3" cy="309.4" r="0.85"/><circle cx="321.1" cy="324.5" r="0.85"/><circle cx="315.3" cy="312.9" r="0.85"/><circle cx="313.0" cy="307.6" r="0.85"/><circle cx="318.2" cy="322.5" r="0.85"/><circle cx="329.8" cy="331.1" r="0.85"/><circle cx="313.3" cy="304.5" r="0.85"/><circle cx="310.9" cy="294.8" r="0.85"/><circle cx="328.5" cy="329.2" r="0.85"/><circle cx="316.2" cy="299.2" r="0.85"/><circle cx="328.9" cy="326.5" r="0.85"/><circle cx="321.5" cy="324.7" r="0.85"/><circle cx="316.4" cy="310.6" r="0.85"/><circle cx="306.2" cy="298.1" r="0.85"/><circle cx="318.6" cy="310.3" r="0.85"/><circle cx="316.5" cy="306.4" r="0.85"/><circle cx="296.4" cy="299.9" r="0.85"/><circle cx="298.8" cy="298.7" r="0.85"/><circle cx="325.5" cy="312.7" r="0.85"/><circle cx="332.3" cy="326.0" r="0.85"/><circle cx="300.8" cy="291.0" r="0.85"/><circle cx="328.6" cy="330.4" r="0.85"/><circle cx="320.9" cy="328.1" r="0.85"/><circle cx="315.5" cy="310.3" r="0.85"/><circle cx="312.8" cy="302.6" r="0.85"/><circle cx="321.4" cy="322.8" r="0.85"/><circle cx="328.7" cy="320.9" r="0.85"/><circle cx="319.9" cy="321.9" r="0.85"/><circle cx="322.8" cy="323.6" r="0.85"/><circle cx="322.4" cy="323.7" r="0.85"/><circle cx="324.9" cy="316.1" r="0.85"/><circle cx="314.3" cy="316.5" r="0.85"/><circle cx="318.9" cy="320.8" r="0.85"/><circle cx="317.9" cy="318.0" r="0.85"/><circle cx="318.5" cy="311.7" r="0.85"/><circle cx="303.7" cy="298.4" r="0.85"/><circle cx="325.9" cy="320.5" r="0.85"/><circle cx="320.3" cy="315.8" r="0.85"/><circle cx="321.5" cy="312.2" r="0.85"/><circle cx="317.2" cy="330.3" r="0.85"/><circle cx="320.4" cy="330.5" r="0.85"/><circle cx="336.1" cy="331.6" r="0.85"/><circle cx="329.8" cy="331.4" r="0.85"/><circle cx="316.9" cy="330.8" r="0.85"/><circle cx="335.2" cy="331.6" r="0.85"/><circle cx="322.5" cy="331.8" r="0.85"/><circle cx="337.8" cy="330.6" r="0.85"/><circle cx="325.9" cy="329.7" r="0.85"/><circle cx="338.3" cy="330.7" r="0.85"/><circle cx="341.2" cy="330.8" r="0.85"/><circle cx="336.9" cy="330.8" r="0.85"/><circle cx="327.3" cy="330.9" r="0.85"/><circle cx="340.0" cy="330.4" r="0.85"/><circle cx="329.8" cy="331.8" r="0.85"/><circle cx="339.4" cy="330.0" r="0.85"/><circle cx="336.7" cy="330.1" r="0.85"/><circle cx="322.7" cy="331.3" r="0.85"/><circle cx="336.9" cy="330.0" r="0.85"/><circle cx="336.2" cy="330.8" r="0.85"/><circle cx="324.3" cy="329.6" r="0.85"/><circle cx="340.6" cy="330.9" r="0.85"/><circle cx="328.0" cy="330.9" r="0.85"/><circle cx="335.4" cy="331.1" r="0.85"/><circle cx="340.4" cy="331.3" r="0.85"/><circle cx="327.1" cy="329.5" r="0.85"/><circle cx="328.4" cy="329.6" r="0.85"/><circle cx="340.3" cy="330.4" r="0.85"/><circle cx="325.1" cy="329.6" r="0.85"/><circle cx="315.8" cy="329.9" r="0.85"/><circle cx="323.6" cy="329.6" r="0.85"/><circle cx="337.1" cy="329.7" r="0.85"/><circle cx="334.3" cy="330.5" r="0.85"/><circle cx="331.3" cy="331.4" r="0.85"/><circle cx="329.4" cy="331.0" r="0.85"/><circle cx="325.4" cy="329.6" r="0.85"/><circle cx="338.0" cy="331.4" r="0.85"/><circle cx="316.4" cy="329.6" r="0.85"/><circle cx="320.6" cy="331.8" r="0.85"/><circle cx="321.2" cy="329.9" r="0.85"/><circle cx="321.2" cy="330.2" r="0.85"/><circle cx="327.1" cy="330.8" r="0.85"/><circle cx="334.8" cy="329.6" r="0.85"/><circle cx="327.4" cy="329.6" r="0.85"/><circle cx="341.4" cy="329.9" r="0.85"/><circle cx="325.9" cy="286.5" r="0.85"/><circle cx="324.5" cy="274.0" r="0.85"/><circle cx="329.7" cy="298.4" r="0.85"/><circle cx="338.8" cy="317.2" r="0.85"/><circle cx="324.2" cy="273.5" r="0.85"/><circle cx="324.1" cy="281.0" r="0.85"/><circle cx="317.5" cy="263.1" r="0.85"/><circle cx="327.7" cy="286.8" r="0.85"/><circle cx="336.0" cy="311.2" r="0.85"/><circle cx="329.6" cy="295.4" r="0.85"/><circle cx="327.7" cy="289.8" r="0.85"/><circle cx="325.5" cy="282.5" r="0.85"/><circle cx="305.0" cy="248.0" r="0.85"/><circle cx="316.8" cy="248.1" r="0.85"/><circle cx="314.3" cy="248.1" r="0.85"/><circle cx="311.8" cy="248.2" r="0.85"/></g>
<rect x="225.20" y="243.40" width="120.00" height="93.20" fill="none" stroke="#111" stroke-width="1.1" />
<line x1="222.20" y1="247.30" x2="225.20" y2="247.30" stroke="#222" stroke-width="0.8" />
<text x="221.10" y="249.68" font-size="6.6" text-anchor="end" fill="#333" stroke="#333" stroke-width="0.16" >≥150</text>
<line x1="222.20" y1="276.00" x2="225.20" y2="276.00" stroke="#222" stroke-width="0.8" />
<text x="221.10" y="278.38" font-size="6.6" text-anchor="end" fill="#333" stroke="#333" stroke-width="0.16" >100</text>
<line x1="222.20" y1="304.20" x2="225.20" y2="304.20" stroke="#222" stroke-width="0.8" />
<text x="221.10" y="306.58" font-size="6.6" text-anchor="end" fill="#333" stroke="#333" stroke-width="0.16" >50</text>
<line x1="222.20" y1="332.50" x2="225.20" y2="332.50" stroke="#222" stroke-width="0.8" />
<text x="221.10" y="334.88" font-size="6.6" text-anchor="end" fill="#333" stroke="#333" stroke-width="0.16" >0</text>
<line x1="232.20" y1="336.60" x2="232.20" y2="339.40" stroke="#222" stroke-width="0.8" />
<text x="232.20" y="348.98" font-size="6.6" text-anchor="middle" fill="#333" stroke="#333" stroke-width="0.16" >≤−3</text>
<line x1="249.90" y1="336.60" x2="249.90" y2="339.40" stroke="#222" stroke-width="0.8" />
<text x="249.90" y="348.98" font-size="6.6" text-anchor="middle" fill="#333" stroke="#333" stroke-width="0.16" >−2</text>
<line x1="267.60" y1="336.60" x2="267.60" y2="339.40" stroke="#222" stroke-width="0.8" />
<text x="267.60" y="348.98" font-size="6.6" text-anchor="middle" fill="#333" stroke="#333" stroke-width="0.16" >−1</text>
<line x1="285.30" y1="336.60" x2="285.30" y2="339.40" stroke="#222" stroke-width="0.8" />
<text x="285.30" y="348.98" font-size="6.6" text-anchor="middle" fill="#333" stroke="#333" stroke-width="0.16" >0</text>
<line x1="303.00" y1="336.60" x2="303.00" y2="339.40" stroke="#222" stroke-width="0.8" />
<text x="303.00" y="348.98" font-size="6.6" text-anchor="middle" fill="#333" stroke="#333" stroke-width="0.16" >1</text>
<line x1="320.70" y1="336.60" x2="320.70" y2="339.40" stroke="#222" stroke-width="0.8" />
<text x="320.70" y="348.98" font-size="6.6" text-anchor="middle" fill="#333" stroke="#333" stroke-width="0.16" >2</text>
<line x1="338.40" y1="336.60" x2="338.40" y2="339.40" stroke="#222" stroke-width="0.8" />
<text x="338.40" y="348.98" font-size="6.6" text-anchor="middle" fill="#333" stroke="#333" stroke-width="0.16" >≥3</text>
<text x="226.90" y="250.32" font-size="7.0" text-anchor="start" fill="#2f55a4" stroke="#2f55a4" stroke-width="0.16" textLength="10.6" lengthAdjust="spacingAndGlyphs" >374</text>
<text x="343.30" y="250.82" font-size="7.0" text-anchor="end" fill="#c8243a" stroke="#c8243a" stroke-width="0.16" textLength="9.4" lengthAdjust="spacingAndGlyphs" >923</text>
<text x="285.00" y="360.65" font-size="8.2" text-anchor="middle" fill="#333" stroke="#333" stroke-width="0.16" textLength="54.7" lengthAdjust="spacingAndGlyphs" >Log<tspan font-size="5.6" dy="1.8">2</tspan><tspan dy="-1.8"> fold−change</tspan></text>
<text x="285.30" y="371.25" font-size="8.2" text-anchor="middle" fill="#333" stroke="#333" stroke-width="0.16" textLength="90.6" lengthAdjust="spacingAndGlyphs" >(MOLM13, SGF29 KO vs. NTC)</text>
<text transform="translate(197.40,291.10) rotate(-90)" x="0" y="2.95" font-size="8.2" text-anchor="middle" fill="#333" stroke="#333" stroke-width="0.16" textLength="81" lengthAdjust="spacingAndGlyphs" >−Log<tspan font-size="5.6" dy="1.8">10</tspan><tspan dy="-1.8"> adjusted </tspan><tspan font-style="italic">P</tspan>−value</text>
<text x="246.90" y="254.32" font-size="4.5" text-anchor="start" fill="#333" stroke="#333" stroke-width="0.16" >GLD1</text>
<text x="255.00" y="269.02" font-size="4.5" text-anchor="start" fill="#333" stroke="#333" stroke-width="0.16" >PSAT1</text>
<text x="256.70" y="282.12" font-size="4.5" text-anchor="start" fill="#333" stroke="#333" stroke-width="0.16" >BMI1</text>
<text x="245.30" y="299.12" font-size="4.5" text-anchor="start" fill="#333" stroke="#333" stroke-width="0.16" >HOXA12</text>
<text x="258.40" y="304.02" font-size="4.5" text-anchor="start" fill="#333" stroke="#333" stroke-width="0.16" >TCF3</text>
<text x="250.20" y="310.52" font-size="4.5" text-anchor="start" fill="#333" stroke="#333" stroke-width="0.16" >CCND2</text>
<text x="251.80" y="316.42" font-size="4.5" text-anchor="start" fill="#333" stroke="#333" stroke-width="0.16" >SKIDA1</text>
<text x="232.20" y="313.82" font-size="4.5" text-anchor="start" fill="#333" stroke="#333" stroke-width="0.16" >HES1</text>
<text x="246.90" y="321.32" font-size="4.5" text-anchor="start" fill="#333" stroke="#333" stroke-width="0.16" >BCL11A</text>
<text x="250.20" y="325.02" font-size="4.5" text-anchor="start" fill="#333" stroke="#333" stroke-width="0.16" >GATA2</text>
<text x="240.40" y="328.52" font-size="4.5" text-anchor="start" fill="#333" stroke="#333" stroke-width="0.16" >CCND1</text>
<text x="251.80" y="334.12" font-size="4.5" text-anchor="start" fill="#333" stroke="#333" stroke-width="0.16" >TFTC</text>
<text x="328.60" y="254.32" font-size="4.5" text-anchor="start" fill="#333" stroke="#333" stroke-width="0.16" >MPO</text>
<text x="297.60" y="284.42" font-size="4.5" text-anchor="start" fill="#333" stroke="#333" stroke-width="0.16" >CDKN2A</text>
<text x="305.80" y="295.22" font-size="4.5" text-anchor="start" fill="#333" stroke="#333" stroke-width="0.16" >CSF3R</text>
<text x="304.10" y="301.02" font-size="4.5" text-anchor="start" fill="#333" stroke="#333" stroke-width="0.16" >IL7</text>
<text x="313.90" y="307.22" font-size="4.5" text-anchor="start" fill="#333" stroke="#333" stroke-width="0.16" >ITGAM</text>
<text x="317.20" y="310.82" font-size="4.5" text-anchor="start" fill="#333" stroke="#333" stroke-width="0.16" >S100A9</text>
<text x="322.10" y="315.02" font-size="4.5" text-anchor="start" fill="#333" stroke="#333" stroke-width="0.16" >CSF1R</text>
<text x="320.50" y="320.32" font-size="4.5" text-anchor="start" fill="#333" stroke="#333" stroke-width="0.16" >S100A8</text>
<text x="357.20" y="237.79" font-size="12" text-anchor="start" fill="#111" stroke="#111" stroke-width="0" font-weight="bold" >I</text>
<text x="424.40" y="254.36" font-size="7.4" text-anchor="middle" fill="#222" stroke="#222" stroke-width="0.16" textLength="16.2" lengthAdjust="spacingAndGlyphs" >UB3</text>
<line x1="395.50" y1="256.30" x2="444.30" y2="256.30" stroke="#cbb994" stroke-width="0.8" />
<text x="484.20" y="243.56" font-size="7.4" text-anchor="middle" fill="#222" stroke="#222" stroke-width="0.16" textLength="35" lengthAdjust="spacingAndGlyphs" >UB3 with</text>
<text x="484.00" y="254.36" font-size="7.4" text-anchor="middle" fill="#222" stroke="#222" stroke-width="0.16" textLength="57.1" lengthAdjust="spacingAndGlyphs" >HOXA9/MEIS1</text>
<line x1="456.50" y1="256.30" x2="513.30" y2="256.30" stroke="#cbb994" stroke-width="0.8" />
<line x1="392.10" y1="260.50" x2="392.10" y2="347.60" stroke="#222" stroke-width="1.0" />
<line x1="392.10" y1="347.10" x2="512.30" y2="347.10" stroke="#222" stroke-width="1.0" />
<line x1="456.10" y1="262.00" x2="456.10" y2="347.40" stroke="#222" stroke-width="1.4" />
<line x1="389.40" y1="347.20" x2="392.10" y2="347.20" stroke="#222" stroke-width="0.9" />
<text x="387.30" y="349.58" font-size="6.6" text-anchor="end" fill="#333" stroke="#333" stroke-width="0.16" >0</text>
<line x1="389.40" y1="330.30" x2="392.10" y2="330.30" stroke="#222" stroke-width="0.9" />
<text x="387.30" y="332.68" font-size="6.6" text-anchor="end" fill="#333" stroke="#333" stroke-width="0.16" >20</text>
<line x1="389.40" y1="313.40" x2="392.10" y2="313.40" stroke="#222" stroke-width="0.9" />
<text x="387.30" y="315.78" font-size="6.6" text-anchor="end" fill="#333" stroke="#333" stroke-width="0.16" >40</text>
<line x1="389.40" y1="296.50" x2="392.10" y2="296.50" stroke="#222" stroke-width="0.9" />
<text x="387.30" y="298.88" font-size="6.6" text-anchor="end" fill="#333" stroke="#333" stroke-width="0.16" >60</text>
<line x1="389.40" y1="279.60" x2="392.10" y2="279.60" stroke="#222" stroke-width="0.9" />
<text x="387.30" y="281.98" font-size="6.6" text-anchor="end" fill="#333" stroke="#333" stroke-width="0.16" >80</text>
<line x1="389.40" y1="262.70" x2="392.10" y2="262.70" stroke="#222" stroke-width="0.9" />
<text x="387.30" y="265.08" font-size="6.6" text-anchor="end" fill="#333" stroke="#333" stroke-width="0.16" >100</text>
<line x1="402.90" y1="347.10" x2="402.90" y2="350.20" stroke="#222" stroke-width="0.9" />
<text x="402.90" y="359.38" font-size="6.6" text-anchor="middle" fill="#333" stroke="#333" stroke-width="0.16" >2</text>
<line x1="417.40" y1="347.10" x2="417.40" y2="350.20" stroke="#222" stroke-width="0.9" />
<text x="417.40" y="359.38" font-size="6.6" text-anchor="middle" fill="#333" stroke="#333" stroke-width="0.16" >4</text>
<line x1="431.80" y1="347.10" x2="431.80" y2="350.20" stroke="#222" stroke-width="0.9" />
<text x="431.80" y="359.38" font-size="6.6" text-anchor="middle" fill="#333" stroke="#333" stroke-width="0.16" >7</text>
<line x1="446.00" y1="347.10" x2="446.00" y2="350.20" stroke="#222" stroke-width="0.9" />
<text x="446.00" y="359.38" font-size="6.6" text-anchor="middle" fill="#333" stroke="#333" stroke-width="0.16" >10</text>
<line x1="465.50" y1="347.10" x2="465.50" y2="350.20" stroke="#222" stroke-width="0.9" />
<text x="465.50" y="359.38" font-size="6.6" text-anchor="middle" fill="#333" stroke="#333" stroke-width="0.16" >2</text>
<line x1="480.30" y1="347.10" x2="480.30" y2="350.20" stroke="#222" stroke-width="0.9" />
<text x="480.30" y="359.38" font-size="6.6" text-anchor="middle" fill="#333" stroke="#333" stroke-width="0.16" >4</text>
<line x1="494.80" y1="347.10" x2="494.80" y2="350.20" stroke="#222" stroke-width="0.9" />
<text x="494.80" y="359.38" font-size="6.6" text-anchor="middle" fill="#333" stroke="#333" stroke-width="0.16" >7</text>
<line x1="509.30" y1="347.10" x2="509.30" y2="350.20" stroke="#222" stroke-width="0.9" />
<text x="509.30" y="359.38" font-size="6.6" text-anchor="middle" fill="#333" stroke="#333" stroke-width="0.16" >10</text>
<text x="452.90" y="371.18" font-size="8.0" text-anchor="middle" fill="#333" stroke="#333" stroke-width="0.16" textLength="14.2" lengthAdjust="spacingAndGlyphs" >Days</text>
<text transform="translate(366.90,304.00) rotate(-90)" x="0" y="2.74" font-size="7.6" text-anchor="middle" fill="#333" stroke="#333" stroke-width="0.16" textLength="31.4" lengthAdjust="spacingAndGlyphs" >% NTC-sg1</text>
<path d="M402.90,262.70 L417.40,262.70 L431.80,262.70 L446.00,262.70" fill="none" stroke="#1f5f96" stroke-width="0.9" />
<circle cx="402.90" cy="262.70" r="1.30" fill="#1f5f96" stroke="none" stroke-width="0.5" />
<circle cx="417.40" cy="262.70" r="1.30" fill="#1f5f96" stroke="none" stroke-width="0.5" />
<circle cx="431.80" cy="262.70" r="1.30" fill="#1f5f96" stroke="none" stroke-width="0.5" />
<circle cx="446.00" cy="262.70" r="1.30" fill="#1f5f96" stroke="none" stroke-width="0.5" />
<path d="M465.50,262.70 L480.30,262.70 L494.80,262.70 L509.30,262.70" fill="none" stroke="#1f5f96" stroke-width="0.9" />
<circle cx="465.50" cy="262.70" r="1.30" fill="#1f5f96" stroke="none" stroke-width="0.5" />
<circle cx="480.30" cy="262.70" r="1.30" fill="#1f5f96" stroke="none" stroke-width="0.5" />
<circle cx="494.80" cy="262.70" r="1.30" fill="#1f5f96" stroke="none" stroke-width="0.5" />
<circle cx="509.30" cy="262.70" r="1.30" fill="#1f5f96" stroke="none" stroke-width="0.5" />
<path d="M402.90,269.46 L417.40,287.20 L431.80,293.12 L446.00,310.87" fill="none" stroke="#b8202e" stroke-width="0.9" />
<line x1="402.90" y1="266.08" x2="402.90" y2="272.84" stroke="#b8202e" stroke-width="0.6" />
<line x1="401.70" y1="266.08" x2="404.10" y2="266.08" stroke="#b8202e" stroke-width="0.6" />
<line x1="401.70" y1="272.84" x2="404.10" y2="272.84" stroke="#b8202e" stroke-width="0.6" />
<circle cx="402.90" cy="269.46" r="1.30" fill="#b8202e" stroke="none" stroke-width="0.5" />
<line x1="417.40" y1="280.44" x2="417.40" y2="293.96" stroke="#b8202e" stroke-width="0.6" />
<line x1="416.20" y1="280.44" x2="418.60" y2="280.44" stroke="#b8202e" stroke-width="0.6" />
<line x1="416.20" y1="293.96" x2="418.60" y2="293.96" stroke="#b8202e" stroke-width="0.6" />
<circle cx="417.40" cy="287.20" r="1.30" fill="#b8202e" stroke="none" stroke-width="0.5" />
<line x1="431.80" y1="288.05" x2="431.80" y2="298.19" stroke="#b8202e" stroke-width="0.6" />
<line x1="430.60" y1="288.05" x2="433.00" y2="288.05" stroke="#b8202e" stroke-width="0.6" />
<line x1="430.60" y1="298.19" x2="433.00" y2="298.19" stroke="#b8202e" stroke-width="0.6" />
<circle cx="431.80" cy="293.12" r="1.30" fill="#b8202e" stroke="none" stroke-width="0.5" />
<line x1="446.00" y1="308.33" x2="446.00" y2="313.40" stroke="#b8202e" stroke-width="0.6" />
<line x1="444.80" y1="308.33" x2="447.20" y2="308.33" stroke="#b8202e" stroke-width="0.6" />
<line x1="444.80" y1="313.40" x2="447.20" y2="313.40" stroke="#b8202e" stroke-width="0.6" />
<circle cx="446.00" cy="310.87" r="1.30" fill="#b8202e" stroke="none" stroke-width="0.5" />
<path d="M465.50,272.84 L480.30,282.98 L494.80,272.84 L509.30,277.91" fill="none" stroke="#b8202e" stroke-width="0.9" />
<line x1="465.50" y1="268.62" x2="465.50" y2="277.06" stroke="#b8202e" stroke-width="0.6" />
<line x1="464.30" y1="268.62" x2="466.70" y2="268.62" stroke="#b8202e" stroke-width="0.6" />
<line x1="464.30" y1="277.06" x2="466.70" y2="277.06" stroke="#b8202e" stroke-width="0.6" />
<circle cx="465.50" cy="272.84" r="1.30" fill="#b8202e" stroke="none" stroke-width="0.5" />
<line x1="480.30" y1="274.53" x2="480.30" y2="291.43" stroke="#b8202e" stroke-width="0.6" />
<line x1="479.10" y1="274.53" x2="481.50" y2="274.53" stroke="#b8202e" stroke-width="0.6" />
<line x1="479.10" y1="291.43" x2="481.50" y2="291.43" stroke="#b8202e" stroke-width="0.6" />
<circle cx="480.30" cy="282.98" r="1.30" fill="#b8202e" stroke="none" stroke-width="0.5" />
<line x1="494.80" y1="266.93" x2="494.80" y2="278.75" stroke="#b8202e" stroke-width="0.6" />
<line x1="493.60" y1="266.93" x2="496.00" y2="266.93" stroke="#b8202e" stroke-width="0.6" />
<line x1="493.60" y1="278.75" x2="496.00" y2="278.75" stroke="#b8202e" stroke-width="0.6" />
<circle cx="494.80" cy="272.84" r="1.30" fill="#b8202e" stroke="none" stroke-width="0.5" />
<line x1="509.30" y1="272.84" x2="509.30" y2="282.98" stroke="#b8202e" stroke-width="0.6" />
<line x1="508.10" y1="272.84" x2="510.50" y2="272.84" stroke="#b8202e" stroke-width="0.6" />
<line x1="508.10" y1="282.98" x2="510.50" y2="282.98" stroke="#b8202e" stroke-width="0.6" />
<circle cx="509.30" cy="277.91" r="1.30" fill="#b8202e" stroke="none" stroke-width="0.5" />
<line x1="466.20" y1="322.30" x2="474.60" y2="322.30" stroke="#1f5f96" stroke-width="0.9" />
<circle cx="470.40" cy="322.30" r="1.30" fill="#1f5f96" stroke="none" stroke-width="0.5" />
<text x="478.20" y="324.60" font-size="6.4" text-anchor="start" fill="#333" stroke="#333" stroke-width="0.16" textLength="25.2" lengthAdjust="spacingAndGlyphs" >NTC-sg1</text>
<line x1="466.20" y1="331.80" x2="474.60" y2="331.80" stroke="#b8202e" stroke-width="0.9" />
<circle cx="470.40" cy="331.80" r="1.30" fill="#b8202e" stroke="none" stroke-width="0.5" />
<text x="478.20" y="334.10" font-size="6.4" text-anchor="start" fill="#333" stroke="#333" stroke-width="0.16" textLength="31.8" lengthAdjust="spacingAndGlyphs" >SGF29-sg1</text>
<text x="6.60" y="393.89" font-size="12" text-anchor="start" fill="#111" stroke="#111" stroke-width="0" font-weight="bold" >J</text>
<text x="205.80" y="392.19" font-size="8.3" text-anchor="middle" fill="#222" stroke="#222" stroke-width="0.16" textLength="59.2" lengthAdjust="spacingAndGlyphs" >Downregulated</text>
<text x="206.10" y="402.09" font-size="8.3" text-anchor="middle" fill="#222" stroke="#222" stroke-width="0.16" textLength="49.3" lengthAdjust="spacingAndGlyphs" >in SGF29 KO</text>
<rect x="178.60" y="407.40" width="54.10" height="131.10" fill="none" stroke="#111" stroke-width="1.1" />
<line x1="176.00" y1="415.10" x2="178.60" y2="415.10" stroke="#222" stroke-width="0.8" />
<text x="172.40" y="417.40" font-size="6.4" text-anchor="end" fill="#333" stroke="#333" stroke-width="0.16" textLength="55.4" lengthAdjust="spacingAndGlyphs" >BENPORATH_ES_1</text>
<circle cx="185.55" cy="415.10" r="2.50" fill="#5c5aa6" stroke="none" stroke-width="0.5" />
<line x1="176.00" y1="428.00" x2="178.60" y2="428.00" stroke="#222" stroke-width="0.8" />
<text x="172.40" y="430.30" font-size="6.4" text-anchor="end" fill="#333" stroke="#333" stroke-width="0.16" textLength="122.7" lengthAdjust="spacingAndGlyphs" >WONG_EMBRYONIC_STEM_CELL_CORE</text>
<circle cx="191.25" cy="428.00" r="2.60" fill="#55559f" stroke="none" stroke-width="0.5" />
<line x1="176.00" y1="440.90" x2="178.60" y2="440.90" stroke="#222" stroke-width="0.8" />
<text x="172.40" y="443.20" font-size="6.4" text-anchor="end" fill="#333" stroke="#333" stroke-width="0.16" textLength="109.6" lengthAdjust="spacingAndGlyphs" >SCHUHMACHER_MYC_TARGETS_UP</text>
<circle cx="196.15" cy="440.90" r="1.70" fill="#4b4a93" stroke="none" stroke-width="0.5" />
<line x1="176.00" y1="453.80" x2="178.60" y2="453.80" stroke="#222" stroke-width="0.8" />
<text x="172.40" y="456.10" font-size="6.4" text-anchor="end" fill="#333" stroke="#333" stroke-width="0.16" textLength="136.3" lengthAdjust="spacingAndGlyphs" >WHITEFORD_PEDIATRIC_CANCER_MARKERS</text>
<circle cx="209.18" cy="453.80" r="2.00" fill="#d23a3a" stroke="none" stroke-width="0.5" />
<line x1="176.00" y1="466.70" x2="178.60" y2="466.70" stroke="#222" stroke-width="0.8" />
<text x="172.40" y="469.00" font-size="6.4" text-anchor="end" fill="#333" stroke="#333" stroke-width="0.16" textLength="68.6" lengthAdjust="spacingAndGlyphs" >YU_MYC_TARGETS_UP</text>
<circle cx="212.44" cy="466.70" r="1.30" fill="#d8343a" stroke="none" stroke-width="0.5" />
<line x1="176.00" y1="479.60" x2="178.60" y2="479.60" stroke="#222" stroke-width="0.8" />
<text x="172.40" y="481.90" font-size="6.4" text-anchor="end" fill="#333" stroke="#333" stroke-width="0.16" textLength="100.3" lengthAdjust="spacingAndGlyphs" >DANG_REGULATED_BY_MYC_UP</text>
<circle cx="218.15" cy="479.60" r="1.80" fill="#d43a3a" stroke="none" stroke-width="0.5" />
<line x1="176.00" y1="492.50" x2="178.60" y2="492.50" stroke="#222" stroke-width="0.8" />
<text x="172.40" y="494.80" font-size="6.4" text-anchor="end" fill="#333" stroke="#333" stroke-width="0.16" textLength="102.4" lengthAdjust="spacingAndGlyphs" >CHEN_HOXA5_TARGETS_9HR_UP</text>
<circle cx="220.59" cy="492.50" r="2.70" fill="#d8383a" stroke="none" stroke-width="0.5" />
<line x1="176.00" y1="505.40" x2="178.60" y2="505.40" stroke="#222" stroke-width="0.8" />
<text x="172.40" y="507.70" font-size="6.4" text-anchor="end" fill="#333" stroke="#333" stroke-width="0.16" textLength="117.2" lengthAdjust="spacingAndGlyphs" >MOHANKUMAR_HOXA1_TARGETS_UP</text>
<circle cx="222.22" cy="505.40" r="3.20" fill="#de3a34" stroke="none" stroke-width="0.5" />
<line x1="176.00" y1="518.30" x2="178.60" y2="518.30" stroke="#222" stroke-width="0.8" />
<text x="172.40" y="520.60" font-size="6.4" text-anchor="end" fill="#333" stroke="#333" stroke-width="0.16" textLength="123.6" lengthAdjust="spacingAndGlyphs" >SOGA_COLORECTAL_CANCER_MYC_UP</text>
<circle cx="221.82" cy="518.30" r="2.10" fill="#d23a3a" stroke="none" stroke-width="0.5" />
<line x1="176.00" y1="531.20" x2="178.60" y2="531.20" stroke="#222" stroke-width="0.8" />
<text x="172.40" y="533.50" font-size="6.4" text-anchor="end" fill="#333" stroke="#333" stroke-width="0.16" textLength="135.4" lengthAdjust="spacingAndGlyphs" >HESS_TARGETS_OF_HOXA9_AND_MEIS1_UP</text>
<circle cx="226.30" cy="531.20" r="1.80" fill="#d23a3a" stroke="none" stroke-width="0.5" />
<line x1="193.70" y1="538.50" x2="193.70" y2="541.80" stroke="#222" stroke-width="0.8" />
<text x="193.10" y="551.34" font-size="6.5" text-anchor="middle" fill="#222" stroke="#222" stroke-width="0.16" textLength="12.4" lengthAdjust="spacingAndGlyphs" >−2.6</text>
<line x1="210.00" y1="538.50" x2="210.00" y2="541.80" stroke="#222" stroke-width="0.8" />
<text x="209.40" y="551.34" font-size="6.5" text-anchor="middle" fill="#222" stroke="#222" stroke-width="0.16" textLength="12.4" lengthAdjust="spacingAndGlyphs" >−2.4</text>
<line x1="226.30" y1="538.50" x2="226.30" y2="541.80" stroke="#222" stroke-width="0.8" />
<text x="225.70" y="551.34" font-size="6.5" text-anchor="middle" fill="#222" stroke="#222" stroke-width="0.16" textLength="12.4" lengthAdjust="spacingAndGlyphs" >−2.2</text>
<text x="206.00" y="562.72" font-size="8.4" text-anchor="middle" fill="#333" stroke="#333" stroke-width="0.16" textLength="12.1" lengthAdjust="spacingAndGlyphs" >NES</text>
<text x="14.30" y="417.08" font-size="6.6" text-anchor="start" fill="#333" stroke="#333" stroke-width="0.16" textLength="11.4" lengthAdjust="spacingAndGlyphs" >FDR</text>
<defs><linearGradient id="fdr" x1="0" y1="0" x2="0" y2="1"><stop offset="0" stop-color="#384c8e"/><stop offset="0.3" stop-color="#7a2a7e"/><stop offset="0.55" stop-color="#c2107e"/><stop offset="1" stop-color="#dc1048"/></linearGradient><linearGradient id="gsea" x1="0" y1="0" x2="1" y2="0"><stop offset="0" stop-color="#d42a3c"/><stop offset="0.22" stop-color="#e06a7a"/><stop offset="0.36" stop-color="#f2d6dc"/><stop offset="0.5" stop-color="#f4f2f8"/><stop offset="0.66" stop-color="#a8a6d6"/><stop offset="1" stop-color="#303090"/></linearGradient></defs>
<rect x="17.60" y="421.40" width="6.30" height="34.70" fill="url(#fdr)" stroke="none" stroke-width="0.8" />
<text x="26.20" y="425.90" font-size="6.4" text-anchor="start" fill="#333" stroke="#333" stroke-width="0.16" >7</text>
<text x="26.20" y="435.90" font-size="6.4" text-anchor="start" fill="#333" stroke="#333" stroke-width="0.16" >6</text>
<text x="26.20" y="445.60" font-size="6.4" text-anchor="start" fill="#333" stroke="#333" stroke-width="0.16" >5</text>
<text x="26.20" y="455.60" font-size="6.4" text-anchor="start" fill="#333" stroke="#333" stroke-width="0.16" >4</text>
<text x="14.30" y="477.38" font-size="6.6" text-anchor="start" fill="#333" stroke="#333" stroke-width="0.16" textLength="11.4" lengthAdjust="spacingAndGlyphs" >Size</text>
<circle cx="19.30" cy="482.90" r="2.00" fill="#111" stroke="none" stroke-width="0.5" />
<text x="25.70" y="485.20" font-size="6.4" text-anchor="start" fill="#333" stroke="#333" stroke-width="0.16" textLength="10" lengthAdjust="spacingAndGlyphs" >100</text>
<circle cx="19.30" cy="491.40" r="2.70" fill="#111" stroke="none" stroke-width="0.5" />
<text x="25.70" y="493.70" font-size="6.4" text-anchor="start" fill="#333" stroke="#333" stroke-width="0.16" textLength="10" lengthAdjust="spacingAndGlyphs" >200</text>
<circle cx="19.30" cy="500.00" r="3.20" fill="#111" stroke="none" stroke-width="0.5" />
<text x="25.70" y="502.30" font-size="6.4" text-anchor="start" fill="#333" stroke="#333" stroke-width="0.16" textLength="10" lengthAdjust="spacingAndGlyphs" >300</text>
<text x="248.20" y="394.09" font-size="12" text-anchor="start" fill="#111" stroke="#111" stroke-width="0" font-weight="bold" >K</text>
<text x="336.70" y="393.87" font-size="6.3" text-anchor="middle" fill="#333" stroke="#333" stroke-width="0.16" textLength="77.9" lengthAdjust="spacingAndGlyphs" >BROWN_MYELOID_CELL_</text>
<text x="336.60" y="401.17" font-size="6.3" text-anchor="middle" fill="#333" stroke="#333" stroke-width="0.16" textLength="60.6" lengthAdjust="spacingAndGlyphs" >DEVELOPMENT_DN</text>
<rect x="288.45" y="447.30" width="1.10" height="13.40" fill="#1a1a1a"/><rect x="294.25" y="447.30" width="1.10" height="13.40" fill="#333"/><rect x="301.25" y="447.30" width="0.90" height="13.40" fill="#111"/><rect x="303.45" y="447.30" width="1.10" height="13.40" fill="#1a1a1a"/><rect x="305.05" y="447.30" width="1.10" height="13.40" fill="#1a1a1a"/><rect x="307.65" y="447.30" width="0.70" height="13.40" fill="#555"/><rect x="312.20" y="447.30" width="0.60" height="13.40" fill="#333"/><rect x="314.95" y="447.30" width="0.90" height="13.40" fill="#111"/><rect x="318.05" y="447.30" width="0.70" height="13.40" fill="#1a1a1a"/><rect x="320.60" y="447.30" width="0.60" height="13.40" fill="#111"/><rect x="321.85" y="447.30" width="0.90" height="13.40" fill="#777"/><rect x="322.85" y="447.30" width="0.70" height="13.40" fill="#1a1a1a"/><rect x="323.75" y="447.30" width="0.90" height="13.40" fill="#333"/><rect x="324.90" y="447.30" width="0.60" height="13.40" fill="#555"/><rect x="327.15" y="447.30" width="0.90" height="13.40" fill="#1a1a1a"/><rect x="329.85" y="447.30" width="0.50" height="13.40" fill="#555"/><rect x="332.55" y="447.30" width="0.90" height="13.40" fill="#333"/><rect x="334.70" y="447.30" width="0.60" height="13.40" fill="#111"/><rect x="337.45" y="447.30" width="1.10" height="13.40" fill="#333"/><rect x="340.55" y="447.30" width="0.70" height="13.40" fill="#555"/><rect x="342.45" y="447.30" width="0.90" height="13.40" fill="#1a1a1a"/><rect x="344.35" y="447.30" width="0.90" height="13.40" fill="#111"/><rect x="346.75" y="447.30" width="0.90" height="13.40" fill="#555"/><rect x="348.45" y="447.30" width="0.50" height="13.40" fill="#555"/><rect x="349.40" y="447.30" width="0.60" height="13.40" fill="#777"/><rect x="350.45" y="447.30" width="0.50" height="13.40" fill="#333"/><rect x="352.45" y="447.30" width="0.50" height="13.40" fill="#333"/><rect x="354.25" y="447.30" width="0.70" height="13.40" fill="#111"/><rect x="355.85" y="447.30" width="0.70" height="13.40" fill="#777"/><rect x="357.30" y="447.30" width="0.60" height="13.40" fill="#111"/><rect x="358.45" y="447.30" width="0.90" height="13.40" fill="#1a1a1a"/><rect x="360.15" y="447.30" width="0.70" height="13.40" fill="#111"/><rect x="362.20" y="447.30" width="0.60" height="13.40" fill="#555"/><rect x="363.65" y="447.30" width="0.70" height="13.40" fill="#777"/><rect x="364.95" y="447.30" width="0.90" height="13.40" fill="#1a1a1a"/><rect x="365.95" y="447.30" width="0.90" height="13.40" fill="#777"/><rect x="367.05" y="447.30" width="0.70" height="13.40" fill="#1a1a1a"/><rect x="367.85" y="447.30" width="1.10" height="13.40" fill="#111"/><rect x="370.45" y="447.30" width="0.50" height="13.40" fill="#111"/><rect x="372.05" y="447.30" width="0.50" height="13.40" fill="#777"/><rect x="374.25" y="447.30" width="0.70" height="13.40" fill="#777"/><rect x="375.75" y="447.30" width="0.90" height="13.40" fill="#111"/><rect x="377.65" y="447.30" width="1.10" height="13.40" fill="#777"/><rect x="379.65" y="447.30" width="0.90" height="13.40" fill="#1a1a1a"/><rect x="382.80" y="447.30" width="0.60" height="13.40" fill="#1a1a1a"/>
<rect x="288.20" y="460.70" width="92.10" height="3.40" fill="url(#gsea)" stroke="none" stroke-width="0.8" />
<line x1="288.20" y1="409.20" x2="384.90" y2="409.20" stroke="#333" stroke-width="0.7" />
<path d="M288.40,409.10 L296.00,413.80 L305.20,419.20 L315.00,424.60 L325.40,430.30 L333.00,434.60 L341.50,439.40 L348.00,442.60 L355.70,444.90 L358.00,444.60 L361.70,443.50 L365.00,442.20 L367.80,440.50 L370.00,439.20 L371.80,437.50 L373.80,434.50 L375.90,430.30 L377.30,427.50 L378.30,424.20 L379.30,418.50 L379.90,414.10 L380.90,409.10" fill="none" stroke="#62b862" stroke-width="0.8" />
<rect x="288.20" y="405.60" width="96.70" height="58.50" fill="none" stroke="#111" stroke-width="1.0" />
<line x1="288.20" y1="447.30" x2="384.90" y2="447.30" stroke="#111" stroke-width="0.8" />
<line x1="288.20" y1="460.70" x2="384.90" y2="460.70" stroke="#111" stroke-width="0.4" />
<line x1="285.40" y1="409.60" x2="288.20" y2="409.60" stroke="#222" stroke-width="0.7" />
<text x="282.40" y="411.94" font-size="6.5" text-anchor="end" fill="#222" stroke="#222" stroke-width="0.16" >0.0</text>
<line x1="285.40" y1="416.00" x2="288.20" y2="416.00" stroke="#222" stroke-width="0.7" />
<text x="282.40" y="418.34" font-size="6.5" text-anchor="end" fill="#222" stroke="#222" stroke-width="0.16" >−0.1</text>
<line x1="285.40" y1="422.30" x2="288.20" y2="422.30" stroke="#222" stroke-width="0.7" />
<text x="282.40" y="424.64" font-size="6.5" text-anchor="end" fill="#222" stroke="#222" stroke-width="0.16" >−0.2</text>
<line x1="285.40" y1="428.60" x2="288.20" y2="428.60" stroke="#222" stroke-width="0.7" />
<text x="282.40" y="430.94" font-size="6.5" text-anchor="end" fill="#222" stroke="#222" stroke-width="0.16" >−0.3</text>
<line x1="285.40" y1="435.00" x2="288.20" y2="435.00" stroke="#222" stroke-width="0.7" />
<text x="282.40" y="437.34" font-size="6.5" text-anchor="end" fill="#222" stroke="#222" stroke-width="0.16" >−0.4</text>
<line x1="285.40" y1="441.40" x2="288.20" y2="441.40" stroke="#222" stroke-width="0.7" />
<text x="282.40" y="443.74" font-size="6.5" text-anchor="end" fill="#222" stroke="#222" stroke-width="0.16" >−0.5</text>
<text transform="translate(262.50,434.85) rotate(-90)" x="0" y="3.02" font-size="8.4" text-anchor="middle" fill="#333" stroke="#333" stroke-width="0.16" textLength="64.6" lengthAdjust="spacingAndGlyphs" >Enrichment score (ES)</text>
<text x="337.10" y="416.75" font-size="6.8" text-anchor="start" fill="#222" stroke="#222" stroke-width="0.16" textLength="37.5" lengthAdjust="spacingAndGlyphs" >NES = −2.49</text>
<text x="337.10" y="424.45" font-size="6.8" text-anchor="start" fill="#222" stroke="#222" stroke-width="0.16" textLength="32.7" lengthAdjust="spacingAndGlyphs" >FDR = 0.00</text>
<text x="289.80" y="472.48" font-size="6.6" text-anchor="start" fill="#d9536a" stroke="#d9536a" stroke-width="0.16" textLength="30.8" lengthAdjust="spacingAndGlyphs" >SGF29 KO</text>
<text x="376.90" y="472.48" font-size="6.6" text-anchor="end" fill="#4a64aa" stroke="#4a64aa" stroke-width="0.16" textLength="13.1" lengthAdjust="spacingAndGlyphs" >NTC</text>
<text x="466.20" y="393.47" font-size="6.3" text-anchor="middle" fill="#333" stroke="#333" stroke-width="0.16" textLength="71.1" lengthAdjust="spacingAndGlyphs" >SCHUHMACHER_MYC_</text>
<text x="466.20" y="401.17" font-size="6.3" text-anchor="middle" fill="#333" stroke="#333" stroke-width="0.16" textLength="40.3" lengthAdjust="spacingAndGlyphs" >TARGETS_UP</text>
<rect x="435.25" y="449.40" width="0.90" height="13.90" fill="#555"/><rect x="437.15" y="449.40" width="0.90" height="13.90" fill="#1a1a1a"/><rect x="441.00" y="449.40" width="0.60" height="13.90" fill="#555"/><rect x="445.75" y="449.40" width="0.50" height="13.90" fill="#555"/><rect x="450.15" y="449.40" width="0.90" height="13.90" fill="#555"/><rect x="452.25" y="449.40" width="0.50" height="13.90" fill="#777"/><rect x="454.95" y="449.40" width="0.70" height="13.90" fill="#1a1a1a"/><rect x="456.90" y="449.40" width="0.60" height="13.90" fill="#555"/><rect x="459.45" y="449.40" width="1.10" height="13.90" fill="#777"/><rect x="463.40" y="449.40" width="0.60" height="13.90" fill="#555"/><rect x="465.25" y="449.40" width="0.70" height="13.90" fill="#555"/><rect x="467.10" y="449.40" width="0.60" height="13.90" fill="#555"/><rect x="469.75" y="449.40" width="0.90" height="13.90" fill="#111"/><rect x="471.55" y="449.40" width="1.10" height="13.90" fill="#1a1a1a"/><rect x="474.55" y="449.40" width="0.70" height="13.90" fill="#555"/><rect x="477.25" y="449.40" width="0.90" height="13.90" fill="#555"/><rect x="480.15" y="449.40" width="0.70" height="13.90" fill="#111"/><rect x="482.10" y="449.40" width="0.60" height="13.90" fill="#111"/><rect x="483.95" y="449.40" width="0.50" height="13.90" fill="#555"/><rect x="486.65" y="449.40" width="0.70" height="13.90" fill="#111"/><rect x="488.60" y="449.40" width="0.60" height="13.90" fill="#1a1a1a"/><rect x="491.40" y="449.40" width="0.60" height="13.90" fill="#111"/><rect x="493.25" y="449.40" width="0.70" height="13.90" fill="#1a1a1a"/><rect x="496.10" y="449.40" width="0.60" height="13.90" fill="#1a1a1a"/><rect x="497.75" y="449.40" width="0.90" height="13.90" fill="#1a1a1a"/><rect x="499.75" y="449.40" width="0.70" height="13.90" fill="#333"/><rect x="502.60" y="449.40" width="0.60" height="13.90" fill="#333"/><rect x="504.45" y="449.40" width="0.70" height="13.90" fill="#333"/><rect x="506.15" y="449.40" width="0.90" height="13.90" fill="#1a1a1a"/><rect x="509.05" y="449.40" width="0.70" height="13.90" fill="#111"/>
<rect x="420.00" y="463.30" width="87.30" height="3.80" fill="url(#gsea)" stroke="none" stroke-width="0.8" />
<line x1="420.00" y1="408.30" x2="512.00" y2="408.30" stroke="#333" stroke-width="0.7" />
<path d="M420.00,408.30 L427.00,413.50 L433.00,417.80 L440.00,419.60 L447.00,425.00 L455.40,430.40 L466.20,437.30 L472.00,440.20 L478.50,442.70 L484.00,444.50 L489.20,446.60 L491.50,445.00 L493.80,442.70 L496.00,438.50 L498.50,431.90 L501.50,425.00 L503.00,425.80 L504.60,416.50 L506.00,411.50 L507.70,407.60" fill="none" stroke="#62b862" stroke-width="0.8" />
<rect x="420.00" y="406.00" width="92.00" height="61.10" fill="none" stroke="#111" stroke-width="1.0" />
<line x1="420.00" y1="449.40" x2="512.00" y2="449.40" stroke="#111" stroke-width="0.8" />
<line x1="420.00" y1="463.30" x2="512.00" y2="463.30" stroke="#111" stroke-width="0.4" />
<line x1="417.20" y1="408.40" x2="420.00" y2="408.40" stroke="#222" stroke-width="0.7" />
<text x="414.40" y="410.74" font-size="6.5" text-anchor="end" fill="#222" stroke="#222" stroke-width="0.16" >0.0</text>
<line x1="417.20" y1="414.60" x2="420.00" y2="414.60" stroke="#222" stroke-width="0.7" />
<text x="414.40" y="416.94" font-size="6.5" text-anchor="end" fill="#222" stroke="#222" stroke-width="0.16" >−0.1</text>
<line x1="417.20" y1="420.80" x2="420.00" y2="420.80" stroke="#222" stroke-width="0.7" />
<text x="414.40" y="423.14" font-size="6.5" text-anchor="end" fill="#222" stroke="#222" stroke-width="0.16" >−0.2</text>
<line x1="417.20" y1="427.00" x2="420.00" y2="427.00" stroke="#222" stroke-width="0.7" />
<text x="414.40" y="429.34" font-size="6.5" text-anchor="end" fill="#222" stroke="#222" stroke-width="0.16" >−0.3</text>
<line x1="417.20" y1="433.20" x2="420.00" y2="433.20" stroke="#222" stroke-width="0.7" />
<text x="414.40" y="435.54" font-size="6.5" text-anchor="end" fill="#222" stroke="#222" stroke-width="0.16" >−0.4</text>
<line x1="417.20" y1="439.60" x2="420.00" y2="439.60" stroke="#222" stroke-width="0.7" />
<text x="414.40" y="441.94" font-size="6.5" text-anchor="end" fill="#222" stroke="#222" stroke-width="0.16" >−0.5</text>
<line x1="417.20" y1="445.80" x2="420.00" y2="445.80" stroke="#222" stroke-width="0.7" />
<text x="414.40" y="448.14" font-size="6.5" text-anchor="end" fill="#222" stroke="#222" stroke-width="0.16" >−0.6</text>
<text transform="translate(395.40,436.55) rotate(-90)" x="0" y="3.02" font-size="8.4" text-anchor="middle" fill="#333" stroke="#333" stroke-width="0.16" textLength="64.6" lengthAdjust="spacingAndGlyphs" >Enrichment score (ES)</text>
<text x="465.20" y="415.25" font-size="6.8" text-anchor="start" fill="#222" stroke="#222" stroke-width="0.16" textLength="35.2" lengthAdjust="spacingAndGlyphs" >NES = −2.57</text>
<text x="465.20" y="422.95" font-size="6.8" text-anchor="start" fill="#222" stroke="#222" stroke-width="0.16" textLength="31.7" lengthAdjust="spacingAndGlyphs" >FDR = 0.00</text>
<text x="422.10" y="474.88" font-size="6.6" text-anchor="start" fill="#d9536a" stroke="#d9536a" stroke-width="0.16" textLength="30.3" lengthAdjust="spacingAndGlyphs" >SGF29 KO</text>
<text x="508.90" y="474.88" font-size="6.6" text-anchor="end" fill="#4a64aa" stroke="#4a64aa" stroke-width="0.16" textLength="13.1" lengthAdjust="spacingAndGlyphs" >NTC</text>
<text x="337.00" y="482.57" font-size="6.3" text-anchor="middle" fill="#333" stroke="#333" stroke-width="0.16" textLength="67.3" lengthAdjust="spacingAndGlyphs" >GENTLES_LEUKEMIC_</text>
<text x="336.80" y="489.47" font-size="6.3" text-anchor="middle" fill="#333" stroke="#333" stroke-width="0.16" textLength="46.5" lengthAdjust="spacingAndGlyphs" >STEM_CELL_UP</text>
<rect x="305.05" y="537.60" width="0.70" height="15.50" fill="#333"/><rect x="314.55" y="537.60" width="0.70" height="15.50" fill="#333"/><rect x="321.95" y="537.60" width="0.70" height="15.50" fill="#333"/><rect x="330.45" y="537.60" width="0.70" height="15.50" fill="#333"/><rect x="335.75" y="537.60" width="0.70" height="15.50" fill="#333"/><rect x="340.95" y="537.60" width="0.70" height="15.50" fill="#333"/><rect x="343.15" y="537.60" width="0.70" height="15.50" fill="#333"/><rect x="345.25" y="537.60" width="0.70" height="15.50" fill="#333"/><rect x="356.85" y="537.60" width="0.70" height="15.50" fill="#333"/><rect x="357.95" y="537.60" width="0.70" height="15.50" fill="#333"/><rect x="362.15" y="537.60" width="0.70" height="15.50" fill="#333"/><rect x="370.65" y="537.60" width="0.70" height="15.50" fill="#333"/><rect x="373.75" y="537.60" width="0.70" height="15.50" fill="#333"/><rect x="374.85" y="537.60" width="0.70" height="15.50" fill="#333"/><rect x="378.05" y="537.60" width="0.70" height="15.50" fill="#333"/><rect x="379.05" y="537.60" width="0.70" height="15.50" fill="#333"/>
<rect x="288.30" y="553.10" width="92.10" height="3.40" fill="url(#gsea)" stroke="none" stroke-width="0.8" />
<line x1="288.30" y1="496.00" x2="385.00" y2="496.00" stroke="#333" stroke-width="0.7" />
<path d="M288.50,496.00 L296.00,501.50 L305.40,508.30 L306.40,506.20 L314.90,512.10 L316.00,511.40 L326.00,518.00 L339.20,527.30 L343.50,529.40 L345.60,528.40 L349.80,530.50 L357.20,534.70 L358.30,531.50 L361.40,533.70 L362.50,529.40 L371.00,535.80 L373.10,532.60 L375.20,533.70 L376.30,522.00 L378.40,521.00 L378.40,507.20 L380.10,506.20 L380.50,496.00" fill="none" stroke="#62b862" stroke-width="0.8" />
<rect x="288.30" y="494.30" width="96.70" height="62.20" fill="none" stroke="#111" stroke-width="1.0" />
<line x1="288.30" y1="537.60" x2="385.00" y2="537.60" stroke="#111" stroke-width="0.8" />
<line x1="288.30" y1="553.10" x2="385.00" y2="553.10" stroke="#111" stroke-width="0.4" />
<line x1="285.50" y1="496.00" x2="288.30" y2="496.00" stroke="#222" stroke-width="0.7" />
<text x="282.40" y="498.34" font-size="6.5" text-anchor="end" fill="#222" stroke="#222" stroke-width="0.16" >0.0</text>
<line x1="285.50" y1="503.00" x2="288.30" y2="503.00" stroke="#222" stroke-width="0.7" />
<text x="282.40" y="505.34" font-size="6.5" text-anchor="end" fill="#222" stroke="#222" stroke-width="0.16" >−0.1</text>
<line x1="285.50" y1="509.60" x2="288.30" y2="509.60" stroke="#222" stroke-width="0.7" />
<text x="282.40" y="511.94" font-size="6.5" text-anchor="end" fill="#222" stroke="#222" stroke-width="0.16" >−0.2</text>
<line x1="285.50" y1="516.50" x2="288.30" y2="516.50" stroke="#222" stroke-width="0.7" />
<text x="282.40" y="518.84" font-size="6.5" text-anchor="end" fill="#222" stroke="#222" stroke-width="0.16" >−0.3</text>
<line x1="285.50" y1="523.30" x2="288.30" y2="523.30" stroke="#222" stroke-width="0.7" />
<text x="282.40" y="525.64" font-size="6.5" text-anchor="end" fill="#222" stroke="#222" stroke-width="0.16" >−0.4</text>
<line x1="285.50" y1="529.80" x2="288.30" y2="529.80" stroke="#222" stroke-width="0.7" />
<text x="282.40" y="532.14" font-size="6.5" text-anchor="end" fill="#222" stroke="#222" stroke-width="0.16" >−0.5</text>
<line x1="285.50" y1="536.30" x2="288.30" y2="536.30" stroke="#222" stroke-width="0.7" />
<text x="282.40" y="538.64" font-size="6.5" text-anchor="end" fill="#222" stroke="#222" stroke-width="0.16" >−0.6</text>
<text transform="translate(262.50,525.40) rotate(-90)" x="0" y="3.02" font-size="8.4" text-anchor="middle" fill="#333" stroke="#333" stroke-width="0.16" textLength="64.6" lengthAdjust="spacingAndGlyphs" >Enrichment score (ES)</text>
<text x="339.80" y="504.45" font-size="6.8" text-anchor="start" fill="#222" stroke="#222" stroke-width="0.16" textLength="36.5" lengthAdjust="spacingAndGlyphs" >NES = −1.75</text>
<text x="339.80" y="511.55" font-size="6.8" text-anchor="start" fill="#222" stroke="#222" stroke-width="0.16" textLength="32.0" lengthAdjust="spacingAndGlyphs" >FDR = 0.02</text>
<text x="291.10" y="563.58" font-size="6.6" text-anchor="start" fill="#d9536a" stroke="#d9536a" stroke-width="0.16" textLength="30.9" lengthAdjust="spacingAndGlyphs" >SGF29 KO</text>
<text x="383.90" y="563.58" font-size="6.6" text-anchor="end" fill="#4a64aa" stroke="#4a64aa" stroke-width="0.16" textLength="13.2" lengthAdjust="spacingAndGlyphs" >NTC</text>
<text x="466.50" y="489.47" font-size="6.3" text-anchor="middle" fill="#333" stroke="#333" stroke-width="0.16" textLength="64.6" lengthAdjust="spacingAndGlyphs" >EPPERT_CE_HSC_LSC</text>
<rect x="426.15" y="536.20" width="0.70" height="14.20" fill="#333"/><rect x="447.75" y="536.20" width="0.70" height="14.20" fill="#333"/><rect x="461.45" y="536.20" width="0.70" height="14.20" fill="#333"/><rect x="463.55" y="536.20" width="0.70" height="14.20" fill="#333"/><rect x="465.75" y="536.20" width="0.70" height="14.20" fill="#333"/><rect x="467.85" y="536.20" width="0.70" height="14.20" fill="#333"/><rect x="475.25" y="536.20" width="0.70" height="14.20" fill="#333"/><rect x="479.45" y="536.20" width="0.70" height="14.20" fill="#333"/><rect x="485.85" y="536.20" width="0.70" height="14.20" fill="#333"/><rect x="486.85" y="536.20" width="0.70" height="14.20" fill="#333"/><rect x="493.25" y="536.20" width="0.70" height="14.20" fill="#333"/><rect x="498.55" y="536.20" width="0.70" height="14.20" fill="#333"/><rect x="503.75" y="536.20" width="0.70" height="14.20" fill="#333"/><rect x="509.05" y="536.20" width="0.70" height="14.20" fill="#333"/>
<rect x="419.80" y="550.40" width="89.00" height="4.00" fill="url(#gsea)" stroke="none" stroke-width="0.8" />
<line x1="419.80" y1="497.30" x2="513.00" y2="497.30" stroke="#333" stroke-width="0.7" />
<path d="M419.50,497.30 L426.50,502.30 L427.30,497.30 L438.00,505.00 L448.10,512.50 L449.10,513.60 L455.00,518.50 L461.80,524.10 L468.20,527.30 L470.30,526.90 L473.50,529.40 L475.60,528.40 L478.80,531.10 L479.80,528.40 L485.10,533.70 L486.20,533.20 L489.30,523.50 L490.40,524.10 L493.60,519.90 L494.60,522.00 L498.90,516.70 L499.90,518.40 L504.10,514.60 L504.80,504.00 L506.30,503.00 L507.30,496.60" fill="none" stroke="#62b862" stroke-width="0.8" />
<rect x="419.80" y="494.80" width="93.20" height="59.60" fill="none" stroke="#111" stroke-width="1.0" />
<line x1="419.80" y1="536.20" x2="513.00" y2="536.20" stroke="#111" stroke-width="0.8" />
<line x1="419.80" y1="550.40" x2="513.00" y2="550.40" stroke="#111" stroke-width="0.4" />
<line x1="417.00" y1="497.40" x2="419.80" y2="497.40" stroke="#222" stroke-width="0.7" />
<text x="414.40" y="499.74" font-size="6.5" text-anchor="end" fill="#222" stroke="#222" stroke-width="0.16" >0.0</text>
<line x1="417.00" y1="504.40" x2="419.80" y2="504.40" stroke="#222" stroke-width="0.7" />
<text x="414.40" y="506.74" font-size="6.5" text-anchor="end" fill="#222" stroke="#222" stroke-width="0.16" >−0.1</text>
<line x1="417.00" y1="511.60" x2="419.80" y2="511.60" stroke="#222" stroke-width="0.7" />
<text x="414.40" y="513.94" font-size="6.5" text-anchor="end" fill="#222" stroke="#222" stroke-width="0.16" >−0.2</text>
<line x1="417.00" y1="518.90" x2="419.80" y2="518.90" stroke="#222" stroke-width="0.7" />
<text x="414.40" y="521.24" font-size="6.5" text-anchor="end" fill="#222" stroke="#222" stroke-width="0.16" >−0.3</text>
<line x1="417.00" y1="526.20" x2="419.80" y2="526.20" stroke="#222" stroke-width="0.7" />
<text x="414.40" y="528.54" font-size="6.5" text-anchor="end" fill="#222" stroke="#222" stroke-width="0.16" >−0.4</text>
<line x1="417.00" y1="533.40" x2="419.80" y2="533.40" stroke="#222" stroke-width="0.7" />
<text x="414.40" y="535.74" font-size="6.5" text-anchor="end" fill="#222" stroke="#222" stroke-width="0.16" >−0.5</text>
<text transform="translate(395.40,524.60) rotate(-90)" x="0" y="3.02" font-size="8.4" text-anchor="middle" fill="#333" stroke="#333" stroke-width="0.16" textLength="64.6" lengthAdjust="spacingAndGlyphs" >Enrichment score (ES)</text>
<text x="463.90" y="505.45" font-size="6.8" text-anchor="start" fill="#222" stroke="#222" stroke-width="0.16" textLength="35.5" lengthAdjust="spacingAndGlyphs" >NES = −1.59</text>
<text x="463.90" y="512.95" font-size="6.8" text-anchor="start" fill="#222" stroke="#222" stroke-width="0.16" textLength="35.5" lengthAdjust="spacingAndGlyphs" >FDR = 0.041</text>
<text x="419.40" y="563.18" font-size="6.6" text-anchor="start" fill="#d9536a" stroke="#d9536a" stroke-width="0.16" textLength="30.4" lengthAdjust="spacingAndGlyphs" >SGF29 KO</text>
<text x="513.00" y="563.18" font-size="6.6" text-anchor="end" fill="#4a64aa" stroke="#4a64aa" stroke-width="0.16" textLength="13.1" lengthAdjust="spacingAndGlyphs" >NTC</text>
<text x="63.00" y="585.69" font-size="12" text-anchor="start" fill="#111" stroke="#111" stroke-width="0" font-weight="bold" >L</text>
<line x1="101.60" y1="585.40" x2="101.60" y2="668.20" stroke="#222" stroke-width="1.0" />
<line x1="101.60" y1="667.70" x2="224.00" y2="667.70" stroke="#222" stroke-width="1.0" />
<line x1="98.60" y1="667.70" x2="101.60" y2="667.70" stroke="#222" stroke-width="0.9" />
<text x="95.90" y="670.08" font-size="6.6" text-anchor="end" fill="#333" stroke="#333" stroke-width="0.16" >0</text>
<line x1="98.60" y1="628.00" x2="101.60" y2="628.00" stroke="#222" stroke-width="0.9" />
<text x="95.90" y="630.38" font-size="6.6" text-anchor="end" fill="#333" stroke="#333" stroke-width="0.16" >50</text>
<line x1="98.60" y1="588.30" x2="101.60" y2="588.30" stroke="#222" stroke-width="0.9" />
<text x="95.90" y="590.68" font-size="6.6" text-anchor="end" fill="#333" stroke="#333" stroke-width="0.16" >100</text>
<line x1="101.60" y1="667.70" x2="101.60" y2="670.60" stroke="#222" stroke-width="0.9" />
<text x="101.60" y="680.08" font-size="6.6" text-anchor="middle" fill="#333" stroke="#333" stroke-width="0.16" >0</text>
<line x1="141.70" y1="667.70" x2="141.70" y2="670.60" stroke="#222" stroke-width="0.9" />
<text x="141.70" y="680.08" font-size="6.6" text-anchor="middle" fill="#333" stroke="#333" stroke-width="0.16" >10</text>
<line x1="181.80" y1="667.70" x2="181.80" y2="670.60" stroke="#222" stroke-width="0.9" />
<text x="181.80" y="680.08" font-size="6.6" text-anchor="middle" fill="#333" stroke="#333" stroke-width="0.16" >20</text>
<line x1="221.90" y1="667.70" x2="221.90" y2="670.60" stroke="#222" stroke-width="0.9" />
<text x="221.90" y="680.08" font-size="6.6" text-anchor="middle" fill="#333" stroke="#333" stroke-width="0.16" >30</text>
<path d="M161.75,588.30 L197.84,588.30 L197.84,641.26 L221.90,641.26 L221.90,667.70" fill="none" stroke="#c0304a" stroke-width="1.3" />
<path d="M101.60,588.30 L161.75,588.30 L161.75,620.06 L177.79,620.06 L177.79,651.82 L185.81,651.82 L185.81,667.70" fill="none" stroke="#2a5d8f" stroke-width="1.3" />
<text x="162.70" y="692.25" font-size="8.2" text-anchor="middle" fill="#333" stroke="#333" stroke-width="0.16" textLength="40.4" lengthAdjust="spacingAndGlyphs" >Days elapsed</text>
<text transform="translate(77.00,627.10) rotate(-90)" x="0" y="2.88" font-size="8.0" text-anchor="middle" fill="#333" stroke="#333" stroke-width="0.16" textLength="65" lengthAdjust="spacingAndGlyphs" >Probability of survival</text>
<line x1="110.90" y1="613.70" x2="122.90" y2="613.70" stroke="#2a5d8f" stroke-width="1.4" />
<text x="125.50" y="615.98" font-size="6.6" text-anchor="start" fill="#222" stroke="#222" stroke-width="0.16" textLength="13.3" lengthAdjust="spacingAndGlyphs" >NTC</text>
<line x1="110.90" y1="622.90" x2="122.90" y2="622.90" stroke="#c0304a" stroke-width="1.4" />
<text x="125.50" y="625.18" font-size="6.6" text-anchor="start" fill="#222" stroke="#222" stroke-width="0.16" textLength="31.6" lengthAdjust="spacingAndGlyphs" >SGF29 KO</text>
<text x="169.00" y="614.28" font-size="6.6" text-anchor="start" fill="#222" stroke="#222" stroke-width="0.16" textLength="23.4" lengthAdjust="spacingAndGlyphs" ><tspan font-style="italic">P</tspan> = .001</text>
<text x="162.20" y="654.48" font-size="6.6" text-anchor="start" fill="#222" stroke="#222" stroke-width="0.16" textLength="14.5" lengthAdjust="spacingAndGlyphs" >n = 3</text>
<text x="205.20" y="654.48" font-size="6.6" text-anchor="start" fill="#222" stroke="#222" stroke-width="0.16" textLength="14.8" lengthAdjust="spacingAndGlyphs" >n = 3</text>
<text x="103.50" y="662.08" font-size="6.6" text-anchor="start" fill="#222" stroke="#222" stroke-width="0.16" textLength="15.3" lengthAdjust="spacingAndGlyphs" >U937</text>
<text x="271.90" y="584.29" font-size="12" text-anchor="start" fill="#111" stroke="#111" stroke-width="0" font-weight="bold" >M</text>
<line x1="316.00" y1="585.60" x2="316.00" y2="668.80" stroke="#222" stroke-width="1.0" />
<line x1="316.00" y1="668.30" x2="455.50" y2="668.30" stroke="#222" stroke-width="1.0" />
<line x1="313.00" y1="668.30" x2="316.00" y2="668.30" stroke="#222" stroke-width="0.9" />
<text x="310.40" y="670.68" font-size="6.6" text-anchor="end" fill="#333" stroke="#333" stroke-width="0.16" >0</text>
<line x1="313.00" y1="628.45" x2="316.00" y2="628.45" stroke="#222" stroke-width="0.9" />
<text x="310.40" y="630.83" font-size="6.6" text-anchor="end" fill="#333" stroke="#333" stroke-width="0.16" >50</text>
<line x1="313.00" y1="588.60" x2="316.00" y2="588.60" stroke="#222" stroke-width="0.9" />
<text x="310.40" y="590.98" font-size="6.6" text-anchor="end" fill="#333" stroke="#333" stroke-width="0.16" >100</text>
<line x1="316.00" y1="668.30" x2="316.00" y2="671.20" stroke="#222" stroke-width="0.9" />
<text x="316.00" y="679.68" font-size="6.6" text-anchor="middle" fill="#333" stroke="#333" stroke-width="0.16" >0</text>
<line x1="361.13" y1="668.30" x2="361.13" y2="671.20" stroke="#222" stroke-width="0.9" />
<text x="361.13" y="679.68" font-size="6.6" text-anchor="middle" fill="#333" stroke="#333" stroke-width="0.16" >50</text>
<line x1="406.27" y1="668.30" x2="406.27" y2="671.20" stroke="#222" stroke-width="0.9" />
<text x="406.27" y="679.68" font-size="6.6" text-anchor="middle" fill="#333" stroke="#333" stroke-width="0.16" >100</text>
<line x1="451.40" y1="668.30" x2="451.40" y2="671.20" stroke="#222" stroke-width="0.9" />
<text x="451.40" y="679.68" font-size="6.6" text-anchor="middle" fill="#333" stroke="#333" stroke-width="0.16" >150</text>
<path d="M352.56,588.60 L366.10,588.60 L366.10,604.54 L370.16,604.54 L370.16,620.48 L372.87,620.48 L372.87,636.42 L383.70,636.42 L383.70,652.36 L453.66,652.36 L453.66,668.30" fill="none" stroke="#c0304a" stroke-width="1.3" />
<path d="M316.00,588.60 L352.56,588.60 L352.56,604.54 L353.91,604.54 L353.91,620.48 L357.07,620.48 L357.07,636.42 L358.43,636.42 L358.43,652.36 L361.13,652.36 L361.13,668.30" fill="none" stroke="#2a5d8f" stroke-width="1.3" />
<line x1="351.06" y1="604.54" x2="354.06" y2="604.54" stroke="#2a5d8f" stroke-width="0.7" />
<line x1="356.93" y1="636.42" x2="359.93" y2="636.42" stroke="#2a5d8f" stroke-width="0.7" />
<text x="384.90" y="691.55" font-size="8.2" text-anchor="middle" fill="#333" stroke="#333" stroke-width="0.16" textLength="40.6" lengthAdjust="spacingAndGlyphs" >Days elapsed</text>
<text transform="translate(291.60,627.10) rotate(-90)" x="0" y="2.88" font-size="8.0" text-anchor="middle" fill="#333" stroke="#333" stroke-width="0.16" textLength="65" lengthAdjust="spacingAndGlyphs" >Probability of survival</text>
<line x1="396.80" y1="612.50" x2="408.80" y2="612.50" stroke="#2a5d8f" stroke-width="1.4" />
<line x1="403.60" y1="609.40" x2="403.60" y2="612.50" stroke="#2a5d8f" stroke-width="0.9" />
<text x="412.00" y="614.68" font-size="6.6" text-anchor="start" fill="#222" stroke="#222" stroke-width="0.16" textLength="14.2" lengthAdjust="spacingAndGlyphs" >NTC</text>
<line x1="396.80" y1="622.00" x2="408.80" y2="622.00" stroke="#c0304a" stroke-width="1.4" />
<line x1="403.60" y1="618.90" x2="403.60" y2="622.00" stroke="#c0304a" stroke-width="0.9" />
<text x="412.00" y="624.18" font-size="6.6" text-anchor="start" fill="#222" stroke="#222" stroke-width="0.16" textLength="31.5" lengthAdjust="spacingAndGlyphs" >SGF29 KO</text>
<text x="363.10" y="647.88" font-size="6.6" text-anchor="start" fill="#222" stroke="#222" stroke-width="0.16" textLength="17.5" lengthAdjust="spacingAndGlyphs" >n = 5</text>
<text x="407.70" y="647.88" font-size="6.6" text-anchor="start" fill="#222" stroke="#222" stroke-width="0.16" textLength="15.4" lengthAdjust="spacingAndGlyphs" >n = 5</text>
<text x="317.80" y="663.88" font-size="6.6" text-anchor="start" fill="#222" stroke="#222" stroke-width="0.16" textLength="28.4" lengthAdjust="spacingAndGlyphs" >MOLM13</text>
<text x="367.10" y="663.88" font-size="6.6" text-anchor="start" fill="#222" stroke="#222" stroke-width="0.16" textLength="25.2" lengthAdjust="spacingAndGlyphs" ><tspan font-style="italic">P</tspan> = .004</text>
<rect x="0.5" y="0.5" width="519" height="700" fill="none" stroke="#4a4a4a" stroke-width="1"/>
</svg>
</body></html>
